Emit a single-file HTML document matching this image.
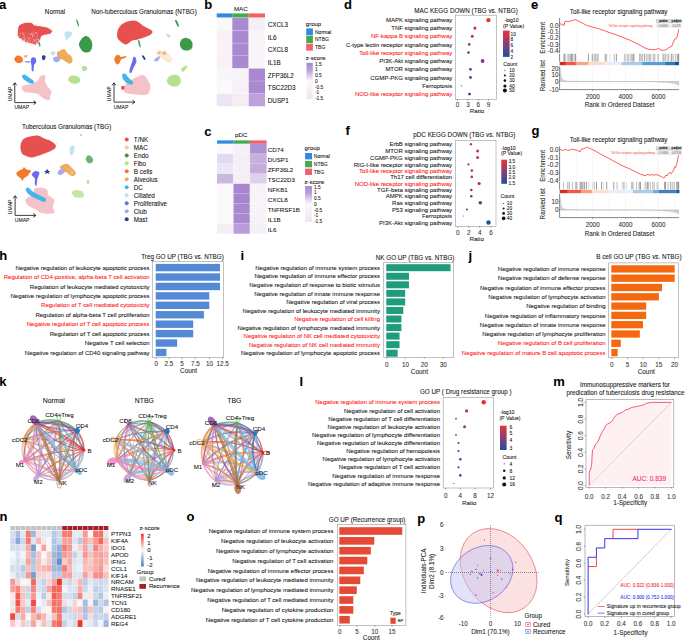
<!DOCTYPE html>
<html><head><meta charset="utf-8"><title>Figure</title>
<style>
html,body{margin:0;padding:0;background:#fff;width:685px;height:640px;overflow:hidden}
svg{display:block}
text{font-family:"Liberation Sans",sans-serif;stroke-width:0.07px}
</style></head>
<body>
<svg width="685" height="640" viewBox="0 0 685 640" font-family="Liberation Sans, sans-serif" fill="#111">
<rect width="685" height="640" fill="#ffffff"/>
<text x="-1.00" y="9.10" font-size="13" font-weight="bold" fill="#000" stroke="#000">a</text>
<text x="55.00" y="13.60" font-size="6.3" text-anchor="middle" stroke="#111">Normal</text>
<text x="144.00" y="13.60" font-size="6.3" text-anchor="middle" stroke="#111">Non-tuberculous Granulomas (NTBG)</text>
<text x="66.60" y="129.20" font-size="6.3" text-anchor="middle" stroke="#111">Tuberculous Granulomas (TBG)</text>
<path d="M18.90,26.00 C19.77,24.48 21.72,24.05 23.00,23.50 C24.28,22.95 25.15,22.77 26.60,22.70 C28.05,22.63 30.48,22.67 31.70,23.10 C32.92,23.53 32.93,24.82 33.90,25.30 C34.87,25.78 36.03,25.75 37.50,26.00 C38.97,26.25 40.98,26.48 42.70,26.80 C44.42,27.12 46.35,27.30 47.80,27.90 C49.25,28.50 50.68,29.80 51.40,30.40 C52.12,31.00 52.33,30.95 52.10,31.50 C51.87,32.05 51.22,33.15 50.00,33.70 C48.78,34.25 46.27,34.38 44.80,34.80 C43.33,35.22 41.98,35.47 41.20,36.20 C40.42,36.93 40.58,38.22 40.10,39.20 C39.62,40.18 38.97,41.20 38.30,42.10 C37.63,43.00 36.83,44.23 36.10,44.60 C35.37,44.97 34.75,44.53 33.90,44.30 C33.05,44.07 31.97,43.45 31.00,43.20 C30.03,42.95 29.08,43.10 28.10,42.80 C27.12,42.50 26.20,42.00 25.10,41.40 C24.00,40.80 22.58,39.93 21.50,39.20 C20.42,38.47 19.22,38.10 18.60,37.00 C17.98,35.90 17.75,34.43 17.80,32.60 C17.85,30.77 18.03,27.52 18.90,26.00 Z" fill="#e65050"/>
<circle cx="35.27" cy="24.45" r="0.30" fill="#e65050"/>
<circle cx="36.76" cy="43.33" r="0.30" fill="#e65050"/>
<circle cx="40.23" cy="37.65" r="0.30" fill="#e65050"/>
<circle cx="49.06" cy="28.67" r="0.30" fill="#e65050"/>
<circle cx="18.40" cy="37.89" r="0.30" fill="#e65050"/>
<circle cx="39.40" cy="42.32" r="0.30" fill="#e65050"/>
<circle cx="29.88" cy="42.89" r="0.30" fill="#e65050"/>
<circle cx="51.10" cy="34.30" r="0.30" fill="#e65050"/>
<circle cx="32.53" cy="21.82" r="0.30" fill="#e65050"/>
<circle cx="46.39" cy="35.62" r="0.30" fill="#e65050"/>
<circle cx="30.99" cy="44.04" r="0.30" fill="#e65050"/>
<circle cx="34.39" cy="43.78" r="0.30" fill="#e65050"/>
<circle cx="50.94" cy="29.48" r="0.30" fill="#e65050"/>
<circle cx="16.95" cy="27.40" r="0.30" fill="#e65050"/>
<circle cx="33.19" cy="24.54" r="0.30" fill="#e65050"/>
<circle cx="21.50" cy="25.07" r="0.30" fill="#e65050"/>
<circle cx="27.11" cy="42.91" r="0.30" fill="#e65050"/>
<circle cx="45.84" cy="26.92" r="0.30" fill="#e65050"/>
<circle cx="26.69" cy="43.25" r="0.30" fill="#e65050"/>
<circle cx="20.19" cy="25.15" r="0.30" fill="#e65050"/>
<circle cx="31.58" cy="43.55" r="0.30" fill="#e65050"/>
<circle cx="24.78" cy="23.86" r="0.30" fill="#e65050"/>
<circle cx="38.97" cy="40.70" r="0.30" fill="#e65050"/>
<circle cx="22.45" cy="40.22" r="0.30" fill="#e65050"/>
<circle cx="21.13" cy="39.54" r="0.30" fill="#e65050"/>
<circle cx="52.20" cy="30.80" r="0.30" fill="#e65050"/>
<circle cx="38.06" cy="41.97" r="0.30" fill="#e65050"/>
<circle cx="23.90" cy="40.51" r="0.30" fill="#e65050"/>
<circle cx="40.85" cy="26.55" r="0.30" fill="#e65050"/>
<circle cx="34.82" cy="43.81" r="0.30" fill="#e65050"/>
<circle cx="44.32" cy="28.02" r="0.30" fill="#e65050"/>
<circle cx="22.00" cy="40.92" r="0.30" fill="#e65050"/>
<circle cx="26.19" cy="23.52" r="0.30" fill="#e65050"/>
<circle cx="28.26" cy="44.11" r="0.30" fill="#e65050"/>
<circle cx="37.78" cy="43.22" r="0.30" fill="#e65050"/>
<circle cx="47.17" cy="33.76" r="0.30" fill="#e65050"/>
<circle cx="47.76" cy="27.45" r="0.30" fill="#e65050"/>
<circle cx="50.29" cy="32.25" r="0.30" fill="#e65050"/>
<circle cx="26.01" cy="23.14" r="0.30" fill="#e65050"/>
<circle cx="18.65" cy="28.00" r="0.30" fill="#e65050"/>
<circle cx="25.40" cy="41.27" r="0.30" fill="#e65050"/>
<circle cx="17.01" cy="35.53" r="0.30" fill="#e65050"/>
<circle cx="39.40" cy="38.34" r="0.30" fill="#e65050"/>
<circle cx="25.23" cy="42.03" r="0.30" fill="#e65050"/>
<circle cx="40.87" cy="39.34" r="0.30" fill="#e65050"/>
<circle cx="33.63" cy="43.86" r="0.30" fill="#e65050"/>
<circle cx="34.00" cy="25.17" r="0.30" fill="#e65050"/>
<circle cx="23.12" cy="39.51" r="0.30" fill="#e65050"/>
<circle cx="52.41" cy="30.62" r="0.30" fill="#e65050"/>
<circle cx="35.77" cy="25.02" r="0.30" fill="#e65050"/>
<circle cx="30.62" cy="34.34" r="0.49" fill="#ffffff" fill-opacity="0.8"/>
<circle cx="37.48" cy="37.61" r="0.40" fill="#ffffff" fill-opacity="0.8"/>
<circle cx="23.29" cy="34.66" r="0.29" fill="#ffffff" fill-opacity="0.8"/>
<circle cx="32.85" cy="34.55" r="0.49" fill="#ffffff" fill-opacity="0.8"/>
<circle cx="20.41" cy="34.32" r="0.23" fill="#ffffff" fill-opacity="0.8"/>
<circle cx="34.40" cy="36.40" r="0.34" fill="#ffffff" fill-opacity="0.8"/>
<circle cx="25.52" cy="39.65" r="0.32" fill="#ffffff" fill-opacity="0.8"/>
<circle cx="23.17" cy="37.16" r="0.29" fill="#ffffff" fill-opacity="0.8"/>
<circle cx="21.22" cy="41.88" r="0.40" fill="#ffffff" fill-opacity="0.8"/>
<circle cx="32.30" cy="42.59" r="0.32" fill="#ffffff" fill-opacity="0.8"/>
<circle cx="26.59" cy="37.08" r="0.32" fill="#ffffff" fill-opacity="0.8"/>
<circle cx="32.38" cy="32.08" r="0.34" fill="#ffffff" fill-opacity="0.8"/>
<circle cx="29.70" cy="36.15" r="0.21" fill="#ffffff" fill-opacity="0.8"/>
<circle cx="33.09" cy="32.11" r="0.37" fill="#ffffff" fill-opacity="0.8"/>
<circle cx="22.07" cy="32.41" r="0.25" fill="#ffffff" fill-opacity="0.8"/>
<circle cx="20.31" cy="33.81" r="0.41" fill="#ffffff" fill-opacity="0.8"/>
<circle cx="33.57" cy="36.35" r="0.40" fill="#ffffff" fill-opacity="0.8"/>
<circle cx="28.50" cy="37.98" r="0.46" fill="#ffffff" fill-opacity="0.8"/>
<circle cx="25.23" cy="42.44" r="0.41" fill="#ffffff" fill-opacity="0.8"/>
<circle cx="32.67" cy="32.07" r="0.23" fill="#ffffff" fill-opacity="0.8"/>
<circle cx="19.64" cy="36.15" r="0.48" fill="#ffffff" fill-opacity="0.8"/>
<circle cx="36.51" cy="42.06" r="0.24" fill="#ffffff" fill-opacity="0.8"/>
<circle cx="33.11" cy="41.29" r="0.44" fill="#ffffff" fill-opacity="0.8"/>
<circle cx="34.84" cy="33.68" r="0.25" fill="#ffffff" fill-opacity="0.8"/>
<circle cx="34.85" cy="40.86" r="0.47" fill="#ffffff" fill-opacity="0.8"/>
<circle cx="27.93" cy="42.67" r="0.24" fill="#ffffff" fill-opacity="0.8"/>
<circle cx="38.14" cy="42.61" r="0.30" fill="#ffffff" fill-opacity="0.8"/>
<circle cx="20.35" cy="38.58" r="0.41" fill="#ffffff" fill-opacity="0.8"/>
<circle cx="26.01" cy="32.69" r="0.28" fill="#ffffff" fill-opacity="0.8"/>
<circle cx="35.49" cy="33.09" r="0.48" fill="#ffffff" fill-opacity="0.8"/>
<circle cx="24.00" cy="34.45" r="0.23" fill="#ffffff" fill-opacity="0.8"/>
<circle cx="38.62" cy="42.81" r="0.30" fill="#ffffff" fill-opacity="0.8"/>
<circle cx="20.91" cy="39.84" r="0.47" fill="#ffffff" fill-opacity="0.8"/>
<circle cx="19.24" cy="39.60" r="0.46" fill="#ffffff" fill-opacity="0.8"/>
<circle cx="28.18" cy="38.83" r="0.44" fill="#ffffff" fill-opacity="0.8"/>
<circle cx="23.77" cy="35.28" r="0.40" fill="#ffffff" fill-opacity="0.8"/>
<circle cx="30.05" cy="38.42" r="0.30" fill="#ffffff" fill-opacity="0.8"/>
<circle cx="37.74" cy="35.46" r="0.40" fill="#ffffff" fill-opacity="0.8"/>
<circle cx="36.88" cy="36.81" r="0.22" fill="#ffffff" fill-opacity="0.8"/>
<circle cx="23.41" cy="32.80" r="0.24" fill="#ffffff" fill-opacity="0.8"/>
<circle cx="21.41" cy="36.11" r="0.31" fill="#ffffff" fill-opacity="0.8"/>
<circle cx="27.95" cy="39.98" r="0.40" fill="#ffffff" fill-opacity="0.8"/>
<circle cx="32.74" cy="36.37" r="0.40" fill="#ffffff" fill-opacity="0.8"/>
<circle cx="30.00" cy="33.53" r="0.36" fill="#ffffff" fill-opacity="0.8"/>
<circle cx="25.37" cy="40.11" r="0.42" fill="#ffffff" fill-opacity="0.8"/>
<circle cx="23.81" cy="37.22" r="0.34" fill="#ffffff" fill-opacity="0.8"/>
<circle cx="24.94" cy="32.49" r="0.21" fill="#ffffff" fill-opacity="0.8"/>
<circle cx="38.86" cy="40.88" r="0.33" fill="#ffffff" fill-opacity="0.8"/>
<circle cx="32.33" cy="35.23" r="0.41" fill="#ffffff" fill-opacity="0.8"/>
<circle cx="38.02" cy="41.28" r="0.34" fill="#ffffff" fill-opacity="0.8"/>
<circle cx="38.67" cy="43.07" r="0.22" fill="#ffffff" fill-opacity="0.8"/>
<circle cx="27.24" cy="37.42" r="0.28" fill="#ffffff" fill-opacity="0.8"/>
<circle cx="31.33" cy="33.72" r="0.42" fill="#ffffff" fill-opacity="0.8"/>
<circle cx="36.15" cy="32.74" r="0.41" fill="#ffffff" fill-opacity="0.8"/>
<circle cx="24.32" cy="39.66" r="0.41" fill="#ffffff" fill-opacity="0.8"/>
<circle cx="38.53" cy="41.58" r="0.30" fill="#ffffff" fill-opacity="0.8"/>
<circle cx="33.60" cy="33.76" r="0.41" fill="#ffffff" fill-opacity="0.8"/>
<circle cx="27.34" cy="35.18" r="0.27" fill="#ffffff" fill-opacity="0.8"/>
<circle cx="23.34" cy="41.56" r="0.23" fill="#ffffff" fill-opacity="0.8"/>
<circle cx="23.65" cy="34.31" r="0.25" fill="#ffffff" fill-opacity="0.8"/>
<circle cx="33.60" cy="39.05" r="0.40" fill="#ffffff" fill-opacity="0.8"/>
<circle cx="37.00" cy="37.38" r="0.21" fill="#ffffff" fill-opacity="0.8"/>
<circle cx="22.79" cy="38.20" r="0.41" fill="#ffffff" fill-opacity="0.8"/>
<circle cx="37.37" cy="38.13" r="0.27" fill="#ffffff" fill-opacity="0.8"/>
<circle cx="30.85" cy="43.22" r="0.30" fill="#ffffff" fill-opacity="0.8"/>
<circle cx="37.62" cy="42.85" r="0.37" fill="#ffffff" fill-opacity="0.8"/>
<circle cx="28.62" cy="33.55" r="0.23" fill="#ffffff" fill-opacity="0.8"/>
<circle cx="19.82" cy="39.34" r="0.41" fill="#ffffff" fill-opacity="0.8"/>
<circle cx="38.87" cy="39.23" r="0.50" fill="#ffffff" fill-opacity="0.8"/>
<circle cx="27.06" cy="33.61" r="0.22" fill="#ffffff" fill-opacity="0.8"/>
<circle cx="24.76" cy="38.37" r="0.50" fill="#ffffff" fill-opacity="0.8"/>
<circle cx="24.94" cy="34.82" r="0.42" fill="#ffffff" fill-opacity="0.8"/>
<circle cx="26.77" cy="38.70" r="0.25" fill="#ffffff" fill-opacity="0.8"/>
<circle cx="36.07" cy="43.03" r="0.43" fill="#ffffff" fill-opacity="0.8"/>
<circle cx="37.71" cy="35.99" r="0.21" fill="#ffffff" fill-opacity="0.8"/>
<circle cx="25.10" cy="42.77" r="0.34" fill="#ffffff" fill-opacity="0.8"/>
<circle cx="23.01" cy="33.81" r="0.25" fill="#ffffff" fill-opacity="0.8"/>
<circle cx="27.78" cy="43.11" r="0.47" fill="#ffffff" fill-opacity="0.8"/>
<circle cx="34.15" cy="41.07" r="0.26" fill="#ffffff" fill-opacity="0.8"/>
<circle cx="34.55" cy="34.69" r="0.36" fill="#ffffff" fill-opacity="0.8"/>
<circle cx="19.67" cy="42.71" r="0.24" fill="#ffffff" fill-opacity="0.8"/>
<circle cx="30.85" cy="39.95" r="0.39" fill="#ffffff" fill-opacity="0.8"/>
<circle cx="32.65" cy="36.43" r="0.44" fill="#ffffff" fill-opacity="0.8"/>
<circle cx="37.77" cy="39.41" r="0.49" fill="#ffffff" fill-opacity="0.8"/>
<circle cx="36.00" cy="32.67" r="0.40" fill="#ffffff" fill-opacity="0.8"/>
<circle cx="20.83" cy="39.94" r="0.31" fill="#ffffff" fill-opacity="0.8"/>
<circle cx="36.09" cy="32.54" r="0.48" fill="#ffffff" fill-opacity="0.8"/>
<circle cx="19.87" cy="32.68" r="0.20" fill="#ffffff" fill-opacity="0.8"/>
<circle cx="21.51" cy="43.83" r="0.45" fill="#ffffff" fill-opacity="0.8"/>
<circle cx="37.34" cy="34.24" r="0.41" fill="#ffffff" fill-opacity="0.8"/>
<circle cx="34.90" cy="40.72" r="0.28" fill="#ffffff" fill-opacity="0.8"/>
<circle cx="38.42" cy="40.74" r="0.41" fill="#ffffff" fill-opacity="0.8"/>
<circle cx="24.69" cy="36.77" r="0.43" fill="#ffffff" fill-opacity="0.8"/>
<circle cx="29.33" cy="37.86" r="0.48" fill="#ffffff" fill-opacity="0.8"/>
<circle cx="27.41" cy="42.31" r="0.21" fill="#ffffff" fill-opacity="0.8"/>
<circle cx="29.61" cy="40.56" r="0.20" fill="#ffffff" fill-opacity="0.8"/>
<circle cx="32.93" cy="35.43" r="0.39" fill="#ffffff" fill-opacity="0.8"/>
<circle cx="31.47" cy="33.64" r="0.48" fill="#ffffff" fill-opacity="0.8"/>
<circle cx="23.85" cy="33.64" r="0.33" fill="#ffffff" fill-opacity="0.8"/>
<circle cx="20.28" cy="33.22" r="0.43" fill="#ffffff" fill-opacity="0.8"/>
<circle cx="20.95" cy="38.50" r="0.47" fill="#ffffff" fill-opacity="0.8"/>
<circle cx="28.08" cy="41.77" r="0.45" fill="#ffffff" fill-opacity="0.8"/>
<circle cx="22.29" cy="32.92" r="0.44" fill="#ffffff" fill-opacity="0.8"/>
<circle cx="36.33" cy="42.24" r="0.41" fill="#ffffff" fill-opacity="0.8"/>
<circle cx="29.20" cy="43.49" r="0.42" fill="#ffffff" fill-opacity="0.8"/>
<circle cx="34.26" cy="42.94" r="0.22" fill="#ffffff" fill-opacity="0.8"/>
<circle cx="33.82" cy="39.01" r="0.20" fill="#ffffff" fill-opacity="0.8"/>
<circle cx="24.11" cy="40.59" r="0.36" fill="#ffffff" fill-opacity="0.8"/>
<circle cx="30.25" cy="35.45" r="0.37" fill="#ffffff" fill-opacity="0.8"/>
<circle cx="36.58" cy="43.76" r="0.37" fill="#ffffff" fill-opacity="0.8"/>
<circle cx="36.69" cy="40.74" r="0.38" fill="#ffffff" fill-opacity="0.8"/>
<circle cx="33.02" cy="39.29" r="0.22" fill="#ffffff" fill-opacity="0.8"/>
<circle cx="31.04" cy="38.73" r="0.30" fill="#ffffff" fill-opacity="0.8"/>
<circle cx="35.35" cy="43.23" r="0.23" fill="#ffffff" fill-opacity="0.8"/>
<circle cx="23.23" cy="39.33" r="0.41" fill="#ffffff" fill-opacity="0.8"/>
<circle cx="22.37" cy="39.35" r="0.23" fill="#ffffff" fill-opacity="0.8"/>
<circle cx="23.91" cy="41.14" r="0.25" fill="#ffffff" fill-opacity="0.8"/>
<circle cx="28.14" cy="42.40" r="0.38" fill="#ffffff" fill-opacity="0.8"/>
<circle cx="28.23" cy="42.72" r="0.34" fill="#ffffff" fill-opacity="0.8"/>
<circle cx="34.40" cy="39.49" r="0.29" fill="#ffffff" fill-opacity="0.8"/>
<circle cx="30.71" cy="43.68" r="0.35" fill="#ffffff" fill-opacity="0.8"/>
<circle cx="29.12" cy="39.51" r="0.27" fill="#ffffff" fill-opacity="0.8"/>
<circle cx="25.24" cy="43.92" r="0.42" fill="#ffffff" fill-opacity="0.8"/>
<circle cx="35.42" cy="41.17" r="0.38" fill="#ffffff" fill-opacity="0.8"/>
<circle cx="26.45" cy="40.89" r="0.24" fill="#ffffff" fill-opacity="0.8"/>
<circle cx="28.30" cy="39.52" r="0.22" fill="#ffffff" fill-opacity="0.8"/>
<circle cx="35.79" cy="38.58" r="0.40" fill="#ffffff" fill-opacity="0.8"/>
<circle cx="32.49" cy="38.54" r="0.32" fill="#ffffff" fill-opacity="0.8"/>
<circle cx="36.94" cy="43.92" r="0.34" fill="#ffffff" fill-opacity="0.8"/>
<circle cx="33.58" cy="42.25" r="0.27" fill="#ffffff" fill-opacity="0.8"/>
<circle cx="30.25" cy="41.58" r="0.30" fill="#ffffff" fill-opacity="0.8"/>
<circle cx="34.28" cy="40.67" r="0.39" fill="#ffffff" fill-opacity="0.8"/>
<circle cx="22.97" cy="40.67" r="0.21" fill="#ffffff" fill-opacity="0.8"/>
<circle cx="31.70" cy="43.24" r="0.34" fill="#ffffff" fill-opacity="0.8"/>
<circle cx="30.48" cy="41.73" r="0.26" fill="#ffffff" fill-opacity="0.8"/>
<circle cx="27.79" cy="41.47" r="0.36" fill="#ffffff" fill-opacity="0.8"/>
<circle cx="27.70" cy="40.86" r="0.28" fill="#ffffff" fill-opacity="0.8"/>
<circle cx="30.31" cy="42.06" r="0.28" fill="#ffffff" fill-opacity="0.8"/>
<circle cx="32.27" cy="43.09" r="0.33" fill="#ffffff" fill-opacity="0.8"/>
<circle cx="36.71" cy="39.86" r="0.43" fill="#ffffff" fill-opacity="0.8"/>
<circle cx="24.73" cy="40.18" r="0.40" fill="#ffffff" fill-opacity="0.8"/>
<circle cx="22.49" cy="41.69" r="0.42" fill="#ffffff" fill-opacity="0.8"/>
<circle cx="36.16" cy="42.09" r="0.29" fill="#ffffff" fill-opacity="0.8"/>
<circle cx="26.98" cy="41.79" r="0.22" fill="#ffffff" fill-opacity="0.8"/>
<circle cx="22.42" cy="43.29" r="0.36" fill="#ffffff" fill-opacity="0.8"/>
<circle cx="24.44" cy="40.57" r="0.27" fill="#ffffff" fill-opacity="0.8"/>
<circle cx="35.04" cy="39.72" r="0.38" fill="#ffffff" fill-opacity="0.8"/>
<circle cx="33.16" cy="39.91" r="0.26" fill="#ffffff" fill-opacity="0.8"/>
<circle cx="29.82" cy="40.40" r="0.35" fill="#ffffff" fill-opacity="0.8"/>
<circle cx="26.92" cy="42.77" r="0.31" fill="#ffffff" fill-opacity="0.8"/>
<path d="M38.50,41.60 C38.67,41.30 39.25,41.53 39.60,42.20 C39.95,42.87 40.60,44.90 40.60,45.60 C40.60,46.30 39.93,46.67 39.60,46.40 C39.27,46.13 38.78,44.80 38.60,44.00 C38.42,43.20 38.33,41.90 38.50,41.60 Z" fill="#3a9a48"/>
<path d="M82.00,38.40 C83.17,37.13 84.67,36.08 86.00,36.10 C87.33,36.12 88.95,37.13 90.00,38.50 C91.05,39.87 92.27,42.17 92.30,44.30 C92.33,46.43 91.53,49.97 90.20,51.30 C88.87,52.63 85.92,52.77 84.30,52.30 C82.68,51.83 81.38,49.93 80.50,48.50 C79.62,47.07 78.75,45.38 79.00,43.70 C79.25,42.02 80.83,39.67 82.00,38.40 Z" fill="#3a9a48"/>
<circle cx="81.79" cy="38.63" r="0.30" fill="#3a9a48"/>
<circle cx="92.32" cy="46.16" r="0.30" fill="#3a9a48"/>
<circle cx="87.79" cy="38.07" r="0.30" fill="#3a9a48"/>
<circle cx="84.29" cy="37.39" r="0.30" fill="#3a9a48"/>
<circle cx="91.09" cy="41.13" r="0.30" fill="#3a9a48"/>
<circle cx="91.10" cy="48.95" r="0.30" fill="#3a9a48"/>
<circle cx="91.47" cy="48.40" r="0.30" fill="#3a9a48"/>
<circle cx="81.01" cy="40.96" r="0.30" fill="#3a9a48"/>
<circle cx="88.34" cy="37.44" r="0.30" fill="#3a9a48"/>
<circle cx="87.45" cy="37.30" r="0.30" fill="#3a9a48"/>
<path d="M76.20,19.80 C76.23,19.23 77.13,19.65 77.60,20.60 C78.07,21.55 78.83,24.47 79.00,25.50 C79.17,26.53 78.87,27.05 78.60,26.80 C78.33,26.55 77.80,25.17 77.40,24.00 C77.00,22.83 76.17,20.37 76.20,19.80 Z" fill="#3a9a48"/>
<path d="M65.20,32.00 C65.85,31.58 67.40,31.47 68.50,31.50 C69.60,31.53 71.30,31.53 71.80,32.20 C72.30,32.87 71.88,34.62 71.50,35.50 C71.12,36.38 70.17,36.88 69.50,37.50 C68.83,38.12 68.07,38.65 67.50,39.20 C66.93,39.75 66.48,41.17 66.10,40.80 C65.72,40.43 65.45,38.13 65.20,37.00 C64.95,35.87 64.60,34.83 64.60,34.00 C64.60,33.17 64.55,32.42 65.20,32.00 Z" fill="#bfe3f3"/>
<path d="M57.00,52.50 C57.50,51.50 59.37,51.08 60.50,50.50 C61.63,49.92 62.88,48.95 63.80,49.00 C64.72,49.05 65.38,50.05 66.00,50.80 C66.62,51.55 66.75,52.72 67.50,53.50 C68.25,54.28 69.65,54.50 70.50,55.50 C71.35,56.50 72.43,58.28 72.60,59.50 C72.77,60.72 72.10,62.12 71.50,62.80 C70.90,63.48 69.83,63.68 69.00,63.60 C68.17,63.52 67.42,62.90 66.50,62.30 C65.58,61.70 64.58,60.63 63.50,60.00 C62.42,59.37 61.00,59.08 60.00,58.50 C59.00,57.92 58.00,57.50 57.50,56.50 C57.00,55.50 56.50,53.50 57.00,52.50 Z" fill="#f0aa5c"/>
<path d="M53.20,58.00 C53.62,57.18 55.40,56.48 56.50,56.40 C57.60,56.32 59.17,56.90 59.80,57.50 C60.43,58.10 60.68,59.23 60.30,60.00 C59.92,60.77 58.55,61.88 57.50,62.10 C56.45,62.32 54.72,61.98 54.00,61.30 C53.28,60.62 52.78,58.82 53.20,58.00 Z" fill="#a9a9f2"/>
<path d="M51.00,52.00 C51.50,51.52 53.25,51.35 54.00,51.60 C54.75,51.85 55.67,52.87 55.50,53.50 C55.33,54.13 53.75,55.23 53.00,55.40 C52.25,55.57 51.33,55.07 51.00,54.50 C50.67,53.93 50.50,52.48 51.00,52.00 Z" fill="#bfe3f3"/>
<path d="M42.00,56.50 C42.20,55.78 42.90,55.00 43.50,55.00 C44.10,55.00 45.32,55.92 45.60,56.50 C45.88,57.08 45.47,57.88 45.20,58.50 C44.93,59.12 44.48,60.07 44.00,60.20 C43.52,60.33 42.63,59.92 42.30,59.30 C41.97,58.68 41.80,57.22 42.00,56.50 Z" fill="#2d3f8f"/>
<path d="M15.00,57.50 C15.47,56.75 16.58,55.72 17.50,55.50 C18.42,55.28 19.62,55.70 20.50,56.20 C21.38,56.70 22.45,57.62 22.80,58.50 C23.15,59.38 23.15,60.75 22.60,61.50 C22.05,62.25 20.52,62.83 19.50,63.00 C18.48,63.17 17.30,63.00 16.50,62.50 C15.70,62.00 14.95,60.83 14.70,60.00 C14.45,59.17 14.53,58.25 15.00,57.50 Z" fill="#f37a2a"/>
<circle cx="14.62" cy="57.86" r="0.30" fill="#f37a2a"/>
<circle cx="20.93" cy="62.16" r="0.30" fill="#f37a2a"/>
<circle cx="15.77" cy="61.03" r="0.30" fill="#f37a2a"/>
<circle cx="17.44" cy="61.95" r="0.30" fill="#f37a2a"/>
<circle cx="16.40" cy="56.40" r="0.30" fill="#f37a2a"/>
<circle cx="20.89" cy="57.20" r="0.30" fill="#f37a2a"/>
<circle cx="21.71" cy="57.47" r="0.30" fill="#f37a2a"/>
<circle cx="15.45" cy="58.40" r="0.30" fill="#f37a2a"/>
<circle cx="18.30" cy="63.91" r="0.30" fill="#f37a2a"/>
<circle cx="15.20" cy="60.72" r="0.30" fill="#f37a2a"/>
<circle cx="14.30" cy="59.39" r="0.30" fill="#f37a2a"/>
<circle cx="14.68" cy="59.03" r="0.30" fill="#f37a2a"/>
<circle cx="23.50" cy="62.14" r="0.30" fill="#f37a2a"/>
<circle cx="19.88" cy="63.27" r="0.30" fill="#f37a2a"/>
<path d="M24.20,55.50 C24.67,55.07 27.02,54.85 27.40,55.20 C27.78,55.55 26.97,57.17 26.50,57.60 C26.03,58.03 24.98,58.15 24.60,57.80 C24.22,57.45 23.73,55.93 24.20,55.50 Z" fill="#f6b48a"/>
<path d="M31.50,58.00 C32.02,57.22 33.23,57.05 34.00,57.30 C34.77,57.55 35.80,58.58 36.10,59.50 C36.40,60.42 36.15,61.88 35.80,62.80 C35.45,63.72 34.35,64.13 34.00,65.00 C33.65,65.87 33.83,66.90 33.70,68.00 C33.57,69.10 33.55,71.27 33.20,71.60 C32.85,71.93 31.87,70.93 31.60,70.00 C31.33,69.07 31.72,67.33 31.60,66.00 C31.48,64.67 30.92,63.33 30.90,62.00 C30.88,60.67 30.98,58.78 31.50,58.00 Z" fill="#6a6cf0"/>
<path d="M25.20,61.10 C26.03,60.93 29.53,61.15 30.40,61.40 C31.27,61.65 31.23,62.43 30.40,62.60 C29.57,62.77 26.27,62.65 25.40,62.40 C24.53,62.15 24.37,61.27 25.20,61.10 Z" fill="#9d9ff5"/>
<path d="M81.80,67.20 C82.05,66.42 83.60,65.95 84.50,66.00 C85.40,66.05 86.92,66.80 87.20,67.50 C87.48,68.20 86.90,69.67 86.20,70.20 C85.50,70.73 83.73,71.20 83.00,70.70 C82.27,70.20 81.55,67.98 81.80,67.20 Z" fill="#b5e08e"/>
<path d="M69.00,77.50 C69.57,76.68 70.83,75.85 72.00,75.60 C73.17,75.35 74.75,75.60 76.00,76.00 C77.25,76.40 78.80,77.17 79.50,78.00 C80.20,78.83 80.62,80.10 80.20,81.00 C79.78,81.90 78.37,83.03 77.00,83.40 C75.63,83.77 73.40,83.68 72.00,83.20 C70.60,82.72 69.10,81.45 68.60,80.50 C68.10,79.55 68.43,78.32 69.00,77.50 Z" fill="#b5e08e"/>
<circle cx="68.27" cy="79.49" r="0.30" fill="#b5e08e"/>
<circle cx="74.53" cy="84.14" r="0.30" fill="#b5e08e"/>
<circle cx="79.53" cy="79.58" r="0.30" fill="#b5e08e"/>
<circle cx="77.27" cy="76.19" r="0.30" fill="#b5e08e"/>
<circle cx="72.80" cy="84.29" r="0.30" fill="#b5e08e"/>
<circle cx="80.89" cy="77.46" r="0.30" fill="#b5e08e"/>
<circle cx="69.21" cy="80.72" r="0.30" fill="#b5e08e"/>
<circle cx="69.82" cy="76.56" r="0.30" fill="#b5e08e"/>
<path d="M21.90,86.50 C22.40,85.50 24.65,85.37 26.00,85.00 C27.35,84.63 28.50,84.67 30.00,84.30 C31.50,83.93 33.62,83.52 35.00,82.80 C36.38,82.08 37.40,81.08 38.30,80.00 C39.20,78.92 39.58,77.15 40.40,76.30 C41.22,75.45 42.38,74.95 43.20,74.90 C44.02,74.85 45.00,75.07 45.30,76.00 C45.60,76.93 44.82,79.08 45.00,80.50 C45.18,81.92 45.73,83.20 46.40,84.50 C47.07,85.80 48.15,87.05 49.00,88.30 C49.85,89.55 51.25,90.80 51.50,92.00 C51.75,93.20 50.87,94.17 50.50,95.50 C50.13,96.83 50.13,99.33 49.30,100.00 C48.47,100.67 46.80,100.00 45.50,99.50 C44.20,99.00 42.83,97.92 41.50,97.00 C40.17,96.08 38.95,94.67 37.50,94.00 C36.05,93.33 34.47,93.25 32.80,93.00 C31.13,92.75 29.13,92.83 27.50,92.50 C25.87,92.17 23.93,92.00 23.00,91.00 C22.07,90.00 21.40,87.50 21.90,86.50 Z" fill="#f4c3c8"/>
<circle cx="45.68" cy="78.89" r="0.30" fill="#f4c3c8"/>
<circle cx="28.38" cy="91.74" r="0.30" fill="#f4c3c8"/>
<circle cx="45.68" cy="76.33" r="0.30" fill="#f4c3c8"/>
<circle cx="49.68" cy="98.75" r="0.30" fill="#f4c3c8"/>
<circle cx="36.32" cy="92.71" r="0.30" fill="#f4c3c8"/>
<circle cx="27.11" cy="92.34" r="0.30" fill="#f4c3c8"/>
<circle cx="21.22" cy="88.53" r="0.30" fill="#f4c3c8"/>
<circle cx="50.85" cy="98.52" r="0.30" fill="#f4c3c8"/>
<circle cx="50.53" cy="93.04" r="0.30" fill="#f4c3c8"/>
<circle cx="46.77" cy="101.14" r="0.30" fill="#f4c3c8"/>
<circle cx="25.58" cy="92.86" r="0.30" fill="#f4c3c8"/>
<circle cx="24.38" cy="84.37" r="0.30" fill="#f4c3c8"/>
<circle cx="52.60" cy="92.61" r="0.30" fill="#f4c3c8"/>
<circle cx="44.65" cy="73.73" r="0.30" fill="#f4c3c8"/>
<circle cx="37.26" cy="95.64" r="0.30" fill="#f4c3c8"/>
<circle cx="45.44" cy="98.84" r="0.30" fill="#f4c3c8"/>
<circle cx="34.16" cy="82.86" r="0.30" fill="#f4c3c8"/>
<circle cx="50.99" cy="90.10" r="0.30" fill="#f4c3c8"/>
<circle cx="27.87" cy="84.05" r="0.30" fill="#f4c3c8"/>
<circle cx="44.77" cy="76.38" r="0.30" fill="#f4c3c8"/>
<circle cx="51.51" cy="89.41" r="0.30" fill="#f4c3c8"/>
<circle cx="42.70" cy="97.73" r="0.30" fill="#f4c3c8"/>
<circle cx="36.88" cy="80.34" r="0.30" fill="#f4c3c8"/>
<circle cx="44.68" cy="79.74" r="0.30" fill="#f4c3c8"/>
<path d="M22.30,75.30 C22.63,74.68 24.05,74.55 25.00,74.80 C25.95,75.05 26.92,76.05 28.00,76.80 C29.08,77.55 30.53,78.52 31.50,79.30 C32.47,80.08 33.55,80.78 33.80,81.50 C34.05,82.22 33.72,83.35 33.00,83.60 C32.28,83.85 30.67,83.43 29.50,83.00 C28.33,82.57 27.08,81.75 26.00,81.00 C24.92,80.25 23.62,79.45 23.00,78.50 C22.38,77.55 21.97,75.92 22.30,75.30 Z" fill="#45b4ec"/>
<circle cx="32.40" cy="79.27" r="0.30" fill="#45b4ec"/>
<circle cx="23.52" cy="75.21" r="0.30" fill="#45b4ec"/>
<circle cx="33.22" cy="81.04" r="0.30" fill="#45b4ec"/>
<circle cx="34.72" cy="82.74" r="0.30" fill="#45b4ec"/>
<circle cx="33.85" cy="82.31" r="0.30" fill="#45b4ec"/>
<circle cx="33.20" cy="83.73" r="0.30" fill="#45b4ec"/>
<circle cx="29.66" cy="78.01" r="0.30" fill="#45b4ec"/>
<circle cx="22.31" cy="76.35" r="0.30" fill="#45b4ec"/>
<circle cx="33.10" cy="83.56" r="0.30" fill="#45b4ec"/>
<circle cx="27.49" cy="82.59" r="0.30" fill="#45b4ec"/>
<circle cx="24.62" cy="74.76" r="0.30" fill="#45b4ec"/>
<circle cx="24.33" cy="78.47" r="0.30" fill="#45b4ec"/>
<circle cx="32.47" cy="80.60" r="0.30" fill="#45b4ec"/>
<circle cx="30.41" cy="83.75" r="0.30" fill="#45b4ec"/>
<path d="M14.8,83.0 L14.8,102.6 L35.800000000000004,102.6" fill="none" stroke="#1a1a1a" stroke-width="0.85"/>
<path d="M12.9,85.3 L14.8,82.7 L16.7,85.3" fill="none" stroke="#1a1a1a" stroke-width="0.85"/>
<path d="M33.5,100.69999999999999 L36.1,102.6 L33.5,104.5" fill="none" stroke="#1a1a1a" stroke-width="0.85"/>
<text x="21.80" y="108.90" font-size="5.1" text-anchor="middle" stroke="#111">UMAP</text>
<text x="11.80" y="94.00" font-size="5.1" text-anchor="middle" stroke="#111" transform="rotate(-90 11.8 94.0)">UMAP</text>
<path d="M117.50,31.30 C117.92,29.33 118.75,27.77 120.00,26.30 C121.25,24.83 122.70,23.45 125.00,22.50 C127.30,21.55 131.50,20.60 133.80,20.60 C136.10,20.60 137.13,21.55 138.80,22.50 C140.47,23.45 141.93,25.15 143.80,26.30 C145.67,27.45 148.55,28.47 150.00,29.40 C151.45,30.33 152.50,30.97 152.50,31.90 C152.50,32.83 151.45,34.07 150.00,35.00 C148.55,35.93 145.88,36.77 143.80,37.50 C141.72,38.23 139.48,38.88 137.50,39.40 C135.52,39.92 133.77,39.77 131.90,40.60 C130.03,41.43 128.07,44.18 126.30,44.40 C124.53,44.62 122.77,42.95 121.30,41.90 C119.83,40.85 118.13,39.87 117.50,38.10 C116.87,36.33 117.08,33.27 117.50,31.30 Z" fill="#e65050"/>
<circle cx="142.41" cy="38.35" r="0.30" fill="#e65050"/>
<circle cx="132.38" cy="40.59" r="0.30" fill="#e65050"/>
<circle cx="137.00" cy="39.65" r="0.30" fill="#e65050"/>
<circle cx="151.50" cy="30.41" r="0.30" fill="#e65050"/>
<circle cx="140.06" cy="22.71" r="0.30" fill="#e65050"/>
<circle cx="119.75" cy="24.99" r="0.30" fill="#e65050"/>
<circle cx="120.90" cy="42.16" r="0.30" fill="#e65050"/>
<circle cx="126.98" cy="21.13" r="0.30" fill="#e65050"/>
<circle cx="134.47" cy="20.31" r="0.30" fill="#e65050"/>
<circle cx="150.48" cy="29.78" r="0.30" fill="#e65050"/>
<circle cx="120.85" cy="24.59" r="0.30" fill="#e65050"/>
<circle cx="130.34" cy="41.83" r="0.30" fill="#e65050"/>
<path d="M138.00,40.60 C138.02,39.68 139.07,39.95 139.50,41.00 C139.93,42.05 140.62,45.98 140.60,46.90 C140.58,47.82 139.83,47.55 139.40,46.50 C138.97,45.45 137.98,41.52 138.00,40.60 Z" fill="#3a9a48"/>
<path d="M181.00,40.50 C181.83,39.35 183.50,38.27 185.00,38.10 C186.50,37.93 188.75,38.60 190.00,39.50 C191.25,40.40 192.25,42.00 192.50,43.50 C192.75,45.00 192.42,47.32 191.50,48.50 C190.58,49.68 188.58,50.52 187.00,50.60 C185.42,50.68 183.17,49.93 182.00,49.00 C180.83,48.07 180.17,46.42 180.00,45.00 C179.83,43.58 180.17,41.65 181.00,40.50 Z" fill="#3a9a48"/>
<circle cx="186.51" cy="39.13" r="0.30" fill="#3a9a48"/>
<circle cx="180.33" cy="39.57" r="0.30" fill="#3a9a48"/>
<circle cx="180.33" cy="41.29" r="0.30" fill="#3a9a48"/>
<circle cx="186.51" cy="37.75" r="0.30" fill="#3a9a48"/>
<circle cx="188.49" cy="39.82" r="0.30" fill="#3a9a48"/>
<circle cx="188.83" cy="49.49" r="0.30" fill="#3a9a48"/>
<circle cx="191.57" cy="49.11" r="0.30" fill="#3a9a48"/>
<circle cx="183.90" cy="50.37" r="0.30" fill="#3a9a48"/>
<circle cx="183.44" cy="38.79" r="0.30" fill="#3a9a48"/>
<circle cx="185.44" cy="37.03" r="0.30" fill="#3a9a48"/>
<circle cx="189.98" cy="48.41" r="0.30" fill="#3a9a48"/>
<circle cx="192.16" cy="47.38" r="0.30" fill="#3a9a48"/>
<circle cx="190.77" cy="39.79" r="0.30" fill="#3a9a48"/>
<circle cx="189.54" cy="49.75" r="0.30" fill="#3a9a48"/>
<path d="M175.00,20.20 C175.10,19.72 176.17,19.72 176.80,20.60 C177.43,21.48 178.60,24.45 178.80,25.50 C179.00,26.55 178.43,27.23 178.00,26.90 C177.57,26.57 176.70,24.62 176.20,23.50 C175.70,22.38 174.90,20.68 175.00,20.20 Z" fill="#3a9a48"/>
<path d="M166.30,34.50 C166.57,34.05 167.88,33.52 168.60,33.80 C169.32,34.08 170.53,35.58 170.60,36.20 C170.67,36.82 169.60,37.45 169.00,37.50 C168.40,37.55 167.45,37.00 167.00,36.50 C166.55,36.00 166.03,34.95 166.30,34.50 Z" fill="#bfe3f3"/>
<path d="M157.00,52.50 C157.17,51.63 159.00,50.80 160.00,50.80 C161.00,50.80 162.17,52.53 163.00,52.50 C163.83,52.47 164.33,50.43 165.00,50.60 C165.67,50.77 165.95,52.27 167.00,53.50 C168.05,54.73 170.80,56.60 171.30,58.00 C171.80,59.40 170.80,61.40 170.00,61.90 C169.20,62.40 167.67,61.65 166.50,61.00 C165.33,60.35 164.25,58.83 163.00,58.00 C161.75,57.17 160.00,56.92 159.00,56.00 C158.00,55.08 156.83,53.37 157.00,52.50 Z" fill="#f0aa5c" fill-opacity="0.25" stroke="#f0aa5c" stroke-width="0.7" stroke-opacity="0.7" stroke-dasharray="0.6,0.6"/>
<path d="M162.00,52.50 C162.25,51.92 164.33,51.25 165.00,51.50 C165.67,51.75 166.25,53.42 166.00,54.00 C165.75,54.58 164.17,55.25 163.50,55.00 C162.83,54.75 161.75,53.08 162.00,52.50 Z" fill="#f0aa5c" fill-opacity="0.8"/>
<path d="M157.50,52.50 C157.83,52.08 159.50,51.33 160.00,51.50 C160.50,51.67 160.83,53.08 160.50,53.50 C160.17,53.92 158.50,54.17 158.00,54.00 C157.50,53.83 157.17,52.92 157.50,52.50 Z" fill="#f0aa5c" fill-opacity="0.8"/>
<path d="M154.40,59.50 C154.88,58.83 156.57,57.53 157.50,57.00 C158.43,56.47 159.75,55.88 160.00,56.30 C160.25,56.72 159.50,58.67 159.00,59.50 C158.50,60.33 157.73,61.05 157.00,61.30 C156.27,61.55 155.03,61.30 154.60,61.00 C154.17,60.70 153.92,60.17 154.40,59.50 Z" fill="#a9a9f2"/>
<path d="M141.90,55.80 C141.92,55.32 142.68,55.10 143.30,55.60 C143.92,56.10 145.35,58.07 145.60,58.80 C145.85,59.53 145.20,60.05 144.80,60.00 C144.40,59.95 143.68,59.20 143.20,58.50 C142.72,57.80 141.88,56.28 141.90,55.80 Z" fill="#2d3f8f"/>
<path d="M114.40,58.50 C114.68,57.45 115.65,55.68 116.50,55.20 C117.35,54.72 118.75,55.30 119.50,55.60 C120.25,55.90 119.87,56.93 121.00,57.00 C122.13,57.07 125.63,55.83 126.30,56.00 C126.97,56.17 125.88,57.42 125.00,58.00 C124.12,58.58 121.92,58.67 121.00,59.50 C120.08,60.33 120.17,62.18 119.50,63.00 C118.83,63.82 117.78,64.65 117.00,64.40 C116.22,64.15 115.23,62.48 114.80,61.50 C114.37,60.52 114.12,59.55 114.40,58.50 Z" fill="#f37a2a"/>
<circle cx="120.41" cy="60.01" r="0.30" fill="#f37a2a"/>
<circle cx="117.69" cy="54.66" r="0.30" fill="#f37a2a"/>
<circle cx="120.45" cy="60.14" r="0.30" fill="#f37a2a"/>
<circle cx="115.06" cy="61.90" r="0.30" fill="#f37a2a"/>
<circle cx="114.27" cy="59.81" r="0.30" fill="#f37a2a"/>
<circle cx="119.23" cy="55.74" r="0.30" fill="#f37a2a"/>
<circle cx="119.10" cy="54.91" r="0.30" fill="#f37a2a"/>
<circle cx="118.13" cy="55.34" r="0.30" fill="#f37a2a"/>
<path d="M133.50,56.90 C134.10,56.32 135.33,57.15 135.80,58.00 C136.27,58.85 136.52,60.67 136.30,62.00 C136.08,63.33 135.13,64.67 134.50,66.00 C133.87,67.33 133.08,68.82 132.50,70.00 C131.92,71.18 131.52,72.85 131.00,73.10 C130.48,73.35 129.48,72.60 129.40,71.50 C129.32,70.40 130.03,68.17 130.50,66.50 C130.97,64.83 131.70,63.10 132.20,61.50 C132.70,59.90 132.90,57.48 133.50,56.90 Z" fill="#6a6cf0"/>
<path d="M181.50,68.50 C182.33,67.45 186.83,65.43 187.50,65.60 C188.17,65.77 186.33,68.45 185.50,69.50 C184.67,70.55 183.17,72.07 182.50,71.90 C181.83,71.73 180.67,69.55 181.50,68.50 Z" fill="#b5e08e"/>
<path d="M167.50,78.50 C168.17,77.22 170.00,75.88 171.50,75.30 C173.00,74.72 175.08,74.63 176.50,75.00 C177.92,75.37 179.32,76.25 180.00,77.50 C180.68,78.75 181.10,81.03 180.60,82.50 C180.10,83.97 178.52,85.72 177.00,86.30 C175.48,86.88 173.08,86.55 171.50,86.00 C169.92,85.45 168.17,84.25 167.50,83.00 C166.83,81.75 166.83,79.78 167.50,78.50 Z" fill="#b5e08e"/>
<path d="M124.50,85.50 C125.53,84.08 128.25,81.75 130.00,80.50 C131.75,79.25 133.50,78.75 135.00,78.00 C136.50,77.25 137.75,76.50 139.00,76.00 C140.25,75.50 141.33,74.83 142.50,75.00 C143.67,75.17 145.08,76.08 146.00,77.00 C146.92,77.92 147.33,79.25 148.00,80.50 C148.67,81.75 149.67,82.92 150.00,84.50 C150.33,86.08 150.50,88.33 150.00,90.00 C149.50,91.67 148.67,93.67 147.00,94.50 C145.33,95.33 142.67,95.08 140.00,95.00 C137.33,94.92 133.50,94.42 131.00,94.00 C128.50,93.58 126.20,93.33 125.00,92.50 C123.80,91.67 123.88,90.17 123.80,89.00 C123.72,87.83 123.47,86.92 124.50,85.50 Z" fill="#f4c3c8"/>
<circle cx="139.76" cy="74.75" r="0.30" fill="#f4c3c8"/>
<circle cx="135.27" cy="77.00" r="0.30" fill="#f4c3c8"/>
<circle cx="150.23" cy="87.91" r="0.30" fill="#f4c3c8"/>
<circle cx="147.16" cy="80.50" r="0.30" fill="#f4c3c8"/>
<circle cx="150.31" cy="82.45" r="0.30" fill="#f4c3c8"/>
<circle cx="135.30" cy="78.09" r="0.30" fill="#f4c3c8"/>
<circle cx="138.71" cy="95.52" r="0.30" fill="#f4c3c8"/>
<circle cx="147.00" cy="93.60" r="0.30" fill="#f4c3c8"/>
<circle cx="128.22" cy="83.24" r="0.30" fill="#f4c3c8"/>
<circle cx="127.42" cy="93.90" r="0.30" fill="#f4c3c8"/>
<circle cx="148.21" cy="81.12" r="0.30" fill="#f4c3c8"/>
<circle cx="128.42" cy="94.08" r="0.30" fill="#f4c3c8"/>
<circle cx="143.19" cy="74.24" r="0.30" fill="#f4c3c8"/>
<circle cx="122.89" cy="86.88" r="0.30" fill="#f4c3c8"/>
<circle cx="125.49" cy="83.60" r="0.30" fill="#f4c3c8"/>
<circle cx="145.46" cy="75.77" r="0.30" fill="#f4c3c8"/>
<path d="M122.50,74.20 C122.97,73.80 124.17,73.22 125.00,73.60 C125.83,73.98 126.58,75.52 127.50,76.50 C128.42,77.48 129.58,78.58 130.50,79.50 C131.42,80.42 132.75,81.15 133.00,82.00 C133.25,82.85 132.75,84.27 132.00,84.60 C131.25,84.93 129.67,84.52 128.50,84.00 C127.33,83.48 125.95,82.42 125.00,81.50 C124.05,80.58 123.27,79.42 122.80,78.50 C122.33,77.58 122.25,76.72 122.20,76.00 C122.15,75.28 122.03,74.60 122.50,74.20 Z" fill="#45b4ec"/>
<circle cx="128.38" cy="78.36" r="0.30" fill="#45b4ec"/>
<circle cx="123.13" cy="78.60" r="0.30" fill="#45b4ec"/>
<circle cx="122.01" cy="73.12" r="0.30" fill="#45b4ec"/>
<circle cx="133.01" cy="82.84" r="0.30" fill="#45b4ec"/>
<circle cx="126.06" cy="82.30" r="0.30" fill="#45b4ec"/>
<circle cx="125.74" cy="75.59" r="0.30" fill="#45b4ec"/>
<path d="M121.30,86.50 C121.73,85.98 123.68,85.85 124.20,86.30 C124.72,86.75 124.83,88.68 124.40,89.20 C123.97,89.72 122.12,89.85 121.60,89.40 C121.08,88.95 120.87,87.02 121.30,86.50 Z" fill="#e65050"/>
<path d="M114.0,83.1 L114.0,102.1 L134.7,102.1" fill="none" stroke="#1a1a1a" stroke-width="0.85"/>
<path d="M112.1,85.39999999999999 L114.0,82.8 L115.9,85.39999999999999" fill="none" stroke="#1a1a1a" stroke-width="0.85"/>
<path d="M132.4,100.19999999999999 L135.0,102.1 L132.4,104.0" fill="none" stroke="#1a1a1a" stroke-width="0.85"/>
<text x="121.00" y="109.10" font-size="5.1" text-anchor="middle" stroke="#111">UMAP</text>
<text x="111.00" y="93.80" font-size="5.1" text-anchor="middle" stroke="#111" transform="rotate(-90 111.0 93.8)">UMAP</text>
<path d="M20.40,146.30 C20.52,144.08 21.42,141.53 22.60,140.00 C23.78,138.47 25.52,137.82 27.50,137.10 C29.48,136.38 32.63,135.93 34.50,135.70 C36.37,135.47 37.05,135.22 38.70,135.70 C40.35,136.18 42.28,137.65 44.40,138.60 C46.52,139.55 49.53,140.35 51.40,141.40 C53.27,142.45 55.02,143.73 55.60,144.90 C56.18,146.07 55.83,147.35 54.90,148.40 C53.97,149.45 51.98,150.27 50.00,151.20 C48.02,152.13 45.12,153.18 43.00,154.00 C40.88,154.82 39.18,155.50 37.30,156.10 C35.42,156.70 33.57,157.60 31.70,157.60 C29.83,157.60 27.73,156.82 26.10,156.10 C24.47,155.38 22.85,154.93 21.90,153.30 C20.95,151.67 20.28,148.52 20.40,146.30 Z" fill="#e65050"/>
<circle cx="54.62" cy="147.25" r="0.30" fill="#e65050"/>
<circle cx="48.31" cy="139.53" r="0.30" fill="#e65050"/>
<circle cx="45.16" cy="154.09" r="0.30" fill="#e65050"/>
<circle cx="34.45" cy="156.04" r="0.30" fill="#e65050"/>
<circle cx="21.97" cy="153.65" r="0.30" fill="#e65050"/>
<circle cx="31.54" cy="158.07" r="0.30" fill="#e65050"/>
<circle cx="29.35" cy="156.23" r="0.30" fill="#e65050"/>
<circle cx="40.75" cy="136.52" r="0.30" fill="#e65050"/>
<circle cx="51.72" cy="140.99" r="0.30" fill="#e65050"/>
<circle cx="56.38" cy="143.19" r="0.30" fill="#e65050"/>
<circle cx="27.35" cy="157.01" r="0.30" fill="#e65050"/>
<circle cx="22.02" cy="139.10" r="0.30" fill="#e65050"/>
<circle cx="50.44" cy="151.20" r="0.30" fill="#e65050"/>
<circle cx="26.88" cy="138.47" r="0.30" fill="#e65050"/>
<path d="M70.00,147.50 C70.47,146.35 71.73,145.68 72.50,145.60 C73.27,145.52 74.35,146.10 74.60,147.00 C74.85,147.90 74.47,149.60 74.00,151.00 C73.53,152.40 72.52,155.15 71.80,155.40 C71.08,155.65 70.00,153.82 69.70,152.50 C69.40,151.18 69.53,148.65 70.00,147.50 Z" fill="#bfe3f3"/>
<circle cx="81.00" cy="135.00" r="0.70" fill="#3a9a48"/>
<path d="M86.50,157.00 C86.92,156.20 87.75,155.28 88.50,155.20 C89.25,155.12 90.22,155.78 91.00,156.50 C91.78,157.22 93.12,158.50 93.20,159.50 C93.28,160.50 92.32,161.92 91.50,162.50 C90.68,163.08 89.22,163.42 88.30,163.00 C87.38,162.58 86.30,161.00 86.00,160.00 C85.70,159.00 86.08,157.80 86.50,157.00 Z" fill="#3a9a48" fill-opacity="0.75"/>
<circle cx="90.57" cy="162.53" r="0.30" fill="#3a9a48"/>
<circle cx="91.31" cy="162.15" r="0.30" fill="#3a9a48"/>
<circle cx="91.78" cy="156.26" r="0.30" fill="#3a9a48"/>
<circle cx="91.62" cy="161.81" r="0.30" fill="#3a9a48"/>
<circle cx="87.38" cy="161.89" r="0.30" fill="#3a9a48"/>
<circle cx="92.99" cy="162.27" r="0.30" fill="#3a9a48"/>
<circle cx="87.14" cy="156.73" r="0.30" fill="#3a9a48"/>
<circle cx="90.08" cy="163.07" r="0.30" fill="#3a9a48"/>
<circle cx="92.23" cy="161.00" r="0.30" fill="#3a9a48"/>
<circle cx="85.24" cy="159.32" r="0.30" fill="#3a9a48"/>
<circle cx="87.18" cy="157.46" r="0.30" fill="#3a9a48"/>
<circle cx="92.44" cy="160.52" r="0.30" fill="#3a9a48"/>
<path d="M60.00,167.00 C60.17,166.00 62.23,165.02 63.50,164.50 C64.77,163.98 66.43,163.57 67.60,163.90 C68.77,164.23 69.52,165.57 70.50,166.50 C71.48,167.43 72.58,168.42 73.50,169.50 C74.42,170.58 75.93,171.95 76.00,173.00 C76.07,174.05 74.82,175.38 73.90,175.80 C72.98,176.22 71.73,176.05 70.50,175.50 C69.27,174.95 67.83,173.33 66.50,172.50 C65.17,171.67 63.58,171.42 62.50,170.50 C61.42,169.58 59.83,168.00 60.00,167.00 Z" fill="#f0aa5c"/>
<circle cx="67.33" cy="172.62" r="0.29" fill="#ffffff" fill-opacity="0.7"/>
<circle cx="72.41" cy="172.56" r="0.35" fill="#ffffff" fill-opacity="0.7"/>
<circle cx="71.56" cy="172.25" r="0.26" fill="#ffffff" fill-opacity="0.7"/>
<circle cx="70.77" cy="172.65" r="0.38" fill="#ffffff" fill-opacity="0.7"/>
<circle cx="73.92" cy="173.51" r="0.34" fill="#ffffff" fill-opacity="0.7"/>
<circle cx="68.04" cy="168.96" r="0.45" fill="#ffffff" fill-opacity="0.7"/>
<circle cx="72.21" cy="172.57" r="0.36" fill="#ffffff" fill-opacity="0.7"/>
<circle cx="70.51" cy="169.67" r="0.38" fill="#ffffff" fill-opacity="0.7"/>
<circle cx="67.31" cy="172.66" r="0.41" fill="#ffffff" fill-opacity="0.7"/>
<circle cx="72.03" cy="169.85" r="0.27" fill="#ffffff" fill-opacity="0.7"/>
<circle cx="69.00" cy="173.16" r="0.38" fill="#ffffff" fill-opacity="0.7"/>
<circle cx="72.73" cy="171.23" r="0.35" fill="#ffffff" fill-opacity="0.7"/>
<circle cx="74.17" cy="169.25" r="0.30" fill="#ffffff" fill-opacity="0.7"/>
<circle cx="71.30" cy="172.74" r="0.36" fill="#ffffff" fill-opacity="0.7"/>
<circle cx="71.02" cy="171.30" r="0.42" fill="#ffffff" fill-opacity="0.7"/>
<circle cx="74.00" cy="174.19" r="0.41" fill="#ffffff" fill-opacity="0.7"/>
<circle cx="70.23" cy="175.11" r="0.36" fill="#ffffff" fill-opacity="0.7"/>
<circle cx="71.63" cy="174.51" r="0.42" fill="#ffffff" fill-opacity="0.7"/>
<path d="M57.70,172.00 C57.95,170.98 59.82,169.33 61.00,169.00 C62.18,168.67 64.38,169.25 64.80,170.00 C65.22,170.75 64.38,172.65 63.50,173.50 C62.62,174.35 60.47,175.35 59.50,175.10 C58.53,174.85 57.45,173.02 57.70,172.00 Z" fill="#a9a9f2"/>
<polygon points="47.2,168.8 48.2,170.7 50.1,170.9 48.8,172.3 49.4,173.9 47.2,172.9 45,173.9 45.6,172.3 44.3,170.9 46.2,170.7" fill="#2d3f8f"/>
<path d="M16.50,173.00 C16.83,172.08 18.50,171.17 19.50,170.50 C20.50,169.83 21.67,169.52 22.50,169.00 C23.33,168.48 23.83,167.32 24.50,167.40 C25.17,167.48 25.42,168.98 26.50,169.50 C27.58,170.02 30.50,169.92 31.00,170.50 C31.50,171.08 30.08,172.08 29.50,173.00 C28.92,173.92 28.42,175.17 27.50,176.00 C26.58,176.83 24.83,177.20 24.00,178.00 C23.17,178.80 23.08,180.80 22.50,180.80 C21.92,180.80 21.33,178.80 20.50,178.00 C19.67,177.20 18.17,176.83 17.50,176.00 C16.83,175.17 16.17,173.92 16.50,173.00 Z" fill="#f37a2a"/>
<circle cx="28.72" cy="170.17" r="0.30" fill="#f37a2a"/>
<circle cx="19.42" cy="177.85" r="0.30" fill="#f37a2a"/>
<circle cx="23.02" cy="167.69" r="0.30" fill="#f37a2a"/>
<circle cx="23.33" cy="167.02" r="0.30" fill="#f37a2a"/>
<circle cx="23.31" cy="168.12" r="0.30" fill="#f37a2a"/>
<circle cx="25.55" cy="177.42" r="0.30" fill="#f37a2a"/>
<circle cx="25.71" cy="167.98" r="0.30" fill="#f37a2a"/>
<circle cx="30.23" cy="172.41" r="0.30" fill="#f37a2a"/>
<circle cx="20.99" cy="179.16" r="0.30" fill="#f37a2a"/>
<circle cx="16.81" cy="173.10" r="0.30" fill="#f37a2a"/>
<path d="M33.50,172.00 C34.22,171.40 35.02,170.82 36.00,170.90 C36.98,170.98 38.98,171.65 39.40,172.50 C39.82,173.35 38.87,174.75 38.50,176.00 C38.13,177.25 37.53,178.38 37.20,180.00 C36.87,181.62 36.90,185.03 36.50,185.70 C36.10,186.37 35.05,185.12 34.80,184.00 C34.55,182.88 35.30,180.25 35.00,179.00 C34.70,177.75 33.55,177.25 33.00,176.50 C32.45,175.75 31.62,175.25 31.70,174.50 C31.78,173.75 32.78,172.60 33.50,172.00 Z" fill="#6a6cf0"/>
<path d="M86.60,181.00 C86.80,180.40 88.03,179.63 88.50,180.00 C88.97,180.37 89.60,182.60 89.40,183.20 C89.20,183.80 87.77,183.97 87.30,183.60 C86.83,183.23 86.40,181.60 86.60,181.00 Z" fill="#b5e08e"/>
<path d="M72.00,192.00 C72.33,191.00 74.17,190.25 75.50,190.00 C76.83,189.75 78.62,189.92 80.00,190.50 C81.38,191.08 83.30,192.42 83.80,193.50 C84.30,194.58 83.97,196.30 83.00,197.00 C82.03,197.70 79.58,197.87 78.00,197.70 C76.42,197.53 74.50,196.95 73.50,196.00 C72.50,195.05 71.67,193.00 72.00,192.00 Z" fill="#b5e08e" fill-opacity="0.8"/>
<circle cx="73.96" cy="190.12" r="0.30" fill="#b5e08e"/>
<circle cx="77.07" cy="197.12" r="0.30" fill="#b5e08e"/>
<circle cx="74.77" cy="195.81" r="0.30" fill="#b5e08e"/>
<circle cx="71.69" cy="192.94" r="0.30" fill="#b5e08e"/>
<circle cx="76.03" cy="196.34" r="0.30" fill="#b5e08e"/>
<circle cx="74.10" cy="190.04" r="0.30" fill="#b5e08e"/>
<circle cx="79.50" cy="191.18" r="0.30" fill="#b5e08e"/>
<circle cx="83.43" cy="197.36" r="0.30" fill="#b5e08e"/>
<circle cx="74.48" cy="197.23" r="0.30" fill="#b5e08e"/>
<circle cx="79.85" cy="197.41" r="0.30" fill="#b5e08e"/>
<circle cx="82.34" cy="191.33" r="0.30" fill="#b5e08e"/>
<circle cx="80.23" cy="191.27" r="0.30" fill="#b5e08e"/>
<circle cx="82.97" cy="197.20" r="0.30" fill="#b5e08e"/>
<circle cx="83.51" cy="195.19" r="0.30" fill="#b5e08e"/>
<path d="M26.10,199.00 C27.27,197.58 31.70,195.85 33.10,194.10 C34.50,192.35 33.08,189.55 34.50,188.50 C35.92,187.45 39.48,187.57 41.60,187.80 C43.72,188.03 46.03,188.62 47.20,189.90 C48.37,191.18 47.43,193.85 48.60,195.50 C49.77,197.15 53.50,197.92 54.20,199.80 C54.90,201.68 52.80,204.70 52.80,206.80 C52.80,208.90 54.90,211.23 54.20,212.40 C53.50,213.57 50.95,213.80 48.60,213.80 C46.25,213.80 42.22,213.10 40.10,212.40 C37.98,211.70 37.77,210.65 35.90,209.60 C34.03,208.55 30.53,207.27 28.90,206.10 C27.27,204.93 26.57,203.78 26.10,202.60 C25.63,201.42 24.93,200.42 26.10,199.00 Z" fill="#f4c3c8"/>
<circle cx="41.10" cy="187.89" r="0.30" fill="#f4c3c8"/>
<circle cx="24.83" cy="198.90" r="0.30" fill="#f4c3c8"/>
<circle cx="50.32" cy="196.13" r="0.30" fill="#f4c3c8"/>
<circle cx="47.77" cy="190.71" r="0.30" fill="#f4c3c8"/>
<circle cx="50.67" cy="195.55" r="0.30" fill="#f4c3c8"/>
<circle cx="54.21" cy="212.29" r="0.30" fill="#f4c3c8"/>
<circle cx="55.00" cy="210.60" r="0.30" fill="#f4c3c8"/>
<circle cx="27.52" cy="200.36" r="0.30" fill="#f4c3c8"/>
<circle cx="43.14" cy="188.76" r="0.30" fill="#f4c3c8"/>
<circle cx="35.00" cy="210.42" r="0.30" fill="#f4c3c8"/>
<circle cx="34.34" cy="193.01" r="0.30" fill="#f4c3c8"/>
<circle cx="47.36" cy="192.72" r="0.30" fill="#f4c3c8"/>
<circle cx="48.41" cy="196.08" r="0.30" fill="#f4c3c8"/>
<circle cx="52.83" cy="205.37" r="0.30" fill="#f4c3c8"/>
<circle cx="25.10" cy="199.69" r="0.30" fill="#f4c3c8"/>
<circle cx="54.87" cy="199.19" r="0.30" fill="#f4c3c8"/>
<circle cx="33.31" cy="192.63" r="0.30" fill="#f4c3c8"/>
<circle cx="54.62" cy="210.66" r="0.30" fill="#f4c3c8"/>
<circle cx="54.38" cy="212.39" r="0.30" fill="#f4c3c8"/>
<circle cx="45.33" cy="214.06" r="0.30" fill="#f4c3c8"/>
<circle cx="27.63" cy="196.91" r="0.30" fill="#f4c3c8"/>
<circle cx="40.55" cy="212.53" r="0.30" fill="#f4c3c8"/>
<circle cx="31.64" cy="193.68" r="0.30" fill="#f4c3c8"/>
<circle cx="36.80" cy="209.31" r="0.30" fill="#f4c3c8"/>
<path d="M26.10,188.50 C26.47,187.88 27.68,187.55 28.50,187.80 C29.32,188.05 29.92,189.13 31.00,190.00 C32.08,190.87 33.50,192.08 35.00,193.00 C36.50,193.92 38.20,194.58 40.00,195.50 C41.80,196.42 45.05,197.43 45.80,198.50 C46.55,199.57 45.63,201.65 44.50,201.90 C43.37,202.15 40.83,200.73 39.00,200.00 C37.17,199.27 35.17,198.42 33.50,197.50 C31.83,196.58 30.20,195.50 29.00,194.50 C27.80,193.50 26.78,192.50 26.30,191.50 C25.82,190.50 25.73,189.12 26.10,188.50 Z" fill="#45b4ec"/>
<circle cx="44.62" cy="199.16" r="0.30" fill="#45b4ec"/>
<circle cx="25.78" cy="189.07" r="0.30" fill="#45b4ec"/>
<circle cx="46.09" cy="200.49" r="0.30" fill="#45b4ec"/>
<circle cx="40.43" cy="195.93" r="0.30" fill="#45b4ec"/>
<circle cx="26.19" cy="189.88" r="0.30" fill="#45b4ec"/>
<circle cx="38.79" cy="194.21" r="0.30" fill="#45b4ec"/>
<circle cx="37.58" cy="198.78" r="0.30" fill="#45b4ec"/>
<circle cx="27.97" cy="187.64" r="0.30" fill="#45b4ec"/>
<path d="M15.1,196.0 L15.1,215.4 L35.6,215.4" fill="none" stroke="#1a1a1a" stroke-width="0.85"/>
<path d="M13.2,198.29999999999998 L15.1,195.7 L17.0,198.29999999999998" fill="none" stroke="#1a1a1a" stroke-width="0.85"/>
<path d="M33.3,213.5 L35.9,215.4 L33.3,217.3" fill="none" stroke="#1a1a1a" stroke-width="0.85"/>
<text x="22.10" y="222.40" font-size="5.1" text-anchor="middle" stroke="#111">UMAP</text>
<text x="12.10" y="206.90" font-size="5.1" text-anchor="middle" stroke="#111" transform="rotate(-90 12.1 206.9)">UMAP</text>
<circle cx="126.70" cy="139.40" r="2.00" fill="#e65050"/>
<text x="133.80" y="141.67" font-size="6.3" stroke="#111">T/NK</text>
<circle cx="126.70" cy="147.39" r="2.00" fill="#f4c3c8"/>
<text x="133.80" y="149.66" font-size="6.3" stroke="#111">MAC</text>
<circle cx="126.70" cy="155.38" r="2.00" fill="#3a9a48"/>
<text x="133.80" y="157.65" font-size="6.3" stroke="#111">Endo</text>
<circle cx="126.70" cy="163.37" r="2.00" fill="#b5e08e"/>
<text x="133.80" y="165.64" font-size="6.3" stroke="#111">Fibo</text>
<circle cx="126.70" cy="171.36" r="2.00" fill="#f37a2a"/>
<text x="133.80" y="173.63" font-size="6.3" stroke="#111">B cells</text>
<circle cx="126.70" cy="179.35" r="2.00" fill="#f0aa5c"/>
<text x="133.80" y="181.62" font-size="6.3" stroke="#111">Alveolus</text>
<circle cx="126.70" cy="187.34" r="2.00" fill="#45b4ec"/>
<text x="133.80" y="189.61" font-size="6.3" stroke="#111">DC</text>
<circle cx="126.70" cy="195.33" r="2.00" fill="#bfe3f3"/>
<text x="133.80" y="197.60" font-size="6.3" stroke="#111">Ciliated</text>
<circle cx="126.70" cy="203.32" r="2.00" fill="#6a6cf0"/>
<text x="133.80" y="205.59" font-size="6.3" stroke="#111">Proliferative</text>
<circle cx="126.70" cy="211.31" r="2.00" fill="#a9a9f2"/>
<text x="133.80" y="213.58" font-size="6.3" stroke="#111">Club</text>
<circle cx="126.70" cy="219.30" r="2.00" fill="#2d3f8f"/>
<text x="133.80" y="221.57" font-size="6.3" stroke="#111">Mast</text>
<text x="204.20" y="9.20" font-size="13" font-weight="bold" fill="#000" stroke="#000">b</text>
<text x="240.80" y="10.80" font-size="6.2" text-anchor="middle" stroke="#111">MAC</text>
<rect x="216.70" y="13.40" width="15.50" height="4.10" fill="#2f8ae0"/>
<rect x="232.20" y="13.40" width="16.50" height="4.10" fill="#46aa4c"/>
<rect x="248.70" y="13.40" width="16.30" height="4.10" fill="#f0626a"/>
<rect x="216.70" y="17.90" width="15.50" height="12.63" fill="#fbf8fc"/>
<rect x="232.20" y="17.90" width="16.50" height="12.63" fill="#a98ad0"/>
<rect x="248.70" y="17.90" width="16.30" height="12.63" fill="#f5eff7"/>
<rect x="216.70" y="30.53" width="15.50" height="12.63" fill="#f8f2f8"/>
<rect x="232.20" y="30.53" width="16.50" height="12.63" fill="#a98ad0"/>
<rect x="248.70" y="30.53" width="16.30" height="12.63" fill="#f9f4f9"/>
<rect x="216.70" y="43.16" width="15.50" height="12.63" fill="#f8f2f8"/>
<rect x="232.20" y="43.16" width="16.50" height="12.63" fill="#a98ad0"/>
<rect x="248.70" y="43.16" width="16.30" height="12.63" fill="#f9f4f9"/>
<rect x="216.70" y="55.79" width="15.50" height="12.63" fill="#f8f2f8"/>
<rect x="232.20" y="55.79" width="16.50" height="12.63" fill="#a98ad0"/>
<rect x="248.70" y="55.79" width="16.30" height="12.63" fill="#f9f4f9"/>
<rect x="216.70" y="68.42" width="15.50" height="12.63" fill="#f9f5fa"/>
<rect x="232.20" y="68.42" width="16.50" height="12.63" fill="#f8f3f9"/>
<rect x="248.70" y="68.42" width="16.30" height="12.63" fill="#a98ad0"/>
<rect x="216.70" y="81.05" width="15.50" height="12.63" fill="#fbf9fc"/>
<rect x="232.20" y="81.05" width="16.50" height="12.63" fill="#f6f0f7"/>
<rect x="248.70" y="81.05" width="16.30" height="12.63" fill="#a98ad0"/>
<rect x="216.70" y="93.68" width="15.50" height="12.63" fill="#ebe5f4"/>
<rect x="232.20" y="93.68" width="16.50" height="12.63" fill="#f8ecf3"/>
<rect x="248.70" y="93.68" width="16.30" height="12.63" fill="#bca2d8"/>
<line x1="216.70" y1="30.53" x2="265.00" y2="30.53" stroke="#ffffff" stroke-width="0.4" opacity="0.5"/>
<line x1="216.70" y1="43.16" x2="265.00" y2="43.16" stroke="#ffffff" stroke-width="0.4" opacity="0.5"/>
<line x1="216.70" y1="55.79" x2="265.00" y2="55.79" stroke="#ffffff" stroke-width="0.4" opacity="0.5"/>
<line x1="216.70" y1="68.42" x2="265.00" y2="68.42" stroke="#ffffff" stroke-width="0.4" opacity="0.5"/>
<line x1="216.70" y1="81.05" x2="265.00" y2="81.05" stroke="#ffffff" stroke-width="0.4" opacity="0.5"/>
<line x1="216.70" y1="93.68" x2="265.00" y2="93.68" stroke="#ffffff" stroke-width="0.4" opacity="0.5"/>
<line x1="232.20" y1="17.90" x2="232.20" y2="106.31" stroke="#ffffff" stroke-width="0.4" opacity="0.5"/>
<line x1="248.70" y1="17.90" x2="248.70" y2="106.31" stroke="#ffffff" stroke-width="0.4" opacity="0.5"/>
<text x="267.80" y="26.87" font-size="6.3" stroke="#111">CXCL3</text>
<text x="267.80" y="39.77" font-size="6.3" stroke="#111">IL6</text>
<text x="267.80" y="51.67" font-size="6.3" stroke="#111">CXCL8</text>
<text x="267.80" y="64.77" font-size="6.3" stroke="#111">IL1B</text>
<text x="267.80" y="77.97" font-size="6.3" stroke="#111">ZFP36L2</text>
<text x="267.80" y="90.07" font-size="6.3" stroke="#111">TSC22D3</text>
<text x="267.80" y="102.77" font-size="6.3" stroke="#111">DUSP1</text>
<text x="305.80" y="25.60" font-size="6.0" stroke="#111">group</text>
<rect x="306.20" y="28.40" width="6.70" height="7.00" fill="#2f8ae0"/>
<rect x="306.20" y="36.00" width="6.70" height="7.00" fill="#46aa4c"/>
<rect x="306.20" y="43.70" width="6.70" height="7.00" fill="#f0626a"/>
<text x="315.00" y="33.90" font-size="5.0" stroke="#111">Normal</text>
<text x="315.00" y="41.40" font-size="5.0" stroke="#111">NTBG</text>
<text x="315.00" y="49.10" font-size="5.0" stroke="#111">TBG</text>
<text x="305.80" y="59.60" font-size="6.0" stroke="#111">z-score</text>
<defs><linearGradient id="gz" x1="0" y1="0" x2="0" y2="1"><stop offset="0" stop-color="#a98ad0"/><stop offset="0.2" stop-color="#b9a0da"/><stop offset="0.5" stop-color="#fbf9fc"/><stop offset="1" stop-color="#efe3f1"/></linearGradient></defs>
<rect x="306.50" y="62.80" width="6.30" height="36.50" fill="url(#gz)"/>
<text x="315.00" y="66.23" font-size="4.8" stroke="#111">1.5</text>
<text x="315.00" y="70.53" font-size="4.8" stroke="#111">1</text>
<text x="315.00" y="76.93" font-size="4.8" stroke="#111">0.5</text>
<text x="315.00" y="82.53" font-size="4.8" stroke="#111">0</text>
<text x="315.00" y="88.73" font-size="4.8" stroke="#111">-0.5</text>
<text x="315.00" y="93.73" font-size="4.8" stroke="#111">-1</text>
<text x="315.00" y="100.33" font-size="4.8" stroke="#111">-1.5</text>
<text x="204.20" y="135.80" font-size="13" font-weight="bold" fill="#000" stroke="#000">c</text>
<text x="241.20" y="136.70" font-size="6.2" text-anchor="middle" stroke="#111">pDC</text>
<rect x="217.00" y="140.40" width="16.40" height="3.40" fill="#2f8ae0"/>
<rect x="233.40" y="140.40" width="16.50" height="3.40" fill="#46aa4c"/>
<rect x="249.90" y="140.40" width="16.70" height="3.40" fill="#f0626a"/>
<rect x="217.00" y="143.80" width="16.40" height="9.99" fill="#fbf9fc"/>
<rect x="233.40" y="143.80" width="16.50" height="9.99" fill="#f6f0f7"/>
<rect x="249.90" y="143.80" width="16.70" height="9.99" fill="#ae91d2"/>
<rect x="217.00" y="153.79" width="16.40" height="9.99" fill="#e4d9ee"/>
<rect x="233.40" y="153.79" width="16.50" height="9.99" fill="#f6edf5"/>
<rect x="249.90" y="153.79" width="16.70" height="9.99" fill="#c5b0de"/>
<rect x="217.00" y="163.78" width="16.40" height="9.99" fill="#ece7f5"/>
<rect x="233.40" y="163.78" width="16.50" height="9.99" fill="#f7eef6"/>
<rect x="249.90" y="163.78" width="16.70" height="9.99" fill="#c4addd"/>
<rect x="217.00" y="173.77" width="16.40" height="9.99" fill="#cbb8e1"/>
<rect x="233.40" y="173.77" width="16.50" height="9.99" fill="#f6edf5"/>
<rect x="249.90" y="173.77" width="16.70" height="9.99" fill="#dcd0ea"/>
<rect x="217.00" y="183.76" width="16.40" height="9.99" fill="#fbf8fc"/>
<rect x="233.40" y="183.76" width="16.50" height="9.99" fill="#a687cf"/>
<rect x="249.90" y="183.76" width="16.70" height="9.99" fill="#f8f3f9"/>
<rect x="217.00" y="193.75" width="16.40" height="9.99" fill="#fbf8fc"/>
<rect x="233.40" y="193.75" width="16.50" height="9.99" fill="#a687cf"/>
<rect x="249.90" y="193.75" width="16.70" height="9.99" fill="#f8f3f9"/>
<rect x="217.00" y="203.74" width="16.40" height="9.99" fill="#fbf8fc"/>
<rect x="233.40" y="203.74" width="16.50" height="9.99" fill="#a889d0"/>
<rect x="249.90" y="203.74" width="16.70" height="9.99" fill="#f8f3f9"/>
<rect x="217.00" y="213.73" width="16.40" height="9.99" fill="#fbf8fc"/>
<rect x="233.40" y="213.73" width="16.50" height="9.99" fill="#a98ad0"/>
<rect x="249.90" y="213.73" width="16.70" height="9.99" fill="#f7f2f8"/>
<rect x="217.00" y="223.72" width="16.40" height="9.99" fill="#f6eef6"/>
<rect x="233.40" y="223.72" width="16.50" height="9.99" fill="#b79ed8"/>
<rect x="249.90" y="223.72" width="16.70" height="9.99" fill="#f5f1f8"/>
<line x1="217.00" y1="153.79" x2="266.60" y2="153.79" stroke="#ffffff" stroke-width="0.4" opacity="0.5"/>
<line x1="217.00" y1="163.78" x2="266.60" y2="163.78" stroke="#ffffff" stroke-width="0.4" opacity="0.5"/>
<line x1="217.00" y1="173.77" x2="266.60" y2="173.77" stroke="#ffffff" stroke-width="0.4" opacity="0.5"/>
<line x1="217.00" y1="183.76" x2="266.60" y2="183.76" stroke="#ffffff" stroke-width="0.4" opacity="0.5"/>
<line x1="217.00" y1="193.75" x2="266.60" y2="193.75" stroke="#ffffff" stroke-width="0.4" opacity="0.5"/>
<line x1="217.00" y1="203.74" x2="266.60" y2="203.74" stroke="#ffffff" stroke-width="0.4" opacity="0.5"/>
<line x1="217.00" y1="213.73" x2="266.60" y2="213.73" stroke="#ffffff" stroke-width="0.4" opacity="0.5"/>
<line x1="217.00" y1="223.72" x2="266.60" y2="223.72" stroke="#ffffff" stroke-width="0.4" opacity="0.5"/>
<line x1="233.40" y1="143.80" x2="233.40" y2="233.71" stroke="#ffffff" stroke-width="0.4" opacity="0.5"/>
<line x1="249.90" y1="143.80" x2="249.90" y2="233.71" stroke="#ffffff" stroke-width="0.4" opacity="0.5"/>
<text x="267.80" y="151.93" font-size="6.2" stroke="#111">CD74</text>
<text x="267.80" y="161.63" font-size="6.2" stroke="#111">DUSP1</text>
<text x="267.80" y="171.83" font-size="6.2" stroke="#111">ZFP36L2</text>
<text x="267.80" y="181.53" font-size="6.2" stroke="#111">TSC22D3</text>
<text x="267.80" y="192.03" font-size="6.2" stroke="#111">NFKB1</text>
<text x="267.80" y="201.73" font-size="6.2" stroke="#111">CXCL8</text>
<text x="267.80" y="211.63" font-size="6.2" stroke="#111">TNFRSF1B</text>
<text x="267.80" y="221.83" font-size="6.2" stroke="#111">IL1B</text>
<text x="267.80" y="231.73" font-size="6.2" stroke="#111">IL6</text>
<text x="304.60" y="150.00" font-size="6.0" stroke="#111">group</text>
<rect x="305.10" y="153.00" width="6.90" height="6.40" fill="#2f8ae0"/>
<rect x="305.10" y="160.90" width="6.90" height="6.40" fill="#46aa4c"/>
<rect x="305.10" y="168.60" width="6.90" height="6.40" fill="#f0626a"/>
<text x="313.80" y="158.10" font-size="5.0" stroke="#111">Normal</text>
<text x="313.80" y="165.80" font-size="5.0" stroke="#111">NTBG</text>
<text x="313.80" y="173.60" font-size="5.0" stroke="#111">TBG</text>
<text x="304.60" y="184.00" font-size="6.0" stroke="#111">z-score</text>
<rect x="305.10" y="186.00" width="6.90" height="36.00" fill="url(#gz)"/>
<text x="314.00" y="188.93" font-size="4.8" stroke="#111">1.5</text>
<text x="314.00" y="193.93" font-size="4.8" stroke="#111">1</text>
<text x="314.00" y="200.23" font-size="4.8" stroke="#111">0.5</text>
<text x="314.00" y="205.93" font-size="4.8" stroke="#111">0</text>
<text x="314.00" y="211.63" font-size="4.8" stroke="#111">-0.5</text>
<text x="314.00" y="216.83" font-size="4.8" stroke="#111">-1</text>
<text x="314.00" y="223.23" font-size="4.8" stroke="#111">-1.5</text>
<text x="344.00" y="9.10" font-size="13" font-weight="bold" fill="#000" stroke="#000">d</text>
<text x="466.00" y="12.50" font-size="6.3" text-anchor="middle" stroke="#111">MAC KEGG DOWN (TBG vs. NTBG)</text>
<rect x="455.50" y="15.20" width="41.10" height="84.10" fill="#ffffff" stroke="#9a9a9a" stroke-width="0.6"/>
<text x="452.30" y="22.36" font-size="6.0" text-anchor="end" stroke="#111">MAPK signaling pathway</text>
<circle cx="488.40" cy="20.20" r="2.10" fill="#e0323a"/>
<text x="452.30" y="30.26" font-size="6.0" text-anchor="end" stroke="#111">TNF signaling pathway</text>
<circle cx="474.90" cy="28.10" r="1.60" fill="#d8343f"/>
<text x="452.30" y="38.46" font-size="6.0" text-anchor="end" fill="#ff1010" stroke="#ff1010">NF-kappa B signaling pathway</text>
<circle cx="472.30" cy="36.30" r="1.50" fill="#b83a55"/>
<text x="452.30" y="46.56" font-size="6.0" text-anchor="end" stroke="#111">C-type lectin receptor signaling pathway</text>
<circle cx="469.20" cy="44.40" r="1.30" fill="#7a3e80"/>
<text x="452.30" y="54.76" font-size="6.0" text-anchor="end" fill="#ff1010" stroke="#ff1010">Toll-like receptor signaling pathway</text>
<circle cx="468.50" cy="52.60" r="1.30" fill="#703f88"/>
<text x="452.30" y="63.16" font-size="6.0" text-anchor="end" stroke="#111">PI3K-Akt signaling pathway</text>
<circle cx="482.60" cy="61.00" r="1.90" fill="#7a3e80"/>
<text x="452.30" y="71.46" font-size="6.0" text-anchor="end" stroke="#111">MTOR signaling pathway</text>
<circle cx="470.50" cy="69.30" r="1.40" fill="#5a4392"/>
<text x="452.30" y="79.66" font-size="6.0" text-anchor="end" stroke="#111">CGMP-PKG signaling pathway</text>
<circle cx="470.50" cy="77.50" r="1.40" fill="#5a4392"/>
<text x="452.30" y="87.96" font-size="6.0" text-anchor="end" stroke="#111">Ferroptosis</text>
<circle cx="461.30" cy="85.80" r="0.60" fill="#3050a8"/>
<text x="452.30" y="96.26" font-size="6.0" text-anchor="end" fill="#ff1010" stroke="#ff1010">NOD-like receptor signaling pathway</text>
<circle cx="469.50" cy="94.10" r="1.40" fill="#224a9c"/>
<line x1="457.50" y1="99.30" x2="457.50" y2="100.70" stroke="#444" stroke-width="0.5"/>
<text x="457.50" y="106.77" font-size="6.3" text-anchor="middle" fill="#333" stroke="#333">0</text>
<line x1="467.90" y1="99.30" x2="467.90" y2="100.70" stroke="#444" stroke-width="0.5"/>
<text x="467.90" y="106.77" font-size="6.3" text-anchor="middle" fill="#333" stroke="#333">3</text>
<line x1="478.20" y1="99.30" x2="478.20" y2="100.70" stroke="#444" stroke-width="0.5"/>
<text x="478.20" y="106.77" font-size="6.3" text-anchor="middle" fill="#333" stroke="#333">6</text>
<line x1="488.40" y1="99.30" x2="488.40" y2="100.70" stroke="#444" stroke-width="0.5"/>
<text x="488.40" y="106.77" font-size="6.3" text-anchor="middle" fill="#333" stroke="#333">9</text>
<text x="477.05" y="112.60" font-size="6.2" text-anchor="middle" fill="#222" stroke="#222">Ratio</text>
<text x="504.20" y="22.20" font-size="5.2" stroke="#111">-log10</text>
<text x="503.00" y="28.40" font-size="5.2" stroke="#111">(P Value)</text>
<defs><linearGradient id="gd" x1="0" y1="0" x2="0" y2="1"><stop offset="0" stop-color="#e8333b"/><stop offset="0.5" stop-color="#8a3d78"/><stop offset="1" stop-color="#1f4fa0"/></linearGradient></defs>
<rect x="503.00" y="30.60" width="6.60" height="26.30" fill="url(#gd)"/>
<text x="510.60" y="35.53" font-size="4.8" stroke="#111">10</text>
<text x="510.60" y="40.53" font-size="4.8" stroke="#111">8</text>
<text x="510.60" y="46.73" font-size="4.8" stroke="#111">6</text>
<text x="510.60" y="52.73" font-size="4.8" stroke="#111">4</text>
<text x="510.60" y="58.63" font-size="4.8" stroke="#111">2</text>
<text x="503.30" y="65.60" font-size="5.2" stroke="#111">Count</text>
<circle cx="504.90" cy="70.60" r="0.50" fill="#111"/>
<text x="509.30" y="72.33" font-size="4.8" stroke="#111">10</text>
<circle cx="504.90" cy="75.60" r="1.00" fill="#111"/>
<text x="509.30" y="77.33" font-size="4.8" stroke="#111">20</text>
<circle cx="504.90" cy="80.60" r="1.30" fill="#111"/>
<text x="509.30" y="82.33" font-size="4.8" stroke="#111">30</text>
<circle cx="504.90" cy="86.00" r="1.60" fill="#111"/>
<text x="509.30" y="87.73" font-size="4.8" stroke="#111">40</text>
<circle cx="504.90" cy="90.60" r="2.00" fill="#111"/>
<text x="509.30" y="92.33" font-size="4.8" stroke="#111">50</text>
<text x="345.60" y="135.20" font-size="13" font-weight="bold" fill="#000" stroke="#000">f</text>
<text x="464.40" y="137.30" font-size="6.3" text-anchor="middle" stroke="#111">pDC KEGG DOWN  (TBG vs. NTBG)</text>
<rect x="455.30" y="140.40" width="40.70" height="85.90" fill="#ffffff" stroke="#9a9a9a" stroke-width="0.6"/>
<text x="452.10" y="146.46" font-size="6.0" text-anchor="end" stroke="#111">ErbB signaling pathway</text>
<circle cx="470.90" cy="144.30" r="1.20" fill="#d2343f"/>
<text x="452.10" y="153.06" font-size="6.0" text-anchor="end" stroke="#111">MTOR signaling pathway</text>
<circle cx="477.60" cy="150.90" r="1.50" fill="#c8364a"/>
<text x="452.10" y="159.56" font-size="6.0" text-anchor="end" stroke="#111">CGMP-PKG signaling pathway</text>
<circle cx="477.60" cy="157.40" r="1.50" fill="#c0374d"/>
<text x="452.10" y="166.56" font-size="6.0" text-anchor="end" stroke="#111">RIG-I-like receptor signaling pathway</text>
<circle cx="468.40" cy="164.40" r="1.10" fill="#a83a5c"/>
<text x="452.10" y="172.76" font-size="6.0" text-anchor="end" fill="#ff1010" stroke="#ff1010">Toll-like receptor signaling pathway</text>
<circle cx="471.80" cy="170.60" r="1.30" fill="#ac3a5a"/>
<text x="452.10" y="179.06" font-size="6.0" text-anchor="end" stroke="#111">Th17 cell differentiation</text>
<circle cx="471.80" cy="176.90" r="1.30" fill="#ac3a5a"/>
<text x="452.10" y="185.66" font-size="6.0" text-anchor="end" fill="#ff1010" stroke="#ff1010">NOD-like receptor signaling pathway</text>
<circle cx="479.10" cy="183.50" r="1.60" fill="#963c66"/>
<text x="452.10" y="192.16" font-size="6.0" text-anchor="end" stroke="#111">TGF-beta signaling pathway</text>
<circle cx="471.30" cy="190.00" r="1.30" fill="#8c3c6c"/>
<text x="452.10" y="198.46" font-size="6.0" text-anchor="end" stroke="#111">AMPK signaling pathway</text>
<circle cx="471.30" cy="196.30" r="1.30" fill="#663f84"/>
<text x="452.10" y="204.96" font-size="6.0" text-anchor="end" stroke="#111">Ras signaling pathway</text>
<circle cx="480.30" cy="202.80" r="1.80" fill="#663f84"/>
<text x="452.10" y="211.56" font-size="6.0" text-anchor="end" stroke="#111">P53 signaling pathway</text>
<circle cx="467.00" cy="209.40" r="1.00" fill="#5a4390"/>
<text x="452.10" y="218.26" font-size="6.0" text-anchor="end" stroke="#111">Ferroptosis</text>
<circle cx="463.40" cy="216.10" r="0.50" fill="#4a489c"/>
<text x="452.10" y="224.66" font-size="6.0" text-anchor="end" stroke="#111">PI3K-Akt signaling pathway</text>
<circle cx="488.50" cy="222.50" r="2.20" fill="#1f4fa0"/>
<line x1="457.80" y1="226.30" x2="457.80" y2="227.70" stroke="#444" stroke-width="0.5"/>
<text x="457.80" y="234.57" font-size="6.3" text-anchor="middle" fill="#333" stroke="#333">0</text>
<line x1="468.80" y1="226.30" x2="468.80" y2="227.70" stroke="#444" stroke-width="0.5"/>
<text x="468.80" y="234.57" font-size="6.3" text-anchor="middle" fill="#333" stroke="#333">2</text>
<line x1="479.70" y1="226.30" x2="479.70" y2="227.70" stroke="#444" stroke-width="0.5"/>
<text x="479.70" y="234.57" font-size="6.3" text-anchor="middle" fill="#333" stroke="#333">4</text>
<line x1="491.00" y1="226.30" x2="491.00" y2="227.70" stroke="#444" stroke-width="0.5"/>
<text x="491.00" y="234.57" font-size="6.3" text-anchor="middle" fill="#333" stroke="#333">6</text>
<text x="476.65" y="240.60" font-size="6.2" text-anchor="middle" fill="#222" stroke="#222">Ratio</text>
<text x="501.30" y="150.40" font-size="5.2" stroke="#111">-log10</text>
<text x="501.00" y="155.20" font-size="5.2" stroke="#111">(P Value)</text>
<rect x="501.30" y="159.70" width="5.70" height="24.10" fill="url(#gd)"/>
<text x="508.40" y="162.93" font-size="4.8" stroke="#111">3.5</text>
<text x="508.40" y="168.53" font-size="4.8" stroke="#111">3.0</text>
<text x="508.40" y="174.03" font-size="4.8" stroke="#111">2.5</text>
<text x="508.40" y="179.33" font-size="4.8" stroke="#111">2.0</text>
<text x="508.40" y="184.93" font-size="4.8" stroke="#111">1.5</text>
<text x="500.40" y="198.30" font-size="5.2" stroke="#111">Count</text>
<circle cx="503.60" cy="203.50" r="0.50" fill="#111"/>
<text x="506.80" y="205.23" font-size="4.8" stroke="#111">10</text>
<circle cx="503.60" cy="208.40" r="1.00" fill="#111"/>
<text x="506.80" y="210.13" font-size="4.8" stroke="#111">20</text>
<circle cx="503.60" cy="213.40" r="1.40" fill="#111"/>
<text x="506.80" y="215.13" font-size="4.8" stroke="#111">30</text>
<circle cx="503.60" cy="218.40" r="1.80" fill="#111"/>
<text x="506.80" y="220.13" font-size="4.8" stroke="#111">40</text>
<text x="531.00" y="9.40" font-size="13" font-weight="bold" fill="#000" stroke="#000">e</text>
<text x="618.70" y="14.30" font-size="6.3" text-anchor="middle" stroke="#111">Toll-like receptor signaling pathway</text>
<line x1="576.40" y1="18.00" x2="576.40" y2="53.00" stroke="#efefef" stroke-width="0.4"/>
<line x1="576.40" y1="66.30" x2="576.40" y2="89.60" stroke="#efefef" stroke-width="0.4"/>
<line x1="592.80" y1="18.00" x2="592.80" y2="53.00" stroke="#e2e2e2" stroke-width="0.4"/>
<line x1="592.80" y1="66.30" x2="592.80" y2="89.60" stroke="#e2e2e2" stroke-width="0.4"/>
<line x1="609.20" y1="18.00" x2="609.20" y2="53.00" stroke="#efefef" stroke-width="0.4"/>
<line x1="609.20" y1="66.30" x2="609.20" y2="89.60" stroke="#efefef" stroke-width="0.4"/>
<line x1="625.60" y1="18.00" x2="625.60" y2="53.00" stroke="#e2e2e2" stroke-width="0.4"/>
<line x1="625.60" y1="66.30" x2="625.60" y2="89.60" stroke="#e2e2e2" stroke-width="0.4"/>
<line x1="642.00" y1="18.00" x2="642.00" y2="53.00" stroke="#efefef" stroke-width="0.4"/>
<line x1="642.00" y1="66.30" x2="642.00" y2="89.60" stroke="#efefef" stroke-width="0.4"/>
<line x1="658.40" y1="18.00" x2="658.40" y2="53.00" stroke="#e2e2e2" stroke-width="0.4"/>
<line x1="658.40" y1="66.30" x2="658.40" y2="89.60" stroke="#e2e2e2" stroke-width="0.4"/>
<line x1="674.80" y1="18.00" x2="674.80" y2="53.00" stroke="#efefef" stroke-width="0.4"/>
<line x1="674.80" y1="66.30" x2="674.80" y2="89.60" stroke="#efefef" stroke-width="0.4"/>
<line x1="559.60" y1="18.00" x2="559.60" y2="53.00" stroke="#333" stroke-width="0.6"/>
<text x="558.40" y="27.87" font-size="6.3" text-anchor="end" fill="#333" stroke="#333">0.0</text>
<line x1="558.60" y1="25.60" x2="559.60" y2="25.60" stroke="#333" stroke-width="0.4"/>
<text x="558.40" y="33.77" font-size="6.3" text-anchor="end" fill="#333" stroke="#333">-0.1</text>
<line x1="558.60" y1="31.50" x2="559.60" y2="31.50" stroke="#333" stroke-width="0.4"/>
<text x="558.40" y="40.27" font-size="6.3" text-anchor="end" fill="#333" stroke="#333">-0.2</text>
<line x1="558.60" y1="38.00" x2="559.60" y2="38.00" stroke="#333" stroke-width="0.4"/>
<text x="558.40" y="46.87" font-size="6.3" text-anchor="end" fill="#333" stroke="#333">-0.3</text>
<line x1="558.60" y1="44.60" x2="559.60" y2="44.60" stroke="#333" stroke-width="0.4"/>
<text x="558.40" y="53.47" font-size="6.3" text-anchor="end" fill="#333" stroke="#333">-0.4</text>
<line x1="558.60" y1="51.20" x2="559.60" y2="51.20" stroke="#333" stroke-width="0.4"/>
<polyline points="559.70,23.50 562.60,24.90 564.10,25.40 564.90,21.60 566.40,21.30 570.20,21.30 573.00,20.30 574.90,19.60 576.80,20.30 579.70,21.80 583.50,23.70 587.30,25.80 589.20,26.00 593.00,27.30 598.60,28.70 604.30,30.60 608.10,32.10 613.80,34.00 621.40,36.80 630.90,40.60 638.50,44.40 644.20,47.60 648.00,49.20 651.80,49.70 655.60,49.70 658.40,48.40 661.30,50.10 664.10,50.30 667.00,49.20 668.90,47.60 671.70,46.30 674.60,39.30 676.80,38.20 678.00,33.00 678.70,29.20" fill="none" stroke="#ff2626" stroke-width="0.75"/>
<line x1="559.60" y1="53.80" x2="559.60" y2="61.60" stroke="#333" stroke-width="0.6"/>
<line x1="564.00" y1="53.80" x2="564.00" y2="61.60" stroke="#3a3a3a" stroke-width="0.5"/>
<line x1="565.00" y1="53.80" x2="565.00" y2="61.60" stroke="#3a3a3a" stroke-width="0.5"/>
<line x1="567.30" y1="53.80" x2="567.30" y2="61.60" stroke="#b8b8b8" stroke-width="0.5"/>
<line x1="568.30" y1="53.80" x2="568.30" y2="61.60" stroke="#7a7a7a" stroke-width="0.5"/>
<line x1="569.20" y1="53.80" x2="569.20" y2="61.60" stroke="#b8b8b8" stroke-width="0.5"/>
<line x1="570.20" y1="53.80" x2="570.20" y2="61.60" stroke="#7a7a7a" stroke-width="0.5"/>
<line x1="571.10" y1="53.80" x2="571.10" y2="61.60" stroke="#3a3a3a" stroke-width="0.5"/>
<line x1="572.10" y1="53.80" x2="572.10" y2="61.60" stroke="#3a3a3a" stroke-width="0.5"/>
<line x1="573.00" y1="53.80" x2="573.00" y2="61.60" stroke="#7a7a7a" stroke-width="0.5"/>
<line x1="574.90" y1="53.80" x2="574.90" y2="61.60" stroke="#7a7a7a" stroke-width="0.5"/>
<line x1="575.70" y1="53.80" x2="575.70" y2="61.60" stroke="#3a3a3a" stroke-width="0.5"/>
<line x1="588.40" y1="53.80" x2="588.40" y2="61.60" stroke="#3a3a3a" stroke-width="0.5"/>
<line x1="592.30" y1="53.80" x2="592.30" y2="61.60" stroke="#3a3a3a" stroke-width="0.5"/>
<line x1="593.90" y1="53.80" x2="593.90" y2="61.60" stroke="#b8b8b8" stroke-width="0.5"/>
<line x1="594.80" y1="53.80" x2="594.80" y2="61.60" stroke="#7a7a7a" stroke-width="0.5"/>
<line x1="595.80" y1="53.80" x2="595.80" y2="61.60" stroke="#7a7a7a" stroke-width="0.5"/>
<line x1="596.70" y1="53.80" x2="596.70" y2="61.60" stroke="#b8b8b8" stroke-width="0.5"/>
<line x1="597.70" y1="53.80" x2="597.70" y2="61.60" stroke="#7a7a7a" stroke-width="0.5"/>
<line x1="598.60" y1="53.80" x2="598.60" y2="61.60" stroke="#b8b8b8" stroke-width="0.5"/>
<line x1="605.30" y1="53.80" x2="605.30" y2="61.60" stroke="#3a3a3a" stroke-width="0.5"/>
<line x1="606.70" y1="53.80" x2="606.70" y2="61.60" stroke="#7a7a7a" stroke-width="0.5"/>
<line x1="610.00" y1="53.80" x2="610.00" y2="61.60" stroke="#b8b8b8" stroke-width="0.5"/>
<line x1="614.30" y1="53.80" x2="614.30" y2="61.60" stroke="#7a7a7a" stroke-width="0.5"/>
<line x1="616.40" y1="53.80" x2="616.40" y2="61.60" stroke="#3a3a3a" stroke-width="0.5"/>
<line x1="624.70" y1="53.80" x2="624.70" y2="61.60" stroke="#7a7a7a" stroke-width="0.5"/>
<line x1="625.70" y1="53.80" x2="625.70" y2="61.60" stroke="#b8b8b8" stroke-width="0.5"/>
<line x1="627.30" y1="53.80" x2="627.30" y2="61.60" stroke="#7a7a7a" stroke-width="0.5"/>
<line x1="628.80" y1="53.80" x2="628.80" y2="61.60" stroke="#7a7a7a" stroke-width="0.5"/>
<line x1="630.30" y1="53.80" x2="630.30" y2="61.60" stroke="#b8b8b8" stroke-width="0.5"/>
<line x1="631.30" y1="53.80" x2="631.30" y2="61.60" stroke="#7a7a7a" stroke-width="0.5"/>
<line x1="632.90" y1="53.80" x2="632.90" y2="61.60" stroke="#3a3a3a" stroke-width="0.5"/>
<line x1="633.90" y1="53.80" x2="633.90" y2="61.60" stroke="#3a3a3a" stroke-width="0.5"/>
<line x1="639.50" y1="53.80" x2="639.50" y2="61.60" stroke="#7a7a7a" stroke-width="0.5"/>
<line x1="641.00" y1="53.80" x2="641.00" y2="61.60" stroke="#3a3a3a" stroke-width="0.5"/>
<line x1="642.60" y1="53.80" x2="642.60" y2="61.60" stroke="#7a7a7a" stroke-width="0.5"/>
<line x1="644.60" y1="53.80" x2="644.60" y2="61.60" stroke="#3a3a3a" stroke-width="0.5"/>
<line x1="646.70" y1="53.80" x2="646.70" y2="61.60" stroke="#7a7a7a" stroke-width="0.5"/>
<line x1="647.70" y1="53.80" x2="647.70" y2="61.60" stroke="#b8b8b8" stroke-width="0.5"/>
<line x1="649.20" y1="53.80" x2="649.20" y2="61.60" stroke="#3a3a3a" stroke-width="0.5"/>
<line x1="650.80" y1="53.80" x2="650.80" y2="61.60" stroke="#7a7a7a" stroke-width="0.5"/>
<line x1="652.80" y1="53.80" x2="652.80" y2="61.60" stroke="#b8b8b8" stroke-width="0.5"/>
<line x1="653.80" y1="53.80" x2="653.80" y2="61.60" stroke="#7a7a7a" stroke-width="0.5"/>
<line x1="654.90" y1="53.80" x2="654.90" y2="61.60" stroke="#7a7a7a" stroke-width="0.5"/>
<line x1="657.40" y1="53.80" x2="657.40" y2="61.60" stroke="#b8b8b8" stroke-width="0.5"/>
<line x1="658.40" y1="53.80" x2="658.40" y2="61.60" stroke="#7a7a7a" stroke-width="0.5"/>
<line x1="662.50" y1="53.80" x2="662.50" y2="61.60" stroke="#b8b8b8" stroke-width="0.5"/>
<line x1="663.50" y1="53.80" x2="663.50" y2="61.60" stroke="#7a7a7a" stroke-width="0.5"/>
<line x1="665.10" y1="53.80" x2="665.10" y2="61.60" stroke="#3a3a3a" stroke-width="0.5"/>
<line x1="667.10" y1="53.80" x2="667.10" y2="61.60" stroke="#7a7a7a" stroke-width="0.5"/>
<line x1="668.60" y1="53.80" x2="668.60" y2="61.60" stroke="#7a7a7a" stroke-width="0.5"/>
<line x1="670.20" y1="53.80" x2="670.20" y2="61.60" stroke="#b8b8b8" stroke-width="0.5"/>
<line x1="671.70" y1="53.80" x2="671.70" y2="61.60" stroke="#3a3a3a" stroke-width="0.5"/>
<line x1="673.20" y1="53.80" x2="673.20" y2="61.60" stroke="#7a7a7a" stroke-width="0.5"/>
<line x1="675.30" y1="53.80" x2="675.30" y2="61.60" stroke="#7a7a7a" stroke-width="0.5"/>
<line x1="676.80" y1="53.80" x2="676.80" y2="61.60" stroke="#b8b8b8" stroke-width="0.5"/>
<line x1="677.80" y1="53.80" x2="677.80" y2="61.60" stroke="#3a3a3a" stroke-width="0.5"/>
<line x1="678.70" y1="53.80" x2="678.70" y2="61.60" stroke="#3a3a3a" stroke-width="0.5"/>
<rect x="559.70" y="61.90" width="6.20" height="3.30" fill="#d42a2d"/>
<rect x="565.90" y="61.90" width="10.00" height="3.30" fill="#f05a3f"/>
<rect x="575.90" y="61.90" width="12.80" height="3.30" fill="#fba486"/>
<rect x="588.70" y="61.90" width="16.10" height="3.30" fill="#fddccd"/>
<rect x="604.80" y="61.90" width="16.80" height="3.30" fill="#e8eef9"/>
<rect x="621.60" y="61.90" width="20.50" height="3.30" fill="#aecbe5"/>
<rect x="642.10" y="61.90" width="23.00" height="3.30" fill="#5d9ed2"/>
<rect x="665.10" y="61.90" width="9.20" height="3.30" fill="#3474b8"/>
<rect x="674.30" y="61.90" width="4.60" height="3.30" fill="#124f98"/>
<line x1="559.60" y1="66.30" x2="559.60" y2="89.60" stroke="#333" stroke-width="0.6"/>
<line x1="559.60" y1="89.60" x2="678.90" y2="89.60" stroke="#333" stroke-width="0.6"/>
<text x="558.40" y="70.87" font-size="6.3" text-anchor="end" fill="#333" stroke="#333">20</text>
<line x1="558.60" y1="68.60" x2="559.60" y2="68.60" stroke="#333" stroke-width="0.4"/>
<text x="558.40" y="77.27" font-size="6.3" text-anchor="end" fill="#333" stroke="#333">10</text>
<line x1="558.60" y1="75.00" x2="559.60" y2="75.00" stroke="#333" stroke-width="0.4"/>
<text x="558.40" y="83.77" font-size="6.3" text-anchor="end" fill="#333" stroke="#333">0</text>
<line x1="558.60" y1="81.50" x2="559.60" y2="81.50" stroke="#333" stroke-width="0.4"/>
<text x="558.40" y="91.87" font-size="6.3" text-anchor="end" fill="#333" stroke="#333">-10</text>
<line x1="558.60" y1="89.60" x2="559.60" y2="89.60" stroke="#333" stroke-width="0.4"/>
<polygon points="560.00,81.50 560.00,68.00 560.50,70.03 561.10,75.42 561.80,78.12 562.80,79.61 564.50,80.42 568.00,80.96 590.00,81.30 640.00,81.50 655.00,81.90 665.00,82.50 672.00,83.30 676.00,84.10 678.90,85.50 678.90,81.50" fill="#cfcfcf" stroke="#bdbdbd" stroke-width="0.3"/>
<line x1="560.00" y1="81.50" x2="678.90" y2="81.50" stroke="#b5b5b5" stroke-width="0.5"/>
<line x1="592.80" y1="89.60" x2="592.80" y2="90.80" stroke="#333" stroke-width="0.5"/>
<text x="592.80" y="98.87" font-size="6.3" text-anchor="middle" fill="#333" stroke="#333">2000</text>
<line x1="625.60" y1="89.60" x2="625.60" y2="90.80" stroke="#333" stroke-width="0.5"/>
<text x="625.60" y="98.87" font-size="6.3" text-anchor="middle" fill="#333" stroke="#333">4000</text>
<line x1="658.40" y1="89.60" x2="658.40" y2="90.80" stroke="#333" stroke-width="0.5"/>
<text x="658.40" y="98.87" font-size="6.3" text-anchor="middle" fill="#333" stroke="#333">6000</text>
<text x="619.60" y="107.17" font-size="6.3" text-anchor="middle" fill="#222" stroke="#222">Rank in Ordered Dataset</text>
<rect x="656.00" y="19.00" width="14.60" height="4.30" fill="#d4d4d4"/>
<rect x="670.90" y="19.00" width="11.00" height="4.30" fill="#d4d4d4"/>
<rect x="656.00" y="24.20" width="14.60" height="3.60" fill="#ededed"/>
<rect x="670.90" y="24.20" width="11.00" height="3.60" fill="#ededed"/>
<text x="663.30" y="22.14" font-size="2.6" text-anchor="middle" font-weight="bold" stroke="#111">pvalue</text>
<text x="676.40" y="22.14" font-size="2.6" text-anchor="middle" font-weight="bold" stroke="#111">p.adjust</text>
<text x="608.4" y="27.3" font-size="2.85" fill="#ff3030" stroke="none">Toll-like receptor signaling pathway</text>
<text x="663.3" y="26.9" font-size="2.6" fill="#555" stroke="none" text-anchor="middle">0.00000</text>
<text x="676.4" y="26.9" font-size="2.6" fill="#555" stroke="none" text-anchor="middle">0.0228</text>
<text x="545.40" y="37.80" font-size="6.3" text-anchor="middle" fill="#222" stroke="#222" transform="rotate(-90 545.4 37.8)">Enrichment</text>
<text x="545.40" y="75.60" font-size="6.3" text-anchor="middle" fill="#222" stroke="#222" transform="rotate(-90 545.4 75.6)">Ranked list</text>
<text x="531.60" y="134.80" font-size="13" font-weight="bold" fill="#000" stroke="#000">g</text>
<text x="618.70" y="141.50" font-size="6.3" text-anchor="middle" stroke="#111">Toll-like receptor signaling pathway</text>
<line x1="576.40" y1="146.20" x2="576.40" y2="180.80" stroke="#efefef" stroke-width="0.4"/>
<line x1="576.40" y1="194.00" x2="576.40" y2="217.60" stroke="#efefef" stroke-width="0.4"/>
<line x1="592.80" y1="146.20" x2="592.80" y2="180.80" stroke="#e2e2e2" stroke-width="0.4"/>
<line x1="592.80" y1="194.00" x2="592.80" y2="217.60" stroke="#e2e2e2" stroke-width="0.4"/>
<line x1="609.20" y1="146.20" x2="609.20" y2="180.80" stroke="#efefef" stroke-width="0.4"/>
<line x1="609.20" y1="194.00" x2="609.20" y2="217.60" stroke="#efefef" stroke-width="0.4"/>
<line x1="625.60" y1="146.20" x2="625.60" y2="180.80" stroke="#e2e2e2" stroke-width="0.4"/>
<line x1="625.60" y1="194.00" x2="625.60" y2="217.60" stroke="#e2e2e2" stroke-width="0.4"/>
<line x1="642.00" y1="146.20" x2="642.00" y2="180.80" stroke="#efefef" stroke-width="0.4"/>
<line x1="642.00" y1="194.00" x2="642.00" y2="217.60" stroke="#efefef" stroke-width="0.4"/>
<line x1="658.40" y1="146.20" x2="658.40" y2="180.80" stroke="#e2e2e2" stroke-width="0.4"/>
<line x1="658.40" y1="194.00" x2="658.40" y2="217.60" stroke="#e2e2e2" stroke-width="0.4"/>
<line x1="674.80" y1="146.20" x2="674.80" y2="180.80" stroke="#efefef" stroke-width="0.4"/>
<line x1="674.80" y1="194.00" x2="674.80" y2="217.60" stroke="#efefef" stroke-width="0.4"/>
<line x1="559.60" y1="146.20" x2="559.60" y2="180.80" stroke="#333" stroke-width="0.6"/>
<text x="558.40" y="152.27" font-size="6.3" text-anchor="end" fill="#333" stroke="#333">0.0</text>
<line x1="558.60" y1="150.00" x2="559.60" y2="150.00" stroke="#333" stroke-width="0.4"/>
<text x="558.40" y="159.77" font-size="6.3" text-anchor="end" fill="#333" stroke="#333">-0.1</text>
<line x1="558.60" y1="157.50" x2="559.60" y2="157.50" stroke="#333" stroke-width="0.4"/>
<text x="558.40" y="167.27" font-size="6.3" text-anchor="end" fill="#333" stroke="#333">-0.2</text>
<line x1="558.60" y1="165.00" x2="559.60" y2="165.00" stroke="#333" stroke-width="0.4"/>
<text x="558.40" y="175.07" font-size="6.3" text-anchor="end" fill="#333" stroke="#333">-0.3</text>
<line x1="558.60" y1="172.80" x2="559.60" y2="172.80" stroke="#333" stroke-width="0.4"/>
<text x="558.40" y="182.57" font-size="6.3" text-anchor="end" fill="#333" stroke="#333">-0.4</text>
<line x1="558.60" y1="180.30" x2="559.60" y2="180.30" stroke="#333" stroke-width="0.4"/>
<polyline points="559.70,149.10 561.50,150.00 563.50,150.40 565.00,149.60 566.40,149.50 567.80,150.60 569.20,150.40 570.60,149.60 572.10,149.10 574.00,149.80 575.90,149.90 577.30,150.60 578.70,151.00 580.20,151.80 581.00,150.00 581.60,149.10 583.50,148.60 585.40,148.00 586.50,147.60 587.60,147.20 588.80,147.90 590.10,148.50 593.00,149.90 596.70,151.80 602.00,154.80 608.10,158.00 614.00,161.20 619.50,164.30 625.00,166.90 630.90,169.40 636.00,172.00 640.40,174.20 643.00,175.00 645.10,175.70 646.50,174.80 648.00,174.50 650.00,175.30 651.50,174.60 653.70,175.10 656.00,174.70 658.40,175.10 660.30,176.20 662.20,177.00 664.10,178.00 665.00,176.50 666.00,175.10 667.00,176.00 667.90,174.20 668.80,173.50 669.80,172.30 670.80,173.60 671.70,173.20 672.60,171.20 673.60,170.40 674.30,168.00 674.90,166.60 675.60,167.50 676.40,165.60 677.00,162.50 677.40,160.90 678.00,158.00 678.30,156.10 679.00,154.20" fill="none" stroke="#ff2626" stroke-width="0.75"/>
<line x1="559.60" y1="181.80" x2="559.60" y2="189.60" stroke="#333" stroke-width="0.6"/>
<line x1="563.50" y1="181.80" x2="563.50" y2="189.60" stroke="#7a7a7a" stroke-width="0.5"/>
<line x1="567.30" y1="181.80" x2="567.30" y2="189.60" stroke="#7a7a7a" stroke-width="0.5"/>
<line x1="569.20" y1="181.80" x2="569.20" y2="189.60" stroke="#3a3a3a" stroke-width="0.5"/>
<line x1="572.40" y1="181.80" x2="572.40" y2="189.60" stroke="#7a7a7a" stroke-width="0.5"/>
<line x1="575.40" y1="181.80" x2="575.40" y2="189.60" stroke="#7a7a7a" stroke-width="0.5"/>
<line x1="576.80" y1="181.80" x2="576.80" y2="189.60" stroke="#3a3a3a" stroke-width="0.5"/>
<line x1="580.10" y1="181.80" x2="580.10" y2="189.60" stroke="#3a3a3a" stroke-width="0.5"/>
<line x1="581.10" y1="181.80" x2="581.10" y2="189.60" stroke="#7a7a7a" stroke-width="0.5"/>
<line x1="582.00" y1="181.80" x2="582.00" y2="189.60" stroke="#3a3a3a" stroke-width="0.5"/>
<line x1="583.00" y1="181.80" x2="583.00" y2="189.60" stroke="#7a7a7a" stroke-width="0.5"/>
<line x1="584.40" y1="181.80" x2="584.40" y2="189.60" stroke="#3a3a3a" stroke-width="0.5"/>
<line x1="586.30" y1="181.80" x2="586.30" y2="189.60" stroke="#3a3a3a" stroke-width="0.5"/>
<line x1="588.70" y1="181.80" x2="588.70" y2="189.60" stroke="#b8b8b8" stroke-width="0.5"/>
<line x1="592.50" y1="181.80" x2="592.50" y2="189.60" stroke="#b8b8b8" stroke-width="0.5"/>
<line x1="594.40" y1="181.80" x2="594.40" y2="189.60" stroke="#7a7a7a" stroke-width="0.5"/>
<line x1="596.50" y1="181.80" x2="596.50" y2="189.60" stroke="#3a3a3a" stroke-width="0.5"/>
<line x1="601.50" y1="181.80" x2="601.50" y2="189.60" stroke="#3a3a3a" stroke-width="0.5"/>
<line x1="603.40" y1="181.80" x2="603.40" y2="189.60" stroke="#b8b8b8" stroke-width="0.5"/>
<line x1="606.70" y1="181.80" x2="606.70" y2="189.60" stroke="#3a3a3a" stroke-width="0.5"/>
<line x1="613.80" y1="181.80" x2="613.80" y2="189.60" stroke="#3a3a3a" stroke-width="0.5"/>
<line x1="617.10" y1="181.80" x2="617.10" y2="189.60" stroke="#7a7a7a" stroke-width="0.5"/>
<line x1="622.20" y1="181.80" x2="622.20" y2="189.60" stroke="#b8b8b8" stroke-width="0.5"/>
<line x1="623.70" y1="181.80" x2="623.70" y2="189.60" stroke="#7a7a7a" stroke-width="0.5"/>
<line x1="624.70" y1="181.80" x2="624.70" y2="189.60" stroke="#b8b8b8" stroke-width="0.5"/>
<line x1="626.40" y1="181.80" x2="626.40" y2="189.60" stroke="#b8b8b8" stroke-width="0.5"/>
<line x1="631.40" y1="181.80" x2="631.40" y2="189.60" stroke="#7a7a7a" stroke-width="0.5"/>
<line x1="632.90" y1="181.80" x2="632.90" y2="189.60" stroke="#3a3a3a" stroke-width="0.5"/>
<line x1="636.50" y1="181.80" x2="636.50" y2="189.60" stroke="#7a7a7a" stroke-width="0.5"/>
<line x1="638.50" y1="181.80" x2="638.50" y2="189.60" stroke="#b8b8b8" stroke-width="0.5"/>
<line x1="639.50" y1="181.80" x2="639.50" y2="189.60" stroke="#7a7a7a" stroke-width="0.5"/>
<line x1="640.50" y1="181.80" x2="640.50" y2="189.60" stroke="#3a3a3a" stroke-width="0.5"/>
<line x1="644.10" y1="181.80" x2="644.10" y2="189.60" stroke="#b8b8b8" stroke-width="0.5"/>
<line x1="645.70" y1="181.80" x2="645.70" y2="189.60" stroke="#7a7a7a" stroke-width="0.5"/>
<line x1="647.20" y1="181.80" x2="647.20" y2="189.60" stroke="#3a3a3a" stroke-width="0.5"/>
<line x1="648.20" y1="181.80" x2="648.20" y2="189.60" stroke="#3a3a3a" stroke-width="0.5"/>
<line x1="650.30" y1="181.80" x2="650.30" y2="189.60" stroke="#7a7a7a" stroke-width="0.5"/>
<line x1="652.80" y1="181.80" x2="652.80" y2="189.60" stroke="#7a7a7a" stroke-width="0.5"/>
<line x1="654.30" y1="181.80" x2="654.30" y2="189.60" stroke="#7a7a7a" stroke-width="0.5"/>
<line x1="656.90" y1="181.80" x2="656.90" y2="189.60" stroke="#b8b8b8" stroke-width="0.5"/>
<line x1="657.90" y1="181.80" x2="657.90" y2="189.60" stroke="#7a7a7a" stroke-width="0.5"/>
<line x1="664.60" y1="181.80" x2="664.60" y2="189.60" stroke="#3a3a3a" stroke-width="0.5"/>
<line x1="665.60" y1="181.80" x2="665.60" y2="189.60" stroke="#3a3a3a" stroke-width="0.5"/>
<line x1="668.10" y1="181.80" x2="668.10" y2="189.60" stroke="#7a7a7a" stroke-width="0.5"/>
<line x1="670.70" y1="181.80" x2="670.70" y2="189.60" stroke="#3a3a3a" stroke-width="0.5"/>
<line x1="672.70" y1="181.80" x2="672.70" y2="189.60" stroke="#7a7a7a" stroke-width="0.5"/>
<line x1="674.30" y1="181.80" x2="674.30" y2="189.60" stroke="#7a7a7a" stroke-width="0.5"/>
<line x1="676.80" y1="181.80" x2="676.80" y2="189.60" stroke="#3a3a3a" stroke-width="0.5"/>
<line x1="677.80" y1="181.80" x2="677.80" y2="189.60" stroke="#3a3a3a" stroke-width="0.5"/>
<line x1="678.70" y1="181.80" x2="678.70" y2="189.60" stroke="#3a3a3a" stroke-width="0.5"/>
<rect x="559.70" y="189.90" width="8.10" height="3.30" fill="#d42a2d"/>
<rect x="567.80" y="189.90" width="13.30" height="3.30" fill="#f05a3f"/>
<rect x="581.10" y="189.90" width="10.90" height="3.30" fill="#fb9e80"/>
<rect x="592.00" y="189.90" width="16.10" height="3.30" fill="#fdded0"/>
<rect x="608.10" y="189.90" width="24.80" height="3.30" fill="#e8eef9"/>
<rect x="632.90" y="189.90" width="19.90" height="3.30" fill="#aecbe5"/>
<rect x="652.80" y="189.90" width="6.10" height="3.30" fill="#75acd8"/>
<rect x="658.90" y="189.90" width="17.40" height="3.30" fill="#3f80c0"/>
<rect x="676.30" y="189.90" width="3.10" height="3.30" fill="#124f98"/>
<line x1="559.60" y1="194.00" x2="559.60" y2="217.60" stroke="#333" stroke-width="0.6"/>
<line x1="559.60" y1="217.60" x2="678.90" y2="217.60" stroke="#333" stroke-width="0.6"/>
<text x="558.40" y="203.77" font-size="6.3" text-anchor="end" fill="#333" stroke="#333">10</text>
<line x1="558.60" y1="201.50" x2="559.60" y2="201.50" stroke="#333" stroke-width="0.4"/>
<text x="558.40" y="212.27" font-size="6.3" text-anchor="end" fill="#333" stroke="#333">0</text>
<line x1="558.60" y1="210.00" x2="559.60" y2="210.00" stroke="#333" stroke-width="0.4"/>
<polygon points="560.00,210.00 560.00,197.00 560.50,198.95 561.10,204.15 561.80,206.75 562.80,208.18 564.50,208.96 568.00,209.48 590.00,209.80 640.00,210.00 655.00,210.40 665.00,211.00 672.00,211.80 676.00,212.60 678.90,214.00 678.90,210.00" fill="#cfcfcf" stroke="#bdbdbd" stroke-width="0.3"/>
<line x1="560.00" y1="210.00" x2="678.90" y2="210.00" stroke="#b5b5b5" stroke-width="0.5"/>
<line x1="592.80" y1="217.60" x2="592.80" y2="218.80" stroke="#333" stroke-width="0.5"/>
<text x="592.80" y="227.17" font-size="6.3" text-anchor="middle" fill="#333" stroke="#333">2000</text>
<line x1="625.60" y1="217.60" x2="625.60" y2="218.80" stroke="#333" stroke-width="0.5"/>
<text x="625.60" y="227.17" font-size="6.3" text-anchor="middle" fill="#333" stroke="#333">4000</text>
<line x1="658.40" y1="217.60" x2="658.40" y2="218.80" stroke="#333" stroke-width="0.5"/>
<text x="658.40" y="227.17" font-size="6.3" text-anchor="middle" fill="#333" stroke="#333">6000</text>
<text x="619.60" y="235.67" font-size="6.3" text-anchor="middle" fill="#222" stroke="#222">Rank in Ordered Dataset</text>
<rect x="656.00" y="146.30" width="14.60" height="4.30" fill="#d4d4d4"/>
<rect x="670.90" y="146.30" width="11.00" height="4.30" fill="#d4d4d4"/>
<rect x="656.00" y="151.50" width="14.60" height="3.60" fill="#ededed"/>
<rect x="670.90" y="151.50" width="11.00" height="3.60" fill="#ededed"/>
<text x="663.30" y="149.44" font-size="2.6" text-anchor="middle" font-weight="bold" stroke="#111">pvalue</text>
<text x="676.40" y="149.44" font-size="2.6" text-anchor="middle" font-weight="bold" stroke="#111">p.adjust</text>
<text x="611.0" y="153.5" font-size="2.85" fill="#ff3030" stroke="none">Toll-like receptor signaling pathway</text>
<text x="663.3" y="154.20000000000002" font-size="2.6" fill="#555" stroke="none" text-anchor="middle">0.10656</text>
<text x="676.4" y="154.20000000000002" font-size="2.6" fill="#555" stroke="none" text-anchor="middle">0.67336</text>
<text x="545.40" y="165.90" font-size="6.3" text-anchor="middle" fill="#222" stroke="#222" transform="rotate(-90 545.4 165.9)">Enrichment</text>
<text x="545.40" y="203.80" font-size="6.3" text-anchor="middle" fill="#222" stroke="#222" transform="rotate(-90 545.4 203.8)">Ranked list</text>
<text x="-0.80" y="260.40" font-size="13" font-weight="bold" fill="#000" stroke="#000">h</text>
<text x="182.50" y="258.90" font-size="6.3" text-anchor="middle" stroke="#111">Treg GO UP (TBG vs. NTBG)</text>
<rect x="152.60" y="261.60" width="70.70" height="96.10" fill="#ffffff" stroke="#9a9a9a" stroke-width="0.6"/>
<text x="149.60" y="269.76" font-size="6.0" text-anchor="end" stroke="#111">Negative regulation of leukocyte apoptotic process</text>
<rect x="155.70" y="263.90" width="64.32" height="7.40" fill="#5489d6"/>
<text x="149.60" y="279.19" font-size="6.0" text-anchor="end" fill="#ff1010" stroke="#ff1010">Regulation of CD4-positive, alpha-beta T cell activation</text>
<rect x="155.70" y="273.33" width="64.32" height="7.40" fill="#5489d6"/>
<text x="149.60" y="288.62" font-size="6.0" text-anchor="end" stroke="#111">Regulation of leukocyte mediated cytotoxicity</text>
<rect x="155.70" y="282.76" width="64.32" height="7.40" fill="#5489d6"/>
<text x="149.60" y="298.05" font-size="6.0" text-anchor="end" stroke="#111">Negative regulation of lymphocyte apoptotic process</text>
<rect x="155.70" y="292.19" width="53.60" height="7.40" fill="#5489d6"/>
<text x="149.60" y="307.48" font-size="6.0" text-anchor="end" fill="#ff1010" stroke="#ff1010">Regulation of T cell mediated cytotoxicity</text>
<rect x="155.70" y="301.62" width="53.60" height="7.40" fill="#5489d6"/>
<text x="149.60" y="316.91" font-size="6.0" text-anchor="end" stroke="#111">Regulation of alpha-beta T cell proliferation</text>
<rect x="155.70" y="311.05" width="48.24" height="7.40" fill="#5489d6"/>
<text x="149.60" y="326.34" font-size="6.0" text-anchor="end" fill="#ff1010" stroke="#ff1010">Negative regulation of T cell apoptotic process</text>
<rect x="155.70" y="320.48" width="37.52" height="7.40" fill="#5489d6"/>
<text x="149.60" y="335.77" font-size="6.0" text-anchor="end" stroke="#111">Regulation of T cell apoptotic process</text>
<rect x="155.70" y="329.91" width="37.52" height="7.40" fill="#5489d6"/>
<text x="149.60" y="345.20" font-size="6.0" text-anchor="end" stroke="#111">Negative T cell selection</text>
<rect x="155.70" y="339.34" width="21.44" height="7.40" fill="#5489d6"/>
<text x="149.60" y="354.63" font-size="6.0" text-anchor="end" stroke="#111">Negative regulation of CD40 signaling pathway</text>
<rect x="155.70" y="348.77" width="10.72" height="7.40" fill="#5489d6"/>
<line x1="156.30" y1="357.70" x2="156.30" y2="359.10" stroke="#444" stroke-width="0.5"/>
<text x="156.30" y="366.27" font-size="6.3" text-anchor="middle" fill="#333" stroke="#333">0</text>
<line x1="169.00" y1="357.70" x2="169.00" y2="359.10" stroke="#444" stroke-width="0.5"/>
<text x="169.00" y="366.27" font-size="6.3" text-anchor="middle" fill="#333" stroke="#333">2.5</text>
<line x1="182.00" y1="357.70" x2="182.00" y2="359.10" stroke="#444" stroke-width="0.5"/>
<text x="182.00" y="366.27" font-size="6.3" text-anchor="middle" fill="#333" stroke="#333">5</text>
<line x1="195.30" y1="357.70" x2="195.30" y2="359.10" stroke="#444" stroke-width="0.5"/>
<text x="195.30" y="366.27" font-size="6.3" text-anchor="middle" fill="#333" stroke="#333">7.5</text>
<line x1="209.50" y1="357.70" x2="209.50" y2="359.10" stroke="#444" stroke-width="0.5"/>
<text x="209.50" y="366.27" font-size="6.3" text-anchor="middle" fill="#333" stroke="#333">10</text>
<line x1="222.70" y1="357.70" x2="222.70" y2="359.10" stroke="#444" stroke-width="0.5"/>
<text x="222.70" y="366.27" font-size="6.3" text-anchor="middle" fill="#333" stroke="#333">12.5</text>
<text x="188.60" y="373.20" font-size="6.4" text-anchor="middle" fill="#222" stroke="#222">Count</text>
<text x="240.60" y="260.40" font-size="13" font-weight="bold" fill="#000" stroke="#000">i</text>
<text x="415.10" y="259.60" font-size="6.3" text-anchor="middle" stroke="#111">NK GO UP (TBG vs. NTBG)</text>
<rect x="383.70" y="262.30" width="70.00" height="95.00" fill="#ffffff" stroke="#9a9a9a" stroke-width="0.6"/>
<text x="380.00" y="269.86" font-size="6.0" text-anchor="end" stroke="#111">Negative regulation of immune system process</text>
<rect x="386.30" y="264.20" width="64.26" height="7.00" fill="#1f9c7b"/>
<text x="380.00" y="278.41" font-size="6.0" text-anchor="end" stroke="#111">Negative regulation of immune effector process</text>
<rect x="386.30" y="272.75" width="22.68" height="7.00" fill="#1f9c7b"/>
<text x="380.00" y="286.96" font-size="6.0" text-anchor="end" stroke="#111">Negative regulation of response to biotic stimulus</text>
<rect x="386.30" y="281.30" width="22.68" height="7.00" fill="#1f9c7b"/>
<text x="380.00" y="295.51" font-size="6.0" text-anchor="end" stroke="#111">Negative regulation of innate immune response</text>
<rect x="386.30" y="289.85" width="18.90" height="7.00" fill="#1f9c7b"/>
<text x="380.00" y="304.06" font-size="6.0" text-anchor="end" stroke="#111">Negative regulation of viral process</text>
<rect x="386.30" y="298.40" width="18.90" height="7.00" fill="#1f9c7b"/>
<text x="380.00" y="312.61" font-size="6.0" text-anchor="end" stroke="#111">Negative regulation of leukocyte mediated immunity</text>
<rect x="386.30" y="306.95" width="17.01" height="7.00" fill="#1f9c7b"/>
<text x="380.00" y="321.16" font-size="6.0" text-anchor="end" fill="#ff1010" stroke="#ff1010">Negative regulation of cell killing</text>
<rect x="386.30" y="315.50" width="15.12" height="7.00" fill="#1f9c7b"/>
<text x="380.00" y="329.71" font-size="6.0" text-anchor="end" stroke="#111">Negative regulation of lymphocyte mediated immunity</text>
<rect x="386.30" y="324.05" width="15.12" height="7.00" fill="#1f9c7b"/>
<text x="380.00" y="338.26" font-size="6.0" text-anchor="end" fill="#ff1010" stroke="#ff1010">Negative regulation of NK cell mediated cytotoxicity</text>
<rect x="386.30" y="332.60" width="13.23" height="7.00" fill="#1f9c7b"/>
<text x="380.00" y="346.81" font-size="6.0" text-anchor="end" fill="#ff1010" stroke="#ff1010">Negative regulation of NK cell mediated immunity</text>
<rect x="386.30" y="341.15" width="13.23" height="7.00" fill="#1f9c7b"/>
<text x="380.00" y="355.36" font-size="6.0" text-anchor="end" stroke="#111">Negative regulation of lymphocyte apoptotic process</text>
<rect x="386.30" y="349.70" width="11.34" height="7.00" fill="#1f9c7b"/>
<line x1="386.70" y1="357.30" x2="386.70" y2="358.70" stroke="#444" stroke-width="0.5"/>
<text x="386.70" y="366.67" font-size="6.3" text-anchor="middle" fill="#333" stroke="#333">0</text>
<line x1="405.40" y1="357.30" x2="405.40" y2="358.70" stroke="#444" stroke-width="0.5"/>
<text x="405.40" y="366.67" font-size="6.3" text-anchor="middle" fill="#333" stroke="#333">10</text>
<line x1="424.30" y1="357.30" x2="424.30" y2="358.70" stroke="#444" stroke-width="0.5"/>
<text x="424.30" y="366.67" font-size="6.3" text-anchor="middle" fill="#333" stroke="#333">20</text>
<line x1="443.30" y1="357.30" x2="443.30" y2="358.70" stroke="#444" stroke-width="0.5"/>
<text x="443.30" y="366.67" font-size="6.3" text-anchor="middle" fill="#333" stroke="#333">30</text>
<text x="419.40" y="373.50" font-size="6.4" text-anchor="middle" fill="#222" stroke="#222">Count</text>
<text x="468.40" y="260.40" font-size="13" font-weight="bold" fill="#000" stroke="#000">j</text>
<text x="638.90" y="259.20" font-size="6.3" text-anchor="middle" stroke="#111">B cell GO UP (TBG vs. NTBG)</text>
<rect x="608.70" y="262.90" width="69.60" height="94.80" fill="#ffffff" stroke="#9a9a9a" stroke-width="0.6"/>
<text x="605.60" y="271.06" font-size="6.0" text-anchor="end" stroke="#111">Negative regulation of immune response</text>
<rect x="611.30" y="265.25" width="63.40" height="7.30" fill="#f4680f"/>
<text x="605.60" y="280.36" font-size="6.0" text-anchor="end" stroke="#111">Negative regulation of defense response</text>
<rect x="611.30" y="274.55" width="63.40" height="7.30" fill="#f4680f"/>
<text x="605.60" y="289.66" font-size="6.0" text-anchor="end" stroke="#111">Negative regulation of immune effector process</text>
<rect x="611.30" y="283.85" width="50.72" height="7.30" fill="#f4680f"/>
<text x="605.60" y="298.96" font-size="6.0" text-anchor="end" stroke="#111">Negative regulation of lymphocyte activation</text>
<rect x="611.30" y="293.15" width="47.55" height="7.30" fill="#f4680f"/>
<text x="605.60" y="308.26" font-size="6.0" text-anchor="end" stroke="#111">Negative regulation of binding</text>
<rect x="611.30" y="302.45" width="34.87" height="7.30" fill="#f4680f"/>
<text x="605.60" y="317.56" font-size="6.0" text-anchor="end" stroke="#111">Negative regulation of inflammatory response</text>
<rect x="611.30" y="311.75" width="34.87" height="7.30" fill="#f4680f"/>
<text x="605.60" y="326.86" font-size="6.0" text-anchor="end" stroke="#111">Negative regulation of innate immune response</text>
<rect x="611.30" y="321.05" width="31.70" height="7.30" fill="#f4680f"/>
<text x="605.60" y="336.16" font-size="6.0" text-anchor="end" stroke="#111">Negative regulation of lymphocyte proliferation</text>
<rect x="611.30" y="330.35" width="28.53" height="7.30" fill="#f4680f"/>
<text x="605.60" y="345.46" font-size="6.0" text-anchor="end" fill="#ff1010" stroke="#ff1010">Negative regulation of B cell proliferation</text>
<rect x="611.30" y="339.65" width="9.51" height="7.30" fill="#f4680f"/>
<text x="605.60" y="354.76" font-size="6.0" text-anchor="end" fill="#ff1010" stroke="#ff1010">Negative regulation of mature B cell apoptotic process</text>
<rect x="611.30" y="348.95" width="6.34" height="7.30" fill="#f4680f"/>
<line x1="611.70" y1="357.70" x2="611.70" y2="359.10" stroke="#444" stroke-width="0.5"/>
<text x="611.70" y="367.07" font-size="6.3" text-anchor="middle" fill="#333" stroke="#333">0</text>
<line x1="627.50" y1="357.70" x2="627.50" y2="359.10" stroke="#444" stroke-width="0.5"/>
<text x="627.50" y="367.07" font-size="6.3" text-anchor="middle" fill="#333" stroke="#333">5</text>
<line x1="643.20" y1="357.70" x2="643.20" y2="359.10" stroke="#444" stroke-width="0.5"/>
<text x="643.20" y="367.07" font-size="6.3" text-anchor="middle" fill="#333" stroke="#333">10</text>
<line x1="658.80" y1="357.70" x2="658.80" y2="359.10" stroke="#444" stroke-width="0.5"/>
<text x="658.80" y="367.07" font-size="6.3" text-anchor="middle" fill="#333" stroke="#333">15</text>
<line x1="674.60" y1="357.70" x2="674.60" y2="359.10" stroke="#444" stroke-width="0.5"/>
<text x="674.60" y="367.07" font-size="6.3" text-anchor="middle" fill="#333" stroke="#333">20</text>
<text x="646.20" y="373.50" font-size="6.4" text-anchor="middle" fill="#222" stroke="#222">Count</text>
<text x="-0.80" y="385.60" font-size="13" font-weight="bold" fill="#000" stroke="#000">k</text>
<text x="53.80" y="402.80" font-size="6.9" text-anchor="middle" stroke="#111">Normal</text>
<path d="M58.60,420.90 Q69.03,423.58 77.10,430.70" fill="none" stroke="#4fb34f" stroke-width="0.7" stroke-opacity="0.6"/>
<path d="M77.10,430.70 Q69.03,423.58 58.60,420.90" fill="none" stroke="#2f74ba" stroke-width="0.6" stroke-opacity="0.5"/>
<path d="M77.10,430.70 Q82.89,439.62 84.00,450.20" fill="none" stroke="#2f74ba" stroke-width="0.7" stroke-opacity="0.6"/>
<path d="M84.00,450.20 Q82.89,439.62 77.10,430.70" fill="none" stroke="#ee1c1c" stroke-width="0.6" stroke-opacity="0.5"/>
<path d="M84.00,450.20 Q82.44,460.89 76.20,469.70" fill="none" stroke="#ee1c1c" stroke-width="0.7" stroke-opacity="0.6"/>
<path d="M76.20,469.70 Q82.44,460.89 84.00,450.20" fill="none" stroke="#79b6e6" stroke-width="0.6" stroke-opacity="0.5"/>
<path d="M76.20,469.70 Q68.70,477.21 58.60,480.50" fill="none" stroke="#79b6e6" stroke-width="0.7" stroke-opacity="0.6"/>
<path d="M58.60,480.50 Q68.70,477.21 76.20,469.70" fill="none" stroke="#b06f45" stroke-width="0.6" stroke-opacity="0.5"/>
<path d="M58.60,480.50 Q47.71,480.52 38.00,475.60" fill="none" stroke="#b06f45" stroke-width="0.7" stroke-opacity="0.6"/>
<path d="M38.00,475.60 Q47.71,480.52 58.60,480.50" fill="none" stroke="#c49bd6" stroke-width="0.6" stroke-opacity="0.5"/>
<path d="M38.00,475.60 Q29.45,469.93 24.40,461.00" fill="none" stroke="#c49bd6" stroke-width="0.7" stroke-opacity="0.6"/>
<path d="M24.40,461.00 Q29.45,469.93 38.00,475.60" fill="none" stroke="#f084c0" stroke-width="0.6" stroke-opacity="0.5"/>
<path d="M24.40,461.00 Q21.32,450.37 23.40,439.50" fill="none" stroke="#f084c0" stroke-width="0.7" stroke-opacity="0.6"/>
<path d="M23.40,439.50 Q21.32,450.37 24.40,461.00" fill="none" stroke="#f2a73a" stroke-width="0.6" stroke-opacity="0.5"/>
<path d="M23.40,439.50 Q27.76,429.68 36.10,422.90" fill="none" stroke="#f2a73a" stroke-width="0.7" stroke-opacity="0.6"/>
<path d="M36.10,422.90 Q27.76,429.68 23.40,439.50" fill="none" stroke="#9650a6" stroke-width="0.6" stroke-opacity="0.5"/>
<path d="M36.10,422.90 Q47.11,419.20 58.60,420.90" fill="none" stroke="#9650a6" stroke-width="0.7" stroke-opacity="0.6"/>
<path d="M58.60,420.90 Q47.11,419.20 36.10,422.90" fill="none" stroke="#4fb34f" stroke-width="0.6" stroke-opacity="0.5"/>
<path d="M58.60,420.90 Q66.38,428.57 77.10,430.70" fill="none" stroke="#4fb34f" stroke-width="1.05" stroke-opacity="0.68"/>
<path d="M58.60,420.90 Q68.37,438.09 84.00,450.20" fill="none" stroke="#4fb34f" stroke-width="1.05" stroke-opacity="0.75"/>
<path d="M58.60,420.90 Q57.64,448.82 76.20,469.70" fill="none" stroke="#4fb34f" stroke-width="0.78" stroke-opacity="0.67"/>
<path d="M58.60,420.90 Q49.66,450.70 58.60,480.50" fill="none" stroke="#4fb34f" stroke-width="1.21" stroke-opacity="0.59"/>
<path d="M58.60,420.90 Q37.36,444.13 38.00,475.60" fill="none" stroke="#4fb34f" stroke-width="0.9" stroke-opacity="0.57"/>
<path d="M58.60,420.90 Q35.48,435.82 24.40,461.00" fill="none" stroke="#4fb34f" stroke-width="1.23" stroke-opacity="0.69"/>
<path d="M58.60,420.90 Q37.28,423.16 23.40,439.50" fill="none" stroke="#4fb34f" stroke-width="1.56" stroke-opacity="0.7"/>
<path d="M58.60,420.90 Q46.95,417.40 36.10,422.90" fill="none" stroke="#4fb34f" stroke-width="1.25" stroke-opacity="0.69"/>
<path d="M77.10,430.70 Q68.83,423.95 58.60,420.90" fill="none" stroke="#2f74ba" stroke-width="0.73" stroke-opacity="0.56"/>
<path d="M77.10,430.70 Q77.62,441.49 84.00,450.20" fill="none" stroke="#2f74ba" stroke-width="1.32" stroke-opacity="0.73"/>
<path d="M77.10,430.70 Q68.85,450.02 76.20,469.70" fill="none" stroke="#2f74ba" stroke-width="1.14" stroke-opacity="0.74"/>
<path d="M77.10,430.70 Q62.87,453.75 58.60,480.50" fill="none" stroke="#2f74ba" stroke-width="0.92" stroke-opacity="0.62"/>
<path d="M77.10,430.70 Q50.81,447.28 38.00,475.60" fill="none" stroke="#2f74ba" stroke-width="1.39" stroke-opacity="0.66"/>
<path d="M77.10,430.70 Q47.72,440.58 24.40,461.00" fill="none" stroke="#2f74ba" stroke-width="1.11" stroke-opacity="0.68"/>
<path d="M77.10,430.70 Q49.37,429.73 23.40,439.50" fill="none" stroke="#2f74ba" stroke-width="1.44" stroke-opacity="0.62"/>
<path d="M77.10,430.70 Q58.16,418.60 36.10,422.90" fill="none" stroke="#2f74ba" stroke-width="1.22" stroke-opacity="0.56"/>
<path d="M84.00,450.20 Q75.69,431.74 58.60,420.90" fill="none" stroke="#ee1c1c" stroke-width="1.37" stroke-opacity="0.64"/>
<path d="M84.00,450.20 Q84.45,439.07 77.10,430.70" fill="none" stroke="#ee1c1c" stroke-width="0.99" stroke-opacity="0.77"/>
<path d="M84.00,450.20 Q78.15,459.17 76.20,469.70" fill="none" stroke="#ee1c1c" stroke-width="0.6" stroke-opacity="0.6"/>
<path d="M84.00,450.20 Q66.75,461.54 58.60,480.50" fill="none" stroke="#ee1c1c" stroke-width="1.07" stroke-opacity="0.78"/>
<path d="M84.00,450.20 Q58.46,458.30 38.00,475.60" fill="none" stroke="#ee1c1c" stroke-width="1.02" stroke-opacity="0.68"/>
<path d="M84.00,450.20 Q53.12,449.64 24.40,461.00" fill="none" stroke="#ee1c1c" stroke-width="1.38" stroke-opacity="0.61"/>
<path d="M84.00,450.20 Q55.30,435.76 23.40,439.50" fill="none" stroke="#ee1c1c" stroke-width="0.91" stroke-opacity="0.55"/>
<path d="M84.00,450.20 Q62.78,431.76 36.10,422.90" fill="none" stroke="#ee1c1c" stroke-width="1.36" stroke-opacity="0.58"/>
<path d="M76.20,469.70 Q74.72,442.66 58.60,420.90" fill="none" stroke="#79b6e6" stroke-width="1.57" stroke-opacity="0.55"/>
<path d="M76.20,469.70 Q84.45,450.38 77.10,430.70" fill="none" stroke="#79b6e6" stroke-width="1.68" stroke-opacity="0.59"/>
<path d="M76.20,469.70 Q84.00,461.51 84.00,450.20" fill="none" stroke="#79b6e6" stroke-width="0.95" stroke-opacity="0.67"/>
<path d="M76.20,469.70 Q65.78,472.46 58.60,480.50" fill="none" stroke="#79b6e6" stroke-width="1.64" stroke-opacity="0.65"/>
<path d="M76.20,469.70 Q56.51,468.83 38.00,475.60" fill="none" stroke="#79b6e6" stroke-width="0.86" stroke-opacity="0.65"/>
<path d="M76.20,469.70 Q52.04,454.99 24.40,461.00" fill="none" stroke="#79b6e6" stroke-width="0.72" stroke-opacity="0.75"/>
<path d="M76.20,469.70 Q52.82,449.32 23.40,439.50" fill="none" stroke="#79b6e6" stroke-width="1.08" stroke-opacity="0.75"/>
<path d="M76.20,469.70 Q65.51,438.28 36.10,422.90" fill="none" stroke="#79b6e6" stroke-width="0.94" stroke-opacity="0.78"/>
<path d="M58.60,480.50 Q64.56,450.70 58.60,420.90" fill="none" stroke="#b06f45" stroke-width="1.24" stroke-opacity="0.57"/>
<path d="M58.60,480.50 Q77.81,459.30 77.10,430.70" fill="none" stroke="#b06f45" stroke-width="0.81" stroke-opacity="0.61"/>
<path d="M58.60,480.50 Q74.33,467.89 84.00,450.20" fill="none" stroke="#b06f45" stroke-width="0.93" stroke-opacity="0.62"/>
<path d="M58.60,480.50 Q69.56,478.62 76.20,469.70" fill="none" stroke="#b06f45" stroke-width="0.67" stroke-opacity="0.6"/>
<path d="M58.60,480.50 Q49.03,474.96 38.00,475.60" fill="none" stroke="#b06f45" stroke-width="0.84" stroke-opacity="0.69"/>
<path d="M58.60,480.50 Q45.40,463.91 24.40,461.00" fill="none" stroke="#b06f45" stroke-width="1.22" stroke-opacity="0.58"/>
<path d="M58.60,480.50 Q47.15,454.72 23.40,439.50" fill="none" stroke="#b06f45" stroke-width="1.08" stroke-opacity="0.68"/>
<path d="M58.60,480.50 Q53.11,449.45 36.10,422.90" fill="none" stroke="#b06f45" stroke-width="0.78" stroke-opacity="0.59"/>
<path d="M38.00,475.60 Q53.77,450.31 58.60,420.90" fill="none" stroke="#c49bd6" stroke-width="1.42" stroke-opacity="0.61"/>
<path d="M38.00,475.60 Q66.53,460.97 77.10,430.70" fill="none" stroke="#c49bd6" stroke-width="0.76" stroke-opacity="0.69"/>
<path d="M38.00,475.60 Q64.81,469.80 84.00,450.20" fill="none" stroke="#c49bd6" stroke-width="0.8" stroke-opacity="0.77"/>
<path d="M38.00,475.60 Q57.69,476.47 76.20,469.70" fill="none" stroke="#c49bd6" stroke-width="1.2" stroke-opacity="0.65"/>
<path d="M38.00,475.60 Q47.56,481.14 58.60,480.50" fill="none" stroke="#c49bd6" stroke-width="0.71" stroke-opacity="0.67"/>
<path d="M38.00,475.60 Q33.39,466.26 24.40,461.00" fill="none" stroke="#c49bd6" stroke-width="0.84" stroke-opacity="0.71"/>
<path d="M38.00,475.60 Q36.12,455.36 23.40,439.50" fill="none" stroke="#c49bd6" stroke-width="1.02" stroke-opacity="0.76"/>
<path d="M38.00,475.60 Q47.59,448.87 36.10,422.90" fill="none" stroke="#c49bd6" stroke-width="0.89" stroke-opacity="0.59"/>
<path d="M24.40,461.00 Q47.52,446.08 58.60,420.90" fill="none" stroke="#f084c0" stroke-width="2.05" stroke-opacity="0.58"/>
<path d="M24.40,461.00 Q56.81,456.39 77.10,430.70" fill="none" stroke="#f084c0" stroke-width="1.51" stroke-opacity="0.75"/>
<path d="M24.40,461.00 Q55.28,461.56 84.00,450.20" fill="none" stroke="#f084c0" stroke-width="0.88" stroke-opacity="0.6"/>
<path d="M24.40,461.00 Q48.99,473.12 76.20,469.70" fill="none" stroke="#f084c0" stroke-width="1.75" stroke-opacity="0.57"/>
<path d="M24.40,461.00 Q39.55,474.17 58.60,480.50" fill="none" stroke="#f084c0" stroke-width="1.36" stroke-opacity="0.56"/>
<path d="M24.40,461.00 Q29.74,469.66 38.00,475.60" fill="none" stroke="#f084c0" stroke-width="1.15" stroke-opacity="0.67"/>
<path d="M24.40,461.00 Q27.12,450.10 23.40,439.50" fill="none" stroke="#f084c0" stroke-width="0.9" stroke-opacity="0.58"/>
<path d="M24.40,461.00 Q37.87,444.29 36.10,422.90" fill="none" stroke="#f084c0" stroke-width="2.05" stroke-opacity="0.7"/>
<path d="M23.40,439.50 Q44.72,437.24 58.60,420.90" fill="none" stroke="#f2a73a" stroke-width="1.12" stroke-opacity="0.77"/>
<path d="M23.40,439.50 Q51.57,443.16 77.10,430.70" fill="none" stroke="#f2a73a" stroke-width="0.64" stroke-opacity="0.55"/>
<path d="M23.40,439.50 Q52.63,450.91 84.00,450.20" fill="none" stroke="#f2a73a" stroke-width="1.3" stroke-opacity="0.77"/>
<path d="M23.40,439.50 Q46.78,459.88 76.20,469.70" fill="none" stroke="#f2a73a" stroke-width="1.2" stroke-opacity="0.57"/>
<path d="M23.40,439.50 Q36.90,463.52 58.60,480.50" fill="none" stroke="#f2a73a" stroke-width="1.33" stroke-opacity="0.62"/>
<path d="M23.40,439.50 Q23.48,460.47 38.00,475.60" fill="none" stroke="#f2a73a" stroke-width="0.68" stroke-opacity="0.68"/>
<path d="M23.40,439.50 Q19.60,450.45 24.40,461.00" fill="none" stroke="#f2a73a" stroke-width="0.64" stroke-opacity="0.77"/>
<path d="M23.40,439.50 Q32.24,433.10 36.10,422.90" fill="none" stroke="#f2a73a" stroke-width="1.3" stroke-opacity="0.73"/>
<path d="M36.10,422.90 Q47.55,424.15 58.60,420.90" fill="none" stroke="#9650a6" stroke-width="0.95" stroke-opacity="0.71"/>
<path d="M36.10,422.90 Q55.82,430.90 77.10,430.70" fill="none" stroke="#9650a6" stroke-width="1.47" stroke-opacity="0.65"/>
<path d="M36.10,422.90 Q54.59,446.13 84.00,450.20" fill="none" stroke="#9650a6" stroke-width="1.46" stroke-opacity="0.68"/>
<path d="M36.10,422.90 Q51.47,450.31 76.20,469.70" fill="none" stroke="#9650a6" stroke-width="1.26" stroke-opacity="0.64"/>
<path d="M36.10,422.90 Q35.83,456.20 58.60,480.50" fill="none" stroke="#9650a6" stroke-width="1.21" stroke-opacity="0.57"/>
<path d="M36.10,422.90 Q29.14,449.54 38.00,475.60" fill="none" stroke="#9650a6" stroke-width="0.72" stroke-opacity="0.61"/>
<path d="M36.10,422.90 Q22.63,439.61 24.40,461.00" fill="none" stroke="#9650a6" stroke-width="1.33" stroke-opacity="0.64"/>
<path d="M36.10,422.90 Q27.26,429.30 23.40,439.50" fill="none" stroke="#9650a6" stroke-width="1.29" stroke-opacity="0.66"/>
<path d="M58.60,480.50 Q49.65,450.80 36.10,422.90" fill="none" stroke="#b06f45" stroke-width="3.2" stroke-opacity="0.75"/>
<path d="M76.20,469.70 Q54.28,447.90 36.10,422.90" fill="none" stroke="#79b6e6" stroke-width="2.6" stroke-opacity="0.75"/>
<path d="M84.00,450.20 Q60.87,435.11 36.10,422.90" fill="none" stroke="#ee1c1c" stroke-width="2.6" stroke-opacity="0.45"/>
<path d="M36.10,422.90 Q57.54,421.88 77.10,430.70" fill="none" stroke="#9650a6" stroke-width="2.0" stroke-opacity="0.75"/>
<path d="M23.40,439.50 Q27.26,429.30 36.10,422.90" fill="none" stroke="#f2a73a" stroke-width="1.8" stroke-opacity="0.75"/>
<path d="M58.60,480.50 Q61.58,450.70 58.60,420.90" fill="none" stroke="#b06f45" stroke-width="1.4" stroke-opacity="0.75"/>
<path d="M58.60,480.50 Q65.36,454.68 77.10,430.70" fill="none" stroke="#b06f45" stroke-width="1.3" stroke-opacity="0.75"/>
<path d="M58.60,420.90 Q69.32,423.02 77.10,430.70" fill="none" stroke="#4fb34f" stroke-width="1.3" stroke-opacity="0.75"/>
<path d="M58.60,420.90 Q62.52,447.06 76.20,469.70" fill="none" stroke="#4fb34f" stroke-width="1.1" stroke-opacity="0.75"/>
<path d="M38.00,475.60 Q43.37,449.02 36.10,422.90" fill="none" stroke="#c49bd6" stroke-width="1.6" stroke-opacity="0.75"/>
<path d="M24.40,461.00 Q33.30,442.89 36.10,422.90" fill="none" stroke="#f084c0" stroke-width="1.1" stroke-opacity="0.75"/>
<path d="M76.20,469.70 Q64.47,446.36 58.60,420.90" fill="none" stroke="#79b6e6" stroke-width="1.2" stroke-opacity="0.75"/>
<ellipse cx="34.01" cy="419.79" rx="5.00" ry="3.60" transform="rotate(-123.9 34.01 419.79)" fill="#9650a6" fill-opacity="0.85"/>
<ellipse cx="58.97" cy="417.77" rx="4.20" ry="1.80" transform="rotate(-83.2 58.97 417.77)" fill="none" stroke="#4fb34f" stroke-width="0.6"/>
<ellipse cx="79.09" cy="428.87" rx="3.60" ry="1.80" transform="rotate(-42.6 79.09 428.87)" fill="none" stroke="#2f74ba" stroke-width="0.6"/>
<ellipse cx="78.45" cy="471.68" rx="4.00" ry="2.30" transform="rotate(41.4 78.45 471.68)" fill="#79b6e6" fill-opacity="0.85"/>
<ellipse cx="59.00" cy="483.78" rx="4.40" ry="2.00" transform="rotate(83.0 59.00 483.78)" fill="none" stroke="#b06f45" stroke-width="0.6"/>
<ellipse cx="36.21" cy="478.19" rx="4.20" ry="2.40" transform="rotate(124.6 36.21 478.19)" fill="#c49bd6" fill-opacity="0.85"/>
<ellipse cx="21.98" cy="461.79" rx="3.40" ry="2.00" transform="rotate(161.9 21.98 461.79)" fill="#f084c0" fill-opacity="0.85"/>
<circle cx="58.60" cy="420.90" r="1.20" fill="#4fb34f"/>
<circle cx="77.10" cy="430.70" r="2.80" fill="#2f74ba"/>
<circle cx="84.00" cy="450.20" r="1.40" fill="#ee1c1c"/>
<circle cx="76.20" cy="469.70" r="1.00" fill="#79b6e6"/>
<circle cx="58.60" cy="480.50" r="1.00" fill="#b06f45"/>
<circle cx="38.00" cy="475.60" r="0.90" fill="#c49bd6"/>
<circle cx="24.40" cy="461.00" r="1.00" fill="#f084c0"/>
<circle cx="23.40" cy="439.50" r="0.90" fill="#f2a73a"/>
<circle cx="36.10" cy="422.90" r="2.40" fill="#9650a6"/>
<text x="59.50" y="417.23" font-size="6.2" text-anchor="middle" stroke="#111">CD4+Treg</text>
<text x="82.00" y="428.43" font-size="6.2" text-anchor="middle" stroke="#111">CD4</text>
<text x="87.50" y="452.63" font-size="6.2" stroke="#111">B</text>
<text x="81.40" y="471.73" font-size="6.2" text-anchor="middle" stroke="#111">pDC</text>
<text x="62.50" y="485.43" font-size="6.2" text-anchor="middle" stroke="#111">NK</text>
<text x="38.30" y="483.83" font-size="6.2" text-anchor="middle" stroke="#111">M2</text>
<text x="20.00" y="467.03" font-size="6.2" text-anchor="middle" stroke="#111">M1</text>
<text x="19.80" y="441.83" font-size="6.2" text-anchor="middle" stroke="#111">cDC2</text>
<text x="33.60" y="422.83" font-size="6.2" text-anchor="middle" stroke="#111">CD8</text>
<text x="144.30" y="403.20" font-size="6.9" text-anchor="middle" stroke="#111">NTBG</text>
<path d="M149.30,421.50 Q159.28,424.29 166.90,431.30" fill="none" stroke="#4fb34f" stroke-width="0.7" stroke-opacity="0.6"/>
<path d="M166.90,431.30 Q159.28,424.29 149.30,421.50" fill="none" stroke="#2f74ba" stroke-width="0.6" stroke-opacity="0.5"/>
<path d="M166.90,431.30 Q172.77,439.89 174.10,450.20" fill="none" stroke="#2f74ba" stroke-width="0.7" stroke-opacity="0.6"/>
<path d="M174.10,450.20 Q172.77,439.89 166.90,431.30" fill="none" stroke="#ee1c1c" stroke-width="0.6" stroke-opacity="0.5"/>
<path d="M174.10,450.20 Q173.04,460.77 167.30,469.70" fill="none" stroke="#ee1c1c" stroke-width="0.7" stroke-opacity="0.6"/>
<path d="M167.30,469.70 Q173.04,460.77 174.10,450.20" fill="none" stroke="#79b6e6" stroke-width="0.6" stroke-opacity="0.5"/>
<path d="M167.30,469.70 Q159.60,477.26 149.30,480.50" fill="none" stroke="#79b6e6" stroke-width="0.7" stroke-opacity="0.6"/>
<path d="M149.30,480.50 Q159.60,477.26 167.30,469.70" fill="none" stroke="#b06f45" stroke-width="0.6" stroke-opacity="0.5"/>
<path d="M149.30,480.50 Q138.84,479.89 129.80,474.60" fill="none" stroke="#b06f45" stroke-width="0.7" stroke-opacity="0.6"/>
<path d="M129.80,474.60 Q138.84,479.89 149.30,480.50" fill="none" stroke="#c49bd6" stroke-width="0.6" stroke-opacity="0.5"/>
<path d="M129.80,474.60 Q121.40,468.90 116.50,460.00" fill="none" stroke="#c49bd6" stroke-width="0.7" stroke-opacity="0.6"/>
<path d="M116.50,460.00 Q121.40,468.90 129.80,474.60" fill="none" stroke="#f084c0" stroke-width="0.6" stroke-opacity="0.5"/>
<path d="M116.50,460.00 Q113.54,449.87 115.50,439.50" fill="none" stroke="#f084c0" stroke-width="0.7" stroke-opacity="0.6"/>
<path d="M115.50,439.50 Q113.54,449.87 116.50,460.00" fill="none" stroke="#f2a73a" stroke-width="0.6" stroke-opacity="0.5"/>
<path d="M115.50,439.50 Q120.21,430.28 128.60,424.20" fill="none" stroke="#f2a73a" stroke-width="0.7" stroke-opacity="0.6"/>
<path d="M128.60,424.20 Q120.21,430.28 115.50,439.50" fill="none" stroke="#9650a6" stroke-width="0.6" stroke-opacity="0.5"/>
<path d="M128.60,424.20 Q138.63,420.37 149.30,421.50" fill="none" stroke="#9650a6" stroke-width="0.7" stroke-opacity="0.6"/>
<path d="M149.30,421.50 Q138.63,420.37 128.60,424.20" fill="none" stroke="#4fb34f" stroke-width="0.6" stroke-opacity="0.5"/>
<path d="M149.30,421.50 Q156.14,429.92 166.90,431.30" fill="none" stroke="#4fb34f" stroke-width="1.29" stroke-opacity="0.7"/>
<path d="M149.30,421.50 Q157.39,439.57 174.10,450.20" fill="none" stroke="#4fb34f" stroke-width="1.14" stroke-opacity="0.64"/>
<path d="M149.30,421.50 Q151.07,448.30 167.30,469.70" fill="none" stroke="#4fb34f" stroke-width="1.3" stroke-opacity="0.7"/>
<path d="M149.30,421.50 Q137.50,451.00 149.30,480.50" fill="none" stroke="#4fb34f" stroke-width="1.55" stroke-opacity="0.69"/>
<path d="M149.30,421.50 Q131.59,445.12 129.80,474.60" fill="none" stroke="#4fb34f" stroke-width="0.72" stroke-opacity="0.69"/>
<path d="M149.30,421.50 Q129.05,437.47 116.50,460.00" fill="none" stroke="#4fb34f" stroke-width="1.16" stroke-opacity="0.63"/>
<path d="M149.30,421.50 Q130.60,427.12 115.50,439.50" fill="none" stroke="#4fb34f" stroke-width="0.79" stroke-opacity="0.74"/>
<path d="M149.30,421.50 Q138.41,418.71 128.60,424.20" fill="none" stroke="#4fb34f" stroke-width="1.34" stroke-opacity="0.74"/>
<path d="M166.90,431.30 Q159.08,424.64 149.30,421.50" fill="none" stroke="#2f74ba" stroke-width="1.0" stroke-opacity="0.74"/>
<path d="M166.90,431.30 Q166.72,442.19 174.10,450.20" fill="none" stroke="#2f74ba" stroke-width="1.52" stroke-opacity="0.74"/>
<path d="M166.90,431.30 Q161.34,450.56 167.30,469.70" fill="none" stroke="#2f74ba" stroke-width="1.11" stroke-opacity="0.57"/>
<path d="M166.90,431.30 Q150.72,453.26 149.30,480.50" fill="none" stroke="#2f74ba" stroke-width="1.55" stroke-opacity="0.58"/>
<path d="M166.90,431.30 Q139.69,445.53 129.80,474.60" fill="none" stroke="#2f74ba" stroke-width="1.57" stroke-opacity="0.67"/>
<path d="M166.90,431.30 Q138.83,440.61 116.50,460.00" fill="none" stroke="#2f74ba" stroke-width="1.16" stroke-opacity="0.77"/>
<path d="M166.90,431.30 Q140.38,430.26 115.50,439.50" fill="none" stroke="#2f74ba" stroke-width="1.16" stroke-opacity="0.67"/>
<path d="M166.90,431.30 Q149.17,420.09 128.60,424.20" fill="none" stroke="#2f74ba" stroke-width="1.0" stroke-opacity="0.65"/>
<path d="M174.10,450.20 Q167.44,430.89 149.30,421.50" fill="none" stroke="#ee1c1c" stroke-width="1.07" stroke-opacity="0.69"/>
<path d="M174.10,450.20 Q172.39,440.03 166.90,431.30" fill="none" stroke="#ee1c1c" stroke-width="0.63" stroke-opacity="0.72"/>
<path d="M174.10,450.20 Q167.77,458.93 167.30,469.70" fill="none" stroke="#ee1c1c" stroke-width="1.58" stroke-opacity="0.7"/>
<path d="M174.10,450.20 Q157.15,461.63 149.30,480.50" fill="none" stroke="#ee1c1c" stroke-width="1.54" stroke-opacity="0.75"/>
<path d="M174.10,450.20 Q149.51,457.97 129.80,474.60" fill="none" stroke="#ee1c1c" stroke-width="1.27" stroke-opacity="0.58"/>
<path d="M174.10,450.20 Q143.34,443.58 116.50,460.00" fill="none" stroke="#ee1c1c" stroke-width="0.94" stroke-opacity="0.64"/>
<path d="M174.10,450.20 Q145.87,438.99 115.50,439.50" fill="none" stroke="#ee1c1c" stroke-width="1.41" stroke-opacity="0.67"/>
<path d="M174.10,450.20 Q153.95,432.65 128.60,424.20" fill="none" stroke="#ee1c1c" stroke-width="0.98" stroke-opacity="0.75"/>
<path d="M167.30,469.70 Q165.53,442.90 149.30,421.50" fill="none" stroke="#79b6e6" stroke-width="1.57" stroke-opacity="0.6"/>
<path d="M167.30,469.70 Q174.78,450.42 166.90,431.30" fill="none" stroke="#79b6e6" stroke-width="0.9" stroke-opacity="0.6"/>
<path d="M167.30,469.70 Q172.65,460.63 174.10,450.20" fill="none" stroke="#79b6e6" stroke-width="0.98" stroke-opacity="0.68"/>
<path d="M167.30,469.70 Q156.68,472.40 149.30,480.50" fill="none" stroke="#79b6e6" stroke-width="0.95" stroke-opacity="0.61"/>
<path d="M167.30,469.70 Q147.57,464.65 129.80,474.60" fill="none" stroke="#79b6e6" stroke-width="1.23" stroke-opacity="0.63"/>
<path d="M167.30,469.70 Q143.36,457.23 116.50,460.00" fill="none" stroke="#79b6e6" stroke-width="1.86" stroke-opacity="0.67"/>
<path d="M167.30,469.70 Q145.93,446.83 115.50,439.50" fill="none" stroke="#79b6e6" stroke-width="1.13" stroke-opacity="0.61"/>
<path d="M167.30,469.70 Q152.50,443.08 128.60,424.20" fill="none" stroke="#79b6e6" stroke-width="1.82" stroke-opacity="0.75"/>
<path d="M149.30,480.50 Q161.10,451.00 149.30,421.50" fill="none" stroke="#b06f45" stroke-width="1.56" stroke-opacity="0.59"/>
<path d="M149.30,480.50 Q167.94,459.42 166.90,431.30" fill="none" stroke="#b06f45" stroke-width="0.96" stroke-opacity="0.59"/>
<path d="M149.30,480.50 Q166.25,469.07 174.10,450.20" fill="none" stroke="#b06f45" stroke-width="0.82" stroke-opacity="0.69"/>
<path d="M149.30,480.50 Q159.38,476.90 167.30,469.70" fill="none" stroke="#b06f45" stroke-width="1.52" stroke-opacity="0.73"/>
<path d="M149.30,480.50 Q140.14,475.60 129.80,474.60" fill="none" stroke="#b06f45" stroke-width="0.84" stroke-opacity="0.55"/>
<path d="M149.30,480.50 Q135.97,465.33 116.50,460.00" fill="none" stroke="#b06f45" stroke-width="0.85" stroke-opacity="0.58"/>
<path d="M149.30,480.50 Q136.50,456.62 115.50,439.50" fill="none" stroke="#b06f45" stroke-width="1.6" stroke-opacity="0.67"/>
<path d="M149.30,480.50 Q150.21,448.21 128.60,424.20" fill="none" stroke="#b06f45" stroke-width="1.53" stroke-opacity="0.75"/>
<path d="M129.80,474.60 Q144.86,450.00 149.30,421.50" fill="none" stroke="#c49bd6" stroke-width="1.43" stroke-opacity="0.7"/>
<path d="M129.80,474.60 Q154.85,458.52 166.90,431.30" fill="none" stroke="#c49bd6" stroke-width="1.38" stroke-opacity="0.67"/>
<path d="M129.80,474.60 Q155.61,469.04 174.10,450.20" fill="none" stroke="#c49bd6" stroke-width="1.23" stroke-opacity="0.61"/>
<path d="M129.80,474.60 Q149.29,477.77 167.30,469.70" fill="none" stroke="#c49bd6" stroke-width="1.49" stroke-opacity="0.59"/>
<path d="M129.80,474.60 Q138.67,480.48 149.30,480.50" fill="none" stroke="#c49bd6" stroke-width="1.22" stroke-opacity="0.56"/>
<path d="M129.80,474.60 Q126.07,464.64 116.50,460.00" fill="none" stroke="#c49bd6" stroke-width="1.54" stroke-opacity="0.67"/>
<path d="M129.80,474.60 Q129.67,454.19 115.50,439.50" fill="none" stroke="#c49bd6" stroke-width="1.05" stroke-opacity="0.73"/>
<path d="M129.80,474.60 Q139.28,449.16 128.60,424.20" fill="none" stroke="#c49bd6" stroke-width="0.89" stroke-opacity="0.61"/>
<path d="M116.50,460.00 Q140.60,447.31 149.30,421.50" fill="none" stroke="#f084c0" stroke-width="0.78" stroke-opacity="0.56"/>
<path d="M116.50,460.00 Q144.57,450.69 166.90,431.30" fill="none" stroke="#f084c0" stroke-width="1.93" stroke-opacity="0.65"/>
<path d="M116.50,460.00 Q146.28,460.86 174.10,450.20" fill="none" stroke="#f084c0" stroke-width="1.04" stroke-opacity="0.66"/>
<path d="M116.50,460.00 Q140.44,472.47 167.30,469.70" fill="none" stroke="#f084c0" stroke-width="1.51" stroke-opacity="0.69"/>
<path d="M116.50,460.00 Q128.80,476.81 149.30,480.50" fill="none" stroke="#f084c0" stroke-width="1.77" stroke-opacity="0.65"/>
<path d="M116.50,460.00 Q121.69,468.63 129.80,474.60" fill="none" stroke="#f084c0" stroke-width="0.9" stroke-opacity="0.64"/>
<path d="M116.50,460.00 Q119.08,449.60 115.50,439.50" fill="none" stroke="#f084c0" stroke-width="1.53" stroke-opacity="0.63"/>
<path d="M116.50,460.00 Q126.13,443.31 128.60,424.20" fill="none" stroke="#f084c0" stroke-width="1.61" stroke-opacity="0.64"/>
<path d="M115.50,439.50 Q134.20,433.88 149.30,421.50" fill="none" stroke="#f2a73a" stroke-width="0.68" stroke-opacity="0.71"/>
<path d="M115.50,439.50 Q142.43,443.11 166.90,431.30" fill="none" stroke="#f2a73a" stroke-width="1.54" stroke-opacity="0.76"/>
<path d="M115.50,439.50 Q143.20,453.64 174.10,450.20" fill="none" stroke="#f2a73a" stroke-width="1.25" stroke-opacity="0.73"/>
<path d="M115.50,439.50 Q138.38,459.78 167.30,469.70" fill="none" stroke="#f2a73a" stroke-width="1.53" stroke-opacity="0.71"/>
<path d="M115.50,439.50 Q124.20,466.76 149.30,480.50" fill="none" stroke="#f2a73a" stroke-width="1.0" stroke-opacity="0.76"/>
<path d="M115.50,439.50 Q115.63,459.91 129.80,474.60" fill="none" stroke="#f2a73a" stroke-width="1.42" stroke-opacity="0.66"/>
<path d="M115.50,439.50 Q111.90,449.95 116.50,460.00" fill="none" stroke="#f2a73a" stroke-width="0.8" stroke-opacity="0.67"/>
<path d="M115.50,439.50 Q123.58,433.16 128.60,424.20" fill="none" stroke="#f2a73a" stroke-width="1.41" stroke-opacity="0.68"/>
<path d="M128.60,424.20 Q139.49,426.99 149.30,421.50" fill="none" stroke="#9650a6" stroke-width="1.01" stroke-opacity="0.62"/>
<path d="M128.60,424.20 Q146.33,435.41 166.90,431.30" fill="none" stroke="#9650a6" stroke-width="0.93" stroke-opacity="0.71"/>
<path d="M128.60,424.20 Q146.15,446.30 174.10,450.20" fill="none" stroke="#9650a6" stroke-width="0.91" stroke-opacity="0.71"/>
<path d="M128.60,424.20 Q141.12,452.75 167.30,469.70" fill="none" stroke="#9650a6" stroke-width="1.26" stroke-opacity="0.76"/>
<path d="M128.60,424.20 Q127.69,456.49 149.30,480.50" fill="none" stroke="#9650a6" stroke-width="0.78" stroke-opacity="0.6"/>
<path d="M128.60,424.20 Q119.12,449.64 129.80,474.60" fill="none" stroke="#9650a6" stroke-width="1.04" stroke-opacity="0.59"/>
<path d="M128.60,424.20 Q117.18,440.29 116.50,460.00" fill="none" stroke="#9650a6" stroke-width="1.19" stroke-opacity="0.66"/>
<path d="M128.60,424.20 Q119.75,429.89 115.50,439.50" fill="none" stroke="#9650a6" stroke-width="0.7" stroke-opacity="0.6"/>
<path d="M167.30,469.70 Q142.38,462.31 116.50,460.00" fill="none" stroke="#79b6e6" stroke-width="2.4" stroke-opacity="0.75"/>
<path d="M167.30,469.70 Q148.16,469.15 129.80,474.60" fill="none" stroke="#79b6e6" stroke-width="2.0" stroke-opacity="0.75"/>
<path d="M167.30,469.70 Q142.91,452.01 115.50,439.50" fill="none" stroke="#79b6e6" stroke-width="1.4" stroke-opacity="0.75"/>
<path d="M116.50,460.00 Q140.93,469.93 167.30,469.70" fill="none" stroke="#f084c0" stroke-width="1.5" stroke-opacity="0.75"/>
<path d="M149.30,421.50 Q146.94,451.00 149.30,480.50" fill="none" stroke="#4fb34f" stroke-width="1.2" stroke-opacity="0.75"/>
<path d="M149.30,421.50 Q155.41,446.68 167.30,469.70" fill="none" stroke="#4fb34f" stroke-width="1.2" stroke-opacity="0.75"/>
<path d="M116.50,460.00 Q124.61,465.97 129.80,474.60" fill="none" stroke="#f084c0" stroke-width="1.6" stroke-opacity="0.75"/>
<path d="M115.50,439.50 Q118.46,449.63 116.50,460.00" fill="none" stroke="#f2a73a" stroke-width="1.4" stroke-opacity="0.75"/>
<path d="M128.60,424.20 Q150.22,445.01 167.30,469.70" fill="none" stroke="#9650a6" stroke-width="1.0" stroke-opacity="0.75"/>
<path d="M167.30,469.70 Q150.22,445.01 128.60,424.20" fill="none" stroke="#79b6e6" stroke-width="1.1" stroke-opacity="0.75"/>
<path d="M149.30,421.50 Q137.43,447.27 129.80,474.60" fill="none" stroke="#4fb34f" stroke-width="1.0" stroke-opacity="0.75"/>
<ellipse cx="112.48" cy="461.23" rx="5.60" ry="3.60" transform="rotate(163.0 112.48 461.23)" fill="#f084c0" fill-opacity="0.85"/>
<ellipse cx="127.51" cy="477.94" rx="5.40" ry="3.40" transform="rotate(124.5 127.51 477.94)" fill="#c49bd6" fill-opacity="0.85"/>
<ellipse cx="169.89" cy="471.98" rx="4.60" ry="2.80" transform="rotate(41.3 169.89 471.98)" fill="#79b6e6" fill-opacity="0.85"/>
<ellipse cx="149.63" cy="418.52" rx="4.00" ry="1.60" transform="rotate(-83.6 149.63 418.52)" fill="none" stroke="#4fb34f" stroke-width="0.6"/>
<ellipse cx="149.59" cy="483.11" rx="3.50" ry="1.60" transform="rotate(83.6 149.59 483.11)" fill="none" stroke="#b06f45" stroke-width="0.6"/>
<ellipse cx="127.17" cy="422.00" rx="3.50" ry="1.60" transform="rotate(-123.0 127.17 422.00)" fill="none" stroke="#9650a6" stroke-width="0.6"/>
<ellipse cx="113.39" cy="438.71" rx="3.00" ry="1.50" transform="rotate(-159.3 113.39 438.71)" fill="none" stroke="#f2a73a" stroke-width="0.6"/>
<circle cx="149.30" cy="421.50" r="1.20" fill="#4fb34f"/>
<circle cx="166.90" cy="431.30" r="2.80" fill="#2f74ba"/>
<circle cx="174.10" cy="450.20" r="1.30" fill="#ee1c1c"/>
<circle cx="167.30" cy="469.70" r="1.20" fill="#79b6e6"/>
<circle cx="149.30" cy="480.50" r="1.00" fill="#b06f45"/>
<circle cx="129.80" cy="474.60" r="1.00" fill="#c49bd6"/>
<circle cx="116.50" cy="460.00" r="1.20" fill="#f084c0"/>
<circle cx="115.50" cy="439.50" r="1.00" fill="#f2a73a"/>
<circle cx="128.60" cy="424.20" r="1.40" fill="#9650a6"/>
<text x="152.50" y="417.83" font-size="6.2" text-anchor="middle" stroke="#111">CD4+Treg</text>
<text x="172.00" y="428.83" font-size="6.2" text-anchor="middle" stroke="#111">CD4</text>
<text x="177.50" y="452.63" font-size="6.2" stroke="#111">B</text>
<text x="172.00" y="471.83" font-size="6.2" text-anchor="middle" stroke="#111">pDC</text>
<text x="152.50" y="485.43" font-size="6.2" text-anchor="middle" stroke="#111">NK</text>
<text x="130.00" y="483.43" font-size="6.2" text-anchor="middle" stroke="#111">M2</text>
<text x="111.00" y="466.83" font-size="6.2" text-anchor="middle" stroke="#111">M1</text>
<text x="110.50" y="442.03" font-size="6.2" text-anchor="middle" stroke="#111">cDC2</text>
<text x="125.50" y="423.13" font-size="6.2" text-anchor="middle" stroke="#111">CD8</text>
<text x="234.40" y="403.20" font-size="6.9" text-anchor="middle" stroke="#111">TBG</text>
<path d="M237.30,422.80 Q247.38,426.04 254.90,433.50" fill="none" stroke="#4fb34f" stroke-width="0.7" stroke-opacity="0.6"/>
<path d="M254.90,433.50 Q247.38,426.04 237.30,422.80" fill="none" stroke="#2f74ba" stroke-width="0.6" stroke-opacity="0.5"/>
<path d="M254.90,433.50 Q261.29,442.28 263.00,453.00" fill="none" stroke="#2f74ba" stroke-width="0.7" stroke-opacity="0.6"/>
<path d="M263.00,453.00 Q261.29,442.28 254.90,433.50" fill="none" stroke="#ee1c1c" stroke-width="0.6" stroke-opacity="0.5"/>
<path d="M263.00,453.00 Q262.45,463.50 257.20,472.60" fill="none" stroke="#ee1c1c" stroke-width="0.7" stroke-opacity="0.6"/>
<path d="M257.20,472.60 Q262.45,463.50 263.00,453.00" fill="none" stroke="#79b6e6" stroke-width="0.6" stroke-opacity="0.5"/>
<path d="M257.20,472.60 Q248.65,480.84 237.30,484.30" fill="none" stroke="#79b6e6" stroke-width="0.7" stroke-opacity="0.6"/>
<path d="M237.30,484.30 Q248.65,480.84 257.20,472.60" fill="none" stroke="#b06f45" stroke-width="0.6" stroke-opacity="0.5"/>
<path d="M237.30,484.30 Q226.40,485.38 216.20,481.40" fill="none" stroke="#b06f45" stroke-width="0.7" stroke-opacity="0.6"/>
<path d="M216.20,481.40 Q226.40,485.38 237.30,484.30" fill="none" stroke="#c49bd6" stroke-width="0.6" stroke-opacity="0.5"/>
<path d="M216.20,481.40 Q207.49,474.18 203.00,463.80" fill="none" stroke="#c49bd6" stroke-width="0.7" stroke-opacity="0.6"/>
<path d="M203.00,463.80 Q207.49,474.18 216.20,481.40" fill="none" stroke="#f084c0" stroke-width="0.6" stroke-opacity="0.5"/>
<path d="M203.00,463.80 Q200.22,453.10 202.60,442.30" fill="none" stroke="#f084c0" stroke-width="0.7" stroke-opacity="0.6"/>
<path d="M202.60,442.30 Q200.22,453.10 203.00,463.80" fill="none" stroke="#f2a73a" stroke-width="0.6" stroke-opacity="0.5"/>
<path d="M202.60,442.30 Q206.35,432.15 214.30,424.80" fill="none" stroke="#f2a73a" stroke-width="0.7" stroke-opacity="0.6"/>
<path d="M214.30,424.80 Q206.35,432.15 202.60,442.30" fill="none" stroke="#9650a6" stroke-width="0.6" stroke-opacity="0.5"/>
<path d="M214.30,424.80 Q225.56,421.04 237.30,422.80" fill="none" stroke="#9650a6" stroke-width="0.7" stroke-opacity="0.6"/>
<path d="M237.30,422.80 Q225.56,421.04 214.30,424.80" fill="none" stroke="#4fb34f" stroke-width="0.6" stroke-opacity="0.5"/>
<path d="M237.30,422.80 Q243.96,431.67 254.90,433.50" fill="none" stroke="#4fb34f" stroke-width="0.86" stroke-opacity="0.71"/>
<path d="M237.30,422.80 Q244.11,443.04 263.00,453.00" fill="none" stroke="#4fb34f" stroke-width="1.4" stroke-opacity="0.75"/>
<path d="M237.30,422.80 Q242.27,449.69 257.20,472.60" fill="none" stroke="#4fb34f" stroke-width="0.83" stroke-opacity="0.58"/>
<path d="M237.30,422.80 Q231.15,453.55 237.30,484.30" fill="none" stroke="#4fb34f" stroke-width="1.24" stroke-opacity="0.59"/>
<path d="M237.30,422.80 Q217.96,448.94 216.20,481.40" fill="none" stroke="#4fb34f" stroke-width="1.13" stroke-opacity="0.6"/>
<path d="M237.30,422.80 Q211.95,436.44 203.00,463.80" fill="none" stroke="#4fb34f" stroke-width="0.63" stroke-opacity="0.58"/>
<path d="M237.30,422.80 Q217.02,427.35 202.60,442.30" fill="none" stroke="#4fb34f" stroke-width="1.21" stroke-opacity="0.55"/>
<path d="M237.30,422.80 Q225.50,420.35 214.30,424.80" fill="none" stroke="#4fb34f" stroke-width="1.43" stroke-opacity="0.57"/>
<path d="M254.90,433.50 Q247.17,426.39 237.30,422.80" fill="none" stroke="#2f74ba" stroke-width="1.43" stroke-opacity="0.72"/>
<path d="M254.90,433.50 Q257.00,444.06 263.00,453.00" fill="none" stroke="#2f74ba" stroke-width="1.39" stroke-opacity="0.61"/>
<path d="M254.90,433.50 Q248.23,453.51 257.20,472.60" fill="none" stroke="#2f74ba" stroke-width="1.09" stroke-opacity="0.72"/>
<path d="M254.90,433.50 Q238.48,456.26 237.30,484.30" fill="none" stroke="#2f74ba" stroke-width="1.58" stroke-opacity="0.7"/>
<path d="M254.90,433.50 Q228.37,451.64 216.20,481.40" fill="none" stroke="#2f74ba" stroke-width="1.24" stroke-opacity="0.7"/>
<path d="M254.90,433.50 Q224.40,440.86 203.00,463.80" fill="none" stroke="#2f74ba" stroke-width="1.42" stroke-opacity="0.73"/>
<path d="M254.90,433.50 Q226.99,427.44 202.60,442.30" fill="none" stroke="#2f74ba" stroke-width="1.29" stroke-opacity="0.68"/>
<path d="M254.90,433.50 Q236.34,421.03 214.30,424.80" fill="none" stroke="#2f74ba" stroke-width="1.59" stroke-opacity="0.65"/>
<path d="M263.00,453.00 Q253.17,435.33 237.30,422.80" fill="none" stroke="#ee1c1c" stroke-width="1.04" stroke-opacity="0.59"/>
<path d="M263.00,453.00 Q261.88,442.04 254.90,433.50" fill="none" stroke="#ee1c1c" stroke-width="0.78" stroke-opacity="0.63"/>
<path d="M263.00,453.00 Q257.16,461.93 257.20,472.60" fill="none" stroke="#ee1c1c" stroke-width="1.06" stroke-opacity="0.69"/>
<path d="M263.00,453.00 Q243.89,463.51 237.30,484.30" fill="none" stroke="#ee1c1c" stroke-width="1.49" stroke-opacity="0.68"/>
<path d="M263.00,453.00 Q236.76,462.52 216.20,481.40" fill="none" stroke="#ee1c1c" stroke-width="0.84" stroke-opacity="0.6"/>
<path d="M263.00,453.00 Q231.38,449.40 203.00,463.80" fill="none" stroke="#ee1c1c" stroke-width="1.3" stroke-opacity="0.58"/>
<path d="M263.00,453.00 Q234.41,438.59 202.60,442.30" fill="none" stroke="#ee1c1c" stroke-width="1.25" stroke-opacity="0.77"/>
<path d="M263.00,453.00 Q241.47,434.03 214.30,424.80" fill="none" stroke="#ee1c1c" stroke-width="0.6" stroke-opacity="0.65"/>
<path d="M257.20,472.60 Q257.21,443.72 237.30,422.80" fill="none" stroke="#79b6e6" stroke-width="1.07" stroke-opacity="0.66"/>
<path d="M257.20,472.60 Q259.96,452.82 254.90,433.50" fill="none" stroke="#79b6e6" stroke-width="1.87" stroke-opacity="0.7"/>
<path d="M257.20,472.60 Q263.04,463.67 263.00,453.00" fill="none" stroke="#79b6e6" stroke-width="1.73" stroke-opacity="0.72"/>
<path d="M257.20,472.60 Q246.08,476.46 237.30,484.30" fill="none" stroke="#79b6e6" stroke-width="1.93" stroke-opacity="0.73"/>
<path d="M257.20,472.60 Q234.94,468.80 216.20,481.40" fill="none" stroke="#79b6e6" stroke-width="1.7" stroke-opacity="0.7"/>
<path d="M257.20,472.60 Q231.86,457.36 203.00,463.80" fill="none" stroke="#79b6e6" stroke-width="1.71" stroke-opacity="0.58"/>
<path d="M257.20,472.60 Q232.93,451.99 202.60,442.30" fill="none" stroke="#79b6e6" stroke-width="1.56" stroke-opacity="0.72"/>
<path d="M257.20,472.60 Q245.31,440.12 214.30,424.80" fill="none" stroke="#79b6e6" stroke-width="1.9" stroke-opacity="0.56"/>
<path d="M237.30,484.30 Q249.60,453.55 237.30,422.80" fill="none" stroke="#b06f45" stroke-width="1.31" stroke-opacity="0.63"/>
<path d="M237.30,484.30 Q251.18,460.66 254.90,433.50" fill="none" stroke="#b06f45" stroke-width="1.29" stroke-opacity="0.59"/>
<path d="M237.30,484.30 Q253.28,471.22 263.00,453.00" fill="none" stroke="#b06f45" stroke-width="0.84" stroke-opacity="0.71"/>
<path d="M237.30,484.30 Q249.00,481.44 257.20,472.60" fill="none" stroke="#b06f45" stroke-width="1.65" stroke-opacity="0.59"/>
<path d="M237.30,484.30 Q227.33,478.63 216.20,481.40" fill="none" stroke="#b06f45" stroke-width="1.37" stroke-opacity="0.68"/>
<path d="M237.30,484.30 Q223.22,468.91 203.00,463.80" fill="none" stroke="#b06f45" stroke-width="1.42" stroke-opacity="0.77"/>
<path d="M237.30,484.30 Q224.15,459.83 202.60,442.30" fill="none" stroke="#b06f45" stroke-width="1.37" stroke-opacity="0.67"/>
<path d="M237.30,484.30 Q234.73,451.10 214.30,424.80" fill="none" stroke="#b06f45" stroke-width="1.76" stroke-opacity="0.58"/>
<path d="M216.20,481.40 Q238.47,456.32 237.30,422.80" fill="none" stroke="#c49bd6" stroke-width="1.51" stroke-opacity="0.68"/>
<path d="M216.20,481.40 Q242.74,463.25 254.90,433.50" fill="none" stroke="#c49bd6" stroke-width="0.68" stroke-opacity="0.66"/>
<path d="M216.20,481.40 Q243.86,474.22 263.00,453.00" fill="none" stroke="#c49bd6" stroke-width="1.45" stroke-opacity="0.56"/>
<path d="M216.20,481.40 Q238.46,485.20 257.20,472.60" fill="none" stroke="#c49bd6" stroke-width="0.93" stroke-opacity="0.66"/>
<path d="M216.20,481.40 Q226.17,487.07 237.30,484.30" fill="none" stroke="#c49bd6" stroke-width="1.12" stroke-opacity="0.66"/>
<path d="M216.20,481.40 Q212.24,470.62 203.00,463.80" fill="none" stroke="#c49bd6" stroke-width="0.81" stroke-opacity="0.73"/>
<path d="M216.20,481.40 Q217.22,459.13 202.60,442.30" fill="none" stroke="#c49bd6" stroke-width="1.1" stroke-opacity="0.76"/>
<path d="M216.20,481.40 Q220.91,452.91 214.30,424.80" fill="none" stroke="#c49bd6" stroke-width="0.75" stroke-opacity="0.65"/>
<path d="M203.00,463.80 Q226.30,448.44 237.30,422.80" fill="none" stroke="#f084c0" stroke-width="0.94" stroke-opacity="0.69"/>
<path d="M203.00,463.80 Q233.50,456.44 254.90,433.50" fill="none" stroke="#f084c0" stroke-width="1.51" stroke-opacity="0.69"/>
<path d="M203.00,463.80 Q234.08,464.40 263.00,453.00" fill="none" stroke="#f084c0" stroke-width="0.88" stroke-opacity="0.63"/>
<path d="M203.00,463.80 Q229.22,473.62 257.20,472.60" fill="none" stroke="#f084c0" stroke-width="1.01" stroke-opacity="0.66"/>
<path d="M203.00,463.80 Q218.10,477.48 237.30,484.30" fill="none" stroke="#f084c0" stroke-width="1.49" stroke-opacity="0.69"/>
<path d="M203.00,463.80 Q206.96,474.58 216.20,481.40" fill="none" stroke="#f084c0" stroke-width="1.38" stroke-opacity="0.62"/>
<path d="M203.00,463.80 Q206.03,452.99 202.60,442.30" fill="none" stroke="#f084c0" stroke-width="1.19" stroke-opacity="0.68"/>
<path d="M203.00,463.80 Q212.55,445.43 214.30,424.80" fill="none" stroke="#f084c0" stroke-width="0.73" stroke-opacity="0.67"/>
<path d="M202.60,442.30 Q222.88,437.75 237.30,422.80" fill="none" stroke="#f2a73a" stroke-width="0.97" stroke-opacity="0.56"/>
<path d="M202.60,442.30 Q230.07,445.75 254.90,433.50" fill="none" stroke="#f2a73a" stroke-width="1.85" stroke-opacity="0.6"/>
<path d="M202.60,442.30 Q231.20,456.71 263.00,453.00" fill="none" stroke="#f2a73a" stroke-width="1.56" stroke-opacity="0.62"/>
<path d="M202.60,442.30 Q225.35,465.64 257.20,472.60" fill="none" stroke="#f2a73a" stroke-width="0.95" stroke-opacity="0.63"/>
<path d="M202.60,442.30 Q213.65,468.50 237.30,484.30" fill="none" stroke="#f2a73a" stroke-width="1.54" stroke-opacity="0.68"/>
<path d="M202.60,442.30 Q205.49,463.21 216.20,481.40" fill="none" stroke="#f2a73a" stroke-width="0.84" stroke-opacity="0.67"/>
<path d="M202.60,442.30 Q200.65,453.09 203.00,463.80" fill="none" stroke="#f2a73a" stroke-width="2.04" stroke-opacity="0.56"/>
<path d="M202.60,442.30 Q210.20,434.72 214.30,424.80" fill="none" stroke="#f2a73a" stroke-width="1.94" stroke-opacity="0.68"/>
<path d="M214.30,424.80 Q226.20,428.40 237.30,422.80" fill="none" stroke="#9650a6" stroke-width="1.5" stroke-opacity="0.76"/>
<path d="M214.30,424.80 Q233.30,435.24 254.90,433.50" fill="none" stroke="#9650a6" stroke-width="0.75" stroke-opacity="0.66"/>
<path d="M214.30,424.80 Q235.83,443.77 263.00,453.00" fill="none" stroke="#9650a6" stroke-width="0.67" stroke-opacity="0.61"/>
<path d="M214.30,424.80 Q230.97,452.99 257.20,472.60" fill="none" stroke="#9650a6" stroke-width="0.65" stroke-opacity="0.6"/>
<path d="M214.30,424.80 Q216.88,458.00 237.30,484.30" fill="none" stroke="#9650a6" stroke-width="1.12" stroke-opacity="0.76"/>
<path d="M214.30,424.80 Q209.59,453.29 216.20,481.40" fill="none" stroke="#9650a6" stroke-width="0.8" stroke-opacity="0.64"/>
<path d="M214.30,424.80 Q204.75,443.17 203.00,463.80" fill="none" stroke="#9650a6" stroke-width="1.44" stroke-opacity="0.76"/>
<path d="M214.30,424.80 Q205.82,431.80 202.60,442.30" fill="none" stroke="#9650a6" stroke-width="1.21" stroke-opacity="0.77"/>
<path d="M237.30,484.30 Q228.18,453.63 214.30,424.80" fill="none" stroke="#b06f45" stroke-width="2.8" stroke-opacity="0.75"/>
<path d="M257.20,472.60 Q233.84,450.42 214.30,424.80" fill="none" stroke="#79b6e6" stroke-width="3.0" stroke-opacity="0.75"/>
<path d="M257.20,472.60 Q248.74,447.10 237.30,422.80" fill="none" stroke="#79b6e6" stroke-width="2.6" stroke-opacity="0.75"/>
<path d="M202.60,442.30 Q228.38,460.18 257.20,472.60" fill="none" stroke="#f2a73a" stroke-width="2.0" stroke-opacity="0.75"/>
<path d="M202.60,442.30 Q205.82,431.80 214.30,424.80" fill="none" stroke="#f2a73a" stroke-width="2.0" stroke-opacity="0.75"/>
<path d="M237.30,422.80 Q234.23,453.55 237.30,484.30" fill="none" stroke="#4fb34f" stroke-width="1.4" stroke-opacity="0.75"/>
<path d="M263.00,453.00 Q240.06,436.46 214.30,424.80" fill="none" stroke="#ee1c1c" stroke-width="1.6" stroke-opacity="0.45"/>
<path d="M214.30,424.80 Q235.64,424.28 254.90,433.50" fill="none" stroke="#9650a6" stroke-width="1.8" stroke-opacity="0.75"/>
<path d="M237.30,484.30 Q234.23,453.55 237.30,422.80" fill="none" stroke="#b06f45" stroke-width="1.3" stroke-opacity="0.75"/>
<path d="M254.90,433.50 Q250.19,453.39 257.20,472.60" fill="none" stroke="#2f74ba" stroke-width="1.3" stroke-opacity="0.75"/>
<path d="M263.00,453.00 Q258.14,462.22 257.20,472.60" fill="none" stroke="#ee1c1c" stroke-width="1.2" stroke-opacity="0.45"/>
<path d="M203.00,463.80 Q211.77,445.20 214.30,424.80" fill="none" stroke="#f084c0" stroke-width="1.0" stroke-opacity="0.75"/>
<ellipse cx="212.01" cy="421.46" rx="5.40" ry="3.40" transform="rotate(-124.5 212.01 421.46)" fill="#9650a6" fill-opacity="0.85"/>
<ellipse cx="237.75" cy="488.48" rx="5.60" ry="3.40" transform="rotate(83.9 237.75 488.48)" fill="#b06f45" fill-opacity="0.85"/>
<ellipse cx="260.56" cy="475.36" rx="5.80" ry="3.80" transform="rotate(39.5 260.56 475.36)" fill="#79b6e6" fill-opacity="0.85"/>
<ellipse cx="266.00" cy="452.95" rx="4.00" ry="1.70" transform="rotate(-1.0 266.00 452.95)" fill="none" stroke="#ee1c1c" stroke-width="0.6"/>
<ellipse cx="200.13" cy="441.42" rx="3.50" ry="1.80" transform="rotate(-160.4 200.13 441.42)" fill="none" stroke="#f2a73a" stroke-width="0.6"/>
<ellipse cx="237.60" cy="419.97" rx="3.80" ry="1.60" transform="rotate(-83.9 237.60 419.97)" fill="none" stroke="#4fb34f" stroke-width="0.6"/>
<ellipse cx="214.99" cy="483.30" rx="3.00" ry="1.40" transform="rotate(122.5 214.99 483.30)" fill="none" stroke="#c49bd6" stroke-width="0.6"/>
<ellipse cx="256.42" cy="432.05" rx="2.80" ry="1.50" transform="rotate(-43.7 256.42 432.05)" fill="#2f74ba" fill-opacity="0.85"/>
<circle cx="237.30" cy="422.80" r="1.20" fill="#4fb34f"/>
<circle cx="254.90" cy="433.50" r="2.20" fill="#2f74ba"/>
<circle cx="263.00" cy="453.00" r="1.40" fill="#ee1c1c"/>
<circle cx="257.20" cy="472.60" r="1.20" fill="#79b6e6"/>
<circle cx="237.30" cy="484.30" r="2.00" fill="#b06f45"/>
<circle cx="216.20" cy="481.40" r="1.00" fill="#c49bd6"/>
<circle cx="203.00" cy="463.80" r="1.20" fill="#f084c0"/>
<circle cx="202.60" cy="442.30" r="1.00" fill="#f2a73a"/>
<circle cx="214.30" cy="424.80" r="2.20" fill="#9650a6"/>
<text x="240.00" y="419.83" font-size="6.2" text-anchor="middle" stroke="#111">CD4+Treg</text>
<text x="259.00" y="431.43" font-size="6.2" text-anchor="middle" stroke="#111">CD4</text>
<text x="266.00" y="455.43" font-size="6.2" stroke="#111">B</text>
<text x="261.50" y="474.93" font-size="6.2" text-anchor="middle" stroke="#111">pDC</text>
<text x="240.50" y="488.93" font-size="6.2" text-anchor="middle" stroke="#111">NK</text>
<text x="216.00" y="486.93" font-size="6.2" text-anchor="middle" stroke="#111">M2</text>
<text x="198.00" y="469.43" font-size="6.2" text-anchor="middle" stroke="#111">M1</text>
<text x="197.00" y="445.43" font-size="6.2" text-anchor="middle" stroke="#111">cDC2</text>
<text x="211.00" y="425.43" font-size="6.2" text-anchor="middle" stroke="#111">CD8</text>
<text x="299.60" y="386.40" font-size="13" font-weight="bold" fill="#000" stroke="#000">l</text>
<text x="465.70" y="393.80" font-size="6.3" text-anchor="middle" stroke="#111">GO UP ( Drug resistance group )</text>
<rect x="443.20" y="397.30" width="50.20" height="90.70" fill="#ffffff" stroke="#9a9a9a" stroke-width="0.6"/>
<text x="440.00" y="404.46" font-size="6.0" text-anchor="end" fill="#ff1010" stroke="#ff1010">Negative regulation of immune system process</text>
<circle cx="483.70" cy="402.30" r="2.20" fill="#e0323a"/>
<text x="440.00" y="413.06" font-size="6.0" text-anchor="end" stroke="#111">Negative regulation of cell activation</text>
<circle cx="466.60" cy="410.90" r="1.60" fill="#a23a62"/>
<text x="440.00" y="420.86" font-size="6.0" text-anchor="end" stroke="#111">Negative regulation of T cell differentiation</text>
<circle cx="456.00" cy="418.70" r="0.90" fill="#8c3c6c"/>
<text x="440.00" y="428.96" font-size="6.0" text-anchor="end" stroke="#111">Negative regulation of leukocyte activation</text>
<circle cx="464.60" cy="426.80" r="1.50" fill="#963c66"/>
<text x="440.00" y="437.06" font-size="6.0" text-anchor="end" stroke="#111">Negative regulation of lymphocyte differentiation</text>
<circle cx="456.00" cy="434.90" r="0.90" fill="#7a3e78"/>
<text x="440.00" y="445.16" font-size="6.0" text-anchor="end" stroke="#111">Negative regulation of leukocyte differentiation</text>
<circle cx="458.50" cy="443.00" r="1.10" fill="#4e4494"/>
<text x="440.00" y="453.26" font-size="6.0" text-anchor="end" stroke="#111">Negative regulation of hemopoiesis</text>
<circle cx="458.50" cy="451.10" r="1.10" fill="#4a4696"/>
<text x="440.00" y="461.36" font-size="6.0" text-anchor="end" stroke="#111">Negative regulation of lymphocyte activation</text>
<circle cx="460.30" cy="459.20" r="1.30" fill="#3a4a9c"/>
<text x="440.00" y="469.46" font-size="6.0" text-anchor="end" stroke="#111">Negative regulation of T cell activation</text>
<circle cx="458.50" cy="467.30" r="1.10" fill="#344b9e"/>
<text x="440.00" y="477.56" font-size="6.0" text-anchor="end" stroke="#111">Negative regulation of immune response</text>
<circle cx="460.30" cy="475.40" r="1.30" fill="#2a4d9f"/>
<text x="440.00" y="485.76" font-size="6.0" text-anchor="end" stroke="#111">Negative regulation of adaptive immune response</text>
<circle cx="453.80" cy="483.60" r="0.60" fill="#2050a2"/>
<line x1="445.70" y1="488.00" x2="445.70" y2="489.40" stroke="#444" stroke-width="0.5"/>
<text x="445.70" y="497.57" font-size="6.3" text-anchor="middle" fill="#333" stroke="#333">0</text>
<line x1="460.30" y1="488.00" x2="460.30" y2="489.40" stroke="#444" stroke-width="0.5"/>
<text x="460.30" y="497.57" font-size="6.3" text-anchor="middle" fill="#333" stroke="#333">4</text>
<line x1="475.10" y1="488.00" x2="475.10" y2="489.40" stroke="#444" stroke-width="0.5"/>
<text x="475.10" y="497.57" font-size="6.3" text-anchor="middle" fill="#333" stroke="#333">8</text>
<line x1="490.40" y1="488.00" x2="490.40" y2="489.40" stroke="#444" stroke-width="0.5"/>
<text x="490.40" y="497.57" font-size="6.3" text-anchor="middle" fill="#333" stroke="#333">12</text>
<text x="469.30" y="504.60" font-size="6.2" text-anchor="middle" fill="#222" stroke="#222">Ratio</text>
<text x="500.00" y="413.90" font-size="5.2" stroke="#111">-log10</text>
<text x="499.40" y="420.20" font-size="5.2" stroke="#111">(P Value)</text>
<rect x="500.00" y="425.70" width="6.60" height="24.30" fill="url(#gd)"/>
<text x="509.60" y="428.50" font-size="5.0" stroke="#111">6</text>
<text x="509.60" y="435.20" font-size="5.0" stroke="#111">5</text>
<text x="509.60" y="442.30" font-size="5.0" stroke="#111">4</text>
<text x="509.60" y="449.80" font-size="5.0" stroke="#111">3</text>
<text x="502.50" y="459.10" font-size="5.2" stroke="#111">Count</text>
<circle cx="504.20" cy="463.70" r="0.50" fill="#111"/>
<text x="509.60" y="465.50" font-size="5.0" stroke="#111">4</text>
<circle cx="504.20" cy="470.80" r="1.20" fill="#111"/>
<text x="509.60" y="472.60" font-size="5.0" stroke="#111">8</text>
<circle cx="504.20" cy="477.90" r="1.60" fill="#111"/>
<text x="509.60" y="479.70" font-size="5.0" stroke="#111">12</text>
<circle cx="504.20" cy="484.60" r="2.00" fill="#111"/>
<text x="509.60" y="486.40" font-size="5.0" stroke="#111">16</text>
<text x="553.20" y="386.40" font-size="13" font-weight="bold" fill="#000" stroke="#000">m</text>
<text x="625.00" y="387.40" font-size="6.3" text-anchor="middle" stroke="#111">Immunosuppressive markers for</text>
<text x="625.50" y="395.10" font-size="6.3" text-anchor="middle" stroke="#111">predication of tuberculosis drug resistance</text>
<rect x="586.00" y="399.40" width="87.80" height="87.90" fill="#ffffff" stroke="#8a8a8a" stroke-width="0.6"/>
<polygon points="589.20,485.60 589.20,473.12 590.02,470.62 590.84,468.13 591.67,464.80 592.08,456.48 592.49,449.82 593.31,448.99 594.13,448.16 594.95,445.66 595.78,444.00 597.42,442.34 599.06,439.01 600.71,434.85 602.35,431.52 604.00,429.02 605.64,425.70 607.28,424.03 609.75,423.20 612.22,420.70 613.86,418.21 615.50,415.71 617.97,414.05 620.44,413.22 623.72,411.55 625.37,409.89 628.66,409.06 631.94,407.39 636.88,406.56 640.16,405.73 643.45,404.90 646.74,403.23 651.67,402.40 671.40,402.40 671.40,485.60" fill="#fff1f3"/>
<line x1="589.20" y1="485.60" x2="671.40" y2="402.40" stroke="#b0b0b0" stroke-width="0.5"/>
<polyline points="589.20,485.60 589.20,473.12 590.02,470.62 590.84,468.13 591.67,464.80 592.08,456.48 592.49,449.82 593.31,448.99 594.13,448.16 594.95,445.66 595.78,444.00 597.42,442.34 599.06,439.01 600.71,434.85 602.35,431.52 604.00,429.02 605.64,425.70 607.28,424.03 609.75,423.20 612.22,420.70 613.86,418.21 615.50,415.71 617.97,414.05 620.44,413.22 623.72,411.55 625.37,409.89 628.66,409.06 631.94,407.39 636.88,406.56 640.16,405.73 643.45,404.90 646.74,403.23 651.67,402.40 671.40,402.40" fill="none" stroke="#f5305c" stroke-width="0.8"/>
<text x="649.20" y="481.30" font-size="6.5" text-anchor="middle" fill="#ec2f62" stroke="#ec2f62">AUC: 0.839</text>
<line x1="586.00" y1="485.60" x2="584.70" y2="485.60" stroke="#444" stroke-width="0.5"/>
<text x="582.60" y="485.60" font-size="6.3" text-anchor="middle" fill="#333" stroke="#333" transform="rotate(-90 582.6 485.6)">0.0</text>
<line x1="586.00" y1="468.96" x2="584.70" y2="468.96" stroke="#444" stroke-width="0.5"/>
<text x="582.60" y="468.96" font-size="6.3" text-anchor="middle" fill="#333" stroke="#333" transform="rotate(-90 582.6 468.96000000000004)">0.2</text>
<line x1="586.00" y1="452.32" x2="584.70" y2="452.32" stroke="#444" stroke-width="0.5"/>
<text x="582.60" y="452.32" font-size="6.3" text-anchor="middle" fill="#333" stroke="#333" transform="rotate(-90 582.6 452.32)">0.4</text>
<line x1="586.00" y1="435.68" x2="584.70" y2="435.68" stroke="#444" stroke-width="0.5"/>
<text x="582.60" y="435.68" font-size="6.3" text-anchor="middle" fill="#333" stroke="#333" transform="rotate(-90 582.6 435.68)">0.6</text>
<line x1="586.00" y1="419.04" x2="584.70" y2="419.04" stroke="#444" stroke-width="0.5"/>
<text x="582.60" y="419.04" font-size="6.3" text-anchor="middle" fill="#333" stroke="#333" transform="rotate(-90 582.6 419.03999999999996)">0.8</text>
<line x1="586.00" y1="402.40" x2="584.70" y2="402.40" stroke="#444" stroke-width="0.5"/>
<text x="582.60" y="402.40" font-size="6.3" text-anchor="middle" fill="#333" stroke="#333" transform="rotate(-90 582.6 402.4)">1.0</text>
<line x1="589.20" y1="487.30" x2="589.20" y2="488.60" stroke="#444" stroke-width="0.5"/>
<text x="589.20" y="498.67" font-size="6.3" text-anchor="middle" fill="#333" stroke="#333">0.0</text>
<line x1="605.64" y1="487.30" x2="605.64" y2="488.60" stroke="#444" stroke-width="0.5"/>
<text x="605.64" y="498.67" font-size="6.3" text-anchor="middle" fill="#333" stroke="#333">0.2</text>
<line x1="622.08" y1="487.30" x2="622.08" y2="488.60" stroke="#444" stroke-width="0.5"/>
<text x="622.08" y="498.67" font-size="6.3" text-anchor="middle" fill="#333" stroke="#333">0.4</text>
<line x1="638.52" y1="487.30" x2="638.52" y2="488.60" stroke="#444" stroke-width="0.5"/>
<text x="638.52" y="498.67" font-size="6.3" text-anchor="middle" fill="#333" stroke="#333">0.6</text>
<line x1="654.96" y1="487.30" x2="654.96" y2="488.60" stroke="#444" stroke-width="0.5"/>
<text x="654.96" y="498.67" font-size="6.3" text-anchor="middle" fill="#333" stroke="#333">0.8</text>
<line x1="671.40" y1="487.30" x2="671.40" y2="488.60" stroke="#444" stroke-width="0.5"/>
<text x="671.40" y="498.67" font-size="6.3" text-anchor="middle" fill="#333" stroke="#333">1.0</text>
<text x="571.00" y="445.00" font-size="6.3" text-anchor="middle" fill="#222" stroke="#222" transform="rotate(-90 571.0 445.0)">Sensitivity</text>
<text x="630.30" y="504.87" font-size="6.3" text-anchor="middle" fill="#222" stroke="#222">1-Specificity</text>
<text x="-0.60" y="521.30" font-size="13" font-weight="bold" fill="#000" stroke="#000">n</text>
<rect x="10.45" y="526.00" width="4.68" height="4.00" fill="#c3c3c3"/>
<rect x="15.63" y="526.00" width="4.68" height="4.00" fill="#c3c3c3"/>
<rect x="20.81" y="526.00" width="4.68" height="4.00" fill="#c3c3c3"/>
<rect x="25.99" y="526.00" width="4.68" height="4.00" fill="#c3c3c3"/>
<rect x="31.17" y="526.00" width="4.68" height="4.00" fill="#c3c3c3"/>
<rect x="36.34" y="526.00" width="4.68" height="4.00" fill="#c3c3c3"/>
<rect x="41.52" y="526.00" width="4.68" height="4.00" fill="#c3c3c3"/>
<rect x="46.70" y="526.00" width="4.68" height="4.00" fill="#c3c3c3"/>
<rect x="51.88" y="526.00" width="4.68" height="4.00" fill="#c3c3c3"/>
<rect x="57.06" y="526.00" width="4.68" height="4.00" fill="#c3c3c3"/>
<rect x="62.24" y="526.00" width="4.68" height="4.00" fill="#a3202b"/>
<rect x="67.42" y="526.00" width="4.68" height="4.00" fill="#a3202b"/>
<rect x="72.60" y="526.00" width="4.68" height="4.00" fill="#a3202b"/>
<rect x="77.78" y="526.00" width="4.68" height="4.00" fill="#a3202b"/>
<rect x="82.96" y="526.00" width="4.68" height="4.00" fill="#a3202b"/>
<rect x="88.13" y="526.00" width="4.68" height="4.00" fill="#a3202b"/>
<rect x="93.31" y="526.00" width="4.68" height="4.00" fill="#a3202b"/>
<rect x="98.49" y="526.00" width="4.68" height="4.00" fill="#a3202b"/>
<rect x="103.67" y="526.00" width="4.68" height="4.00" fill="#a3202b"/>
<rect x="10.20" y="530.60" width="5.23" height="6.93" fill="#d4deee"/>
<rect x="15.38" y="530.60" width="5.23" height="6.93" fill="#a9bedf"/>
<rect x="20.56" y="530.60" width="5.23" height="6.93" fill="#e4eaf3"/>
<rect x="25.74" y="530.60" width="5.23" height="6.93" fill="#f57b73"/>
<rect x="30.92" y="530.60" width="5.23" height="6.93" fill="#a0b8dc"/>
<rect x="36.09" y="530.60" width="5.23" height="6.93" fill="#f7dddd"/>
<rect x="41.27" y="530.60" width="5.23" height="6.93" fill="#e4eaf3"/>
<rect x="46.45" y="530.60" width="5.23" height="6.93" fill="#e4eaf3"/>
<rect x="51.63" y="530.60" width="5.23" height="6.93" fill="#bbcbe5"/>
<rect x="56.81" y="530.60" width="5.23" height="6.93" fill="#ccd8eb"/>
<rect x="61.99" y="530.60" width="5.23" height="6.93" fill="#f57b73"/>
<rect x="67.17" y="530.60" width="5.23" height="6.93" fill="#f57b73"/>
<rect x="72.35" y="530.60" width="5.23" height="6.93" fill="#e4eaf3"/>
<rect x="77.53" y="530.60" width="5.23" height="6.93" fill="#e4eaf3"/>
<rect x="82.71" y="530.60" width="5.23" height="6.93" fill="#f69994"/>
<rect x="87.88" y="530.60" width="5.23" height="6.93" fill="#f8f8fa"/>
<rect x="93.06" y="530.60" width="5.23" height="6.93" fill="#f57168"/>
<rect x="98.24" y="530.60" width="5.23" height="6.93" fill="#f57168"/>
<rect x="103.42" y="530.60" width="5.23" height="6.93" fill="#e4eaf3"/>
<rect x="10.20" y="537.48" width="5.23" height="6.93" fill="#ccd8eb"/>
<rect x="15.38" y="537.48" width="5.23" height="6.93" fill="#8daad5"/>
<rect x="20.56" y="537.48" width="5.23" height="6.93" fill="#ccd8eb"/>
<rect x="25.74" y="537.48" width="5.23" height="6.93" fill="#f57b73"/>
<rect x="30.92" y="537.48" width="5.23" height="6.93" fill="#dce4f1"/>
<rect x="36.09" y="537.48" width="5.23" height="6.93" fill="#f7b7b4"/>
<rect x="41.27" y="537.48" width="5.23" height="6.93" fill="#f8e7e7"/>
<rect x="46.45" y="537.48" width="5.23" height="6.93" fill="#f8f8fa"/>
<rect x="51.63" y="537.48" width="5.23" height="6.93" fill="#b2c5e2"/>
<rect x="56.81" y="537.48" width="5.23" height="6.93" fill="#ccd8eb"/>
<rect x="61.99" y="537.48" width="5.23" height="6.93" fill="#f6a39e"/>
<rect x="67.17" y="537.48" width="5.23" height="6.93" fill="#f6a39e"/>
<rect x="72.35" y="537.48" width="5.23" height="6.93" fill="#dce4f1"/>
<rect x="77.53" y="537.48" width="5.23" height="6.93" fill="#bbcbe5"/>
<rect x="82.71" y="537.48" width="5.23" height="6.93" fill="#f6a39e"/>
<rect x="87.88" y="537.48" width="5.23" height="6.93" fill="#f7c1be"/>
<rect x="93.06" y="537.48" width="5.23" height="6.93" fill="#f69994"/>
<rect x="98.24" y="537.48" width="5.23" height="6.93" fill="#f5675d"/>
<rect x="103.42" y="537.48" width="5.23" height="6.93" fill="#f7c1be"/>
<rect x="10.20" y="544.36" width="5.23" height="6.93" fill="#d4deee"/>
<rect x="15.38" y="544.36" width="5.23" height="6.93" fill="#d4deee"/>
<rect x="20.56" y="544.36" width="5.23" height="6.93" fill="#dce4f1"/>
<rect x="25.74" y="544.36" width="5.23" height="6.93" fill="#f6ada9"/>
<rect x="30.92" y="544.36" width="5.23" height="6.93" fill="#7a9ccf"/>
<rect x="36.09" y="544.36" width="5.23" height="6.93" fill="#f8f8fa"/>
<rect x="41.27" y="544.36" width="5.23" height="6.93" fill="#f6a39e"/>
<rect x="46.45" y="544.36" width="5.23" height="6.93" fill="#f8f8fa"/>
<rect x="51.63" y="544.36" width="5.23" height="6.93" fill="#b2c5e2"/>
<rect x="56.81" y="544.36" width="5.23" height="6.93" fill="#96b1d9"/>
<rect x="61.99" y="544.36" width="5.23" height="6.93" fill="#f57b73"/>
<rect x="67.17" y="544.36" width="5.23" height="6.93" fill="#f69994"/>
<rect x="72.35" y="544.36" width="5.23" height="6.93" fill="#eceff6"/>
<rect x="77.53" y="544.36" width="5.23" height="6.93" fill="#f7d4d3"/>
<rect x="82.71" y="544.36" width="5.23" height="6.93" fill="#f6a39e"/>
<rect x="87.88" y="544.36" width="5.23" height="6.93" fill="#d4deee"/>
<rect x="93.06" y="544.36" width="5.23" height="6.93" fill="#f6857e"/>
<rect x="98.24" y="544.36" width="5.23" height="6.93" fill="#f6ada9"/>
<rect x="103.42" y="544.36" width="5.23" height="6.93" fill="#f7cac9"/>
<rect x="10.20" y="551.24" width="5.23" height="6.93" fill="#f8f8fa"/>
<rect x="15.38" y="551.24" width="5.23" height="6.93" fill="#dce4f1"/>
<rect x="20.56" y="551.24" width="5.23" height="6.93" fill="#f2f4f8"/>
<rect x="25.74" y="551.24" width="5.23" height="6.93" fill="#f7b7b4"/>
<rect x="30.92" y="551.24" width="5.23" height="6.93" fill="#a9bedf"/>
<rect x="36.09" y="551.24" width="5.23" height="6.93" fill="#f7c1be"/>
<rect x="41.27" y="551.24" width="5.23" height="6.93" fill="#f8f8fa"/>
<rect x="46.45" y="551.24" width="5.23" height="6.93" fill="#f7cac9"/>
<rect x="51.63" y="551.24" width="5.23" height="6.93" fill="#a0b8dc"/>
<rect x="56.81" y="551.24" width="5.23" height="6.93" fill="#8daad5"/>
<rect x="61.99" y="551.24" width="5.23" height="6.93" fill="#f69994"/>
<rect x="67.17" y="551.24" width="5.23" height="6.93" fill="#f6ada9"/>
<rect x="72.35" y="551.24" width="5.23" height="6.93" fill="#c3d2e8"/>
<rect x="77.53" y="551.24" width="5.23" height="6.93" fill="#e4eaf3"/>
<rect x="82.71" y="551.24" width="5.23" height="6.93" fill="#f69994"/>
<rect x="87.88" y="551.24" width="5.23" height="6.93" fill="#f7c1be"/>
<rect x="93.06" y="551.24" width="5.23" height="6.93" fill="#f6a39e"/>
<rect x="98.24" y="551.24" width="5.23" height="6.93" fill="#f6a39e"/>
<rect x="103.42" y="551.24" width="5.23" height="6.93" fill="#f7b7b4"/>
<rect x="10.20" y="558.12" width="5.23" height="6.93" fill="#eceff6"/>
<rect x="15.38" y="558.12" width="5.23" height="6.93" fill="#d4deee"/>
<rect x="20.56" y="558.12" width="5.23" height="6.93" fill="#e4eaf3"/>
<rect x="25.74" y="558.12" width="5.23" height="6.93" fill="#f6a39e"/>
<rect x="30.92" y="558.12" width="5.23" height="6.93" fill="#b2c5e2"/>
<rect x="36.09" y="558.12" width="5.23" height="6.93" fill="#f7c1be"/>
<rect x="41.27" y="558.12" width="5.23" height="6.93" fill="#f8e7e7"/>
<rect x="46.45" y="558.12" width="5.23" height="6.93" fill="#f7cac9"/>
<rect x="51.63" y="558.12" width="5.23" height="6.93" fill="#a9bedf"/>
<rect x="56.81" y="558.12" width="5.23" height="6.93" fill="#668ec8"/>
<rect x="61.99" y="558.12" width="5.23" height="6.93" fill="#f7cac9"/>
<rect x="67.17" y="558.12" width="5.23" height="6.93" fill="#f6ada9"/>
<rect x="72.35" y="558.12" width="5.23" height="6.93" fill="#dce4f1"/>
<rect x="77.53" y="558.12" width="5.23" height="6.93" fill="#e4eaf3"/>
<rect x="82.71" y="558.12" width="5.23" height="6.93" fill="#f7b7b4"/>
<rect x="87.88" y="558.12" width="5.23" height="6.93" fill="#f7cac9"/>
<rect x="93.06" y="558.12" width="5.23" height="6.93" fill="#f6ada9"/>
<rect x="98.24" y="558.12" width="5.23" height="6.93" fill="#f6a39e"/>
<rect x="103.42" y="558.12" width="5.23" height="6.93" fill="#f7c1be"/>
<rect x="10.20" y="565.00" width="5.23" height="6.93" fill="#d4deee"/>
<rect x="15.38" y="565.00" width="5.23" height="6.93" fill="#d4deee"/>
<rect x="20.56" y="565.00" width="5.23" height="6.93" fill="#bbcbe5"/>
<rect x="25.74" y="565.00" width="5.23" height="6.93" fill="#f7c1be"/>
<rect x="30.92" y="565.00" width="5.23" height="6.93" fill="#bbcbe5"/>
<rect x="36.09" y="565.00" width="5.23" height="6.93" fill="#f7c1be"/>
<rect x="41.27" y="565.00" width="5.23" height="6.93" fill="#f7b7b4"/>
<rect x="46.45" y="565.00" width="5.23" height="6.93" fill="#f6ada9"/>
<rect x="51.63" y="565.00" width="5.23" height="6.93" fill="#a0b8dc"/>
<rect x="56.81" y="565.00" width="5.23" height="6.93" fill="#a0b8dc"/>
<rect x="61.99" y="565.00" width="5.23" height="6.93" fill="#f57b73"/>
<rect x="67.17" y="565.00" width="5.23" height="6.93" fill="#f7b7b4"/>
<rect x="72.35" y="565.00" width="5.23" height="6.93" fill="#e4eaf3"/>
<rect x="77.53" y="565.00" width="5.23" height="6.93" fill="#eceff6"/>
<rect x="82.71" y="565.00" width="5.23" height="6.93" fill="#f7c1be"/>
<rect x="87.88" y="565.00" width="5.23" height="6.93" fill="#f7c1be"/>
<rect x="93.06" y="565.00" width="5.23" height="6.93" fill="#f6ada9"/>
<rect x="98.24" y="565.00" width="5.23" height="6.93" fill="#f69994"/>
<rect x="103.42" y="565.00" width="5.23" height="6.93" fill="#f7dddd"/>
<rect x="10.20" y="571.88" width="5.23" height="6.93" fill="#eceff6"/>
<rect x="15.38" y="571.88" width="5.23" height="6.93" fill="#ccd8eb"/>
<rect x="20.56" y="571.88" width="5.23" height="6.93" fill="#ccd8eb"/>
<rect x="25.74" y="571.88" width="5.23" height="6.93" fill="#f69994"/>
<rect x="30.92" y="571.88" width="5.23" height="6.93" fill="#7a9ccf"/>
<rect x="36.09" y="571.88" width="5.23" height="6.93" fill="#f7d4d3"/>
<rect x="41.27" y="571.88" width="5.23" height="6.93" fill="#f7d4d3"/>
<rect x="46.45" y="571.88" width="5.23" height="6.93" fill="#f7dddd"/>
<rect x="51.63" y="571.88" width="5.23" height="6.93" fill="#bbcbe5"/>
<rect x="56.81" y="571.88" width="5.23" height="6.93" fill="#bbcbe5"/>
<rect x="61.99" y="571.88" width="5.23" height="6.93" fill="#f6a39e"/>
<rect x="67.17" y="571.88" width="5.23" height="6.93" fill="#f6a39e"/>
<rect x="72.35" y="571.88" width="5.23" height="6.93" fill="#dce4f1"/>
<rect x="77.53" y="571.88" width="5.23" height="6.93" fill="#dce4f1"/>
<rect x="82.71" y="571.88" width="5.23" height="6.93" fill="#f6a39e"/>
<rect x="87.88" y="571.88" width="5.23" height="6.93" fill="#f7d4d3"/>
<rect x="93.06" y="571.88" width="5.23" height="6.93" fill="#f68f89"/>
<rect x="98.24" y="571.88" width="5.23" height="6.93" fill="#f68f89"/>
<rect x="103.42" y="571.88" width="5.23" height="6.93" fill="#f7c1be"/>
<rect x="10.20" y="578.76" width="5.23" height="6.93" fill="#f69994"/>
<rect x="15.38" y="578.76" width="5.23" height="6.93" fill="#f7d4d3"/>
<rect x="20.56" y="578.76" width="5.23" height="6.93" fill="#f8f8fa"/>
<rect x="25.74" y="578.76" width="5.23" height="6.93" fill="#f2f4f8"/>
<rect x="30.92" y="578.76" width="5.23" height="6.93" fill="#f5675d"/>
<rect x="36.09" y="578.76" width="5.23" height="6.93" fill="#dce4f1"/>
<rect x="41.27" y="578.76" width="5.23" height="6.93" fill="#c3d2e8"/>
<rect x="46.45" y="578.76" width="5.23" height="6.93" fill="#f7d4d3"/>
<rect x="51.63" y="578.76" width="5.23" height="6.93" fill="#f6a39e"/>
<rect x="56.81" y="578.76" width="5.23" height="6.93" fill="#f43426"/>
<rect x="61.99" y="578.76" width="5.23" height="6.93" fill="#dce4f1"/>
<rect x="67.17" y="578.76" width="5.23" height="6.93" fill="#ccd8eb"/>
<rect x="72.35" y="578.76" width="5.23" height="6.93" fill="#f7dddd"/>
<rect x="77.53" y="578.76" width="5.23" height="6.93" fill="#f7b7b4"/>
<rect x="82.71" y="578.76" width="5.23" height="6.93" fill="#bbcbe5"/>
<rect x="87.88" y="578.76" width="5.23" height="6.93" fill="#e4eaf3"/>
<rect x="93.06" y="578.76" width="5.23" height="6.93" fill="#d4deee"/>
<rect x="98.24" y="578.76" width="5.23" height="6.93" fill="#ccd8eb"/>
<rect x="103.42" y="578.76" width="5.23" height="6.93" fill="#d4deee"/>
<rect x="10.20" y="585.64" width="5.23" height="6.93" fill="#f6a39e"/>
<rect x="15.38" y="585.64" width="5.23" height="6.93" fill="#f6857e"/>
<rect x="20.56" y="585.64" width="5.23" height="6.93" fill="#f7cac9"/>
<rect x="25.74" y="585.64" width="5.23" height="6.93" fill="#ccd8eb"/>
<rect x="30.92" y="585.64" width="5.23" height="6.93" fill="#f6857e"/>
<rect x="36.09" y="585.64" width="5.23" height="6.93" fill="#dce4f1"/>
<rect x="41.27" y="585.64" width="5.23" height="6.93" fill="#ccd8eb"/>
<rect x="46.45" y="585.64" width="5.23" height="6.93" fill="#f6a39e"/>
<rect x="51.63" y="585.64" width="5.23" height="6.93" fill="#f5675d"/>
<rect x="56.81" y="585.64" width="5.23" height="6.93" fill="#f5675d"/>
<rect x="61.99" y="585.64" width="5.23" height="6.93" fill="#f2f4f8"/>
<rect x="67.17" y="585.64" width="5.23" height="6.93" fill="#dce4f1"/>
<rect x="72.35" y="585.64" width="5.23" height="6.93" fill="#dce4f1"/>
<rect x="77.53" y="585.64" width="5.23" height="6.93" fill="#f6ada9"/>
<rect x="82.71" y="585.64" width="5.23" height="6.93" fill="#ccd8eb"/>
<rect x="87.88" y="585.64" width="5.23" height="6.93" fill="#eceff6"/>
<rect x="93.06" y="585.64" width="5.23" height="6.93" fill="#c3d2e8"/>
<rect x="98.24" y="585.64" width="5.23" height="6.93" fill="#ccd8eb"/>
<rect x="103.42" y="585.64" width="5.23" height="6.93" fill="#dce4f1"/>
<rect x="10.20" y="592.52" width="5.23" height="6.93" fill="#f8e7e7"/>
<rect x="15.38" y="592.52" width="5.23" height="6.93" fill="#f55d52"/>
<rect x="20.56" y="592.52" width="5.23" height="6.93" fill="#f7c1be"/>
<rect x="25.74" y="592.52" width="5.23" height="6.93" fill="#ccd8eb"/>
<rect x="30.92" y="592.52" width="5.23" height="6.93" fill="#f69994"/>
<rect x="36.09" y="592.52" width="5.23" height="6.93" fill="#eceff6"/>
<rect x="41.27" y="592.52" width="5.23" height="6.93" fill="#bbcbe5"/>
<rect x="46.45" y="592.52" width="5.23" height="6.93" fill="#f8e7e7"/>
<rect x="51.63" y="592.52" width="5.23" height="6.93" fill="#f55d52"/>
<rect x="56.81" y="592.52" width="5.23" height="6.93" fill="#f57b73"/>
<rect x="61.99" y="592.52" width="5.23" height="6.93" fill="#d4deee"/>
<rect x="67.17" y="592.52" width="5.23" height="6.93" fill="#d4deee"/>
<rect x="72.35" y="592.52" width="5.23" height="6.93" fill="#c3d2e8"/>
<rect x="77.53" y="592.52" width="5.23" height="6.93" fill="#f6857e"/>
<rect x="82.71" y="592.52" width="5.23" height="6.93" fill="#eceff6"/>
<rect x="87.88" y="592.52" width="5.23" height="6.93" fill="#f8e7e7"/>
<rect x="93.06" y="592.52" width="5.23" height="6.93" fill="#ccd8eb"/>
<rect x="98.24" y="592.52" width="5.23" height="6.93" fill="#b2c5e2"/>
<rect x="103.42" y="592.52" width="5.23" height="6.93" fill="#eceff6"/>
<rect x="10.20" y="599.40" width="5.23" height="6.93" fill="#e4eaf3"/>
<rect x="15.38" y="599.40" width="5.23" height="6.93" fill="#f55347"/>
<rect x="20.56" y="599.40" width="5.23" height="6.93" fill="#f7cac9"/>
<rect x="25.74" y="599.40" width="5.23" height="6.93" fill="#e4eaf3"/>
<rect x="30.92" y="599.40" width="5.23" height="6.93" fill="#f4493c"/>
<rect x="36.09" y="599.40" width="5.23" height="6.93" fill="#f8f8fa"/>
<rect x="41.27" y="599.40" width="5.23" height="6.93" fill="#e4eaf3"/>
<rect x="46.45" y="599.40" width="5.23" height="6.93" fill="#f7c1be"/>
<rect x="51.63" y="599.40" width="5.23" height="6.93" fill="#f57168"/>
<rect x="56.81" y="599.40" width="5.23" height="6.93" fill="#f57b73"/>
<rect x="61.99" y="599.40" width="5.23" height="6.93" fill="#f7dddd"/>
<rect x="67.17" y="599.40" width="5.23" height="6.93" fill="#eceff6"/>
<rect x="72.35" y="599.40" width="5.23" height="6.93" fill="#f7d4d3"/>
<rect x="77.53" y="599.40" width="5.23" height="6.93" fill="#f8f8fa"/>
<rect x="82.71" y="599.40" width="5.23" height="6.93" fill="#a9bedf"/>
<rect x="87.88" y="599.40" width="5.23" height="6.93" fill="#f2f4f8"/>
<rect x="93.06" y="599.40" width="5.23" height="6.93" fill="#a0b8dc"/>
<rect x="98.24" y="599.40" width="5.23" height="6.93" fill="#ccd8eb"/>
<rect x="103.42" y="599.40" width="5.23" height="6.93" fill="#b2c5e2"/>
<rect x="10.20" y="606.28" width="5.23" height="6.93" fill="#f8e7e7"/>
<rect x="15.38" y="606.28" width="5.23" height="6.93" fill="#f57b73"/>
<rect x="20.56" y="606.28" width="5.23" height="6.93" fill="#f6ada9"/>
<rect x="25.74" y="606.28" width="5.23" height="6.93" fill="#c3d2e8"/>
<rect x="30.92" y="606.28" width="5.23" height="6.93" fill="#f6857e"/>
<rect x="36.09" y="606.28" width="5.23" height="6.93" fill="#d4deee"/>
<rect x="41.27" y="606.28" width="5.23" height="6.93" fill="#f8f0f1"/>
<rect x="46.45" y="606.28" width="5.23" height="6.93" fill="#f8f8fa"/>
<rect x="51.63" y="606.28" width="5.23" height="6.93" fill="#f57b73"/>
<rect x="56.81" y="606.28" width="5.23" height="6.93" fill="#f57168"/>
<rect x="61.99" y="606.28" width="5.23" height="6.93" fill="#b2c5e2"/>
<rect x="67.17" y="606.28" width="5.23" height="6.93" fill="#ccd8eb"/>
<rect x="72.35" y="606.28" width="5.23" height="6.93" fill="#f7cac9"/>
<rect x="77.53" y="606.28" width="5.23" height="6.93" fill="#f7c1be"/>
<rect x="82.71" y="606.28" width="5.23" height="6.93" fill="#a9bedf"/>
<rect x="87.88" y="606.28" width="5.23" height="6.93" fill="#f7c1be"/>
<rect x="93.06" y="606.28" width="5.23" height="6.93" fill="#c3d2e8"/>
<rect x="98.24" y="606.28" width="5.23" height="6.93" fill="#bbcbe5"/>
<rect x="103.42" y="606.28" width="5.23" height="6.93" fill="#f8f0f1"/>
<rect x="10.20" y="613.16" width="5.23" height="6.93" fill="#f4493c"/>
<rect x="15.38" y="613.16" width="5.23" height="6.93" fill="#d4deee"/>
<rect x="20.56" y="613.16" width="5.23" height="6.93" fill="#f6ada9"/>
<rect x="25.74" y="613.16" width="5.23" height="6.93" fill="#f8f8fa"/>
<rect x="30.92" y="613.16" width="5.23" height="6.93" fill="#f7b7b4"/>
<rect x="36.09" y="613.16" width="5.23" height="6.93" fill="#f69994"/>
<rect x="41.27" y="613.16" width="5.23" height="6.93" fill="#f7b7b4"/>
<rect x="46.45" y="613.16" width="5.23" height="6.93" fill="#eceff6"/>
<rect x="51.63" y="613.16" width="5.23" height="6.93" fill="#f7c1be"/>
<rect x="56.81" y="613.16" width="5.23" height="6.93" fill="#f57b73"/>
<rect x="61.99" y="613.16" width="5.23" height="6.93" fill="#dce4f1"/>
<rect x="67.17" y="613.16" width="5.23" height="6.93" fill="#d4deee"/>
<rect x="72.35" y="613.16" width="5.23" height="6.93" fill="#ccd8eb"/>
<rect x="77.53" y="613.16" width="5.23" height="6.93" fill="#f7cac9"/>
<rect x="82.71" y="613.16" width="5.23" height="6.93" fill="#b2c5e2"/>
<rect x="87.88" y="613.16" width="5.23" height="6.93" fill="#f7dddd"/>
<rect x="93.06" y="613.16" width="5.23" height="6.93" fill="#c3d2e8"/>
<rect x="98.24" y="613.16" width="5.23" height="6.93" fill="#ccd8eb"/>
<rect x="103.42" y="613.16" width="5.23" height="6.93" fill="#c3d2e8"/>
<rect x="10.20" y="620.04" width="5.23" height="6.93" fill="#f7cac9"/>
<rect x="15.38" y="620.04" width="5.23" height="6.93" fill="#f8f0f1"/>
<rect x="20.56" y="620.04" width="5.23" height="6.93" fill="#f7cac9"/>
<rect x="25.74" y="620.04" width="5.23" height="6.93" fill="#dce4f1"/>
<rect x="30.92" y="620.04" width="5.23" height="6.93" fill="#f6a39e"/>
<rect x="36.09" y="620.04" width="5.23" height="6.93" fill="#eceff6"/>
<rect x="41.27" y="620.04" width="5.23" height="6.93" fill="#f7c1be"/>
<rect x="46.45" y="620.04" width="5.23" height="6.93" fill="#dce4f1"/>
<rect x="51.63" y="620.04" width="5.23" height="6.93" fill="#f57b73"/>
<rect x="56.81" y="620.04" width="5.23" height="6.93" fill="#f5675d"/>
<rect x="61.99" y="620.04" width="5.23" height="6.93" fill="#c3d2e8"/>
<rect x="67.17" y="620.04" width="5.23" height="6.93" fill="#e4eaf3"/>
<rect x="72.35" y="620.04" width="5.23" height="6.93" fill="#d4deee"/>
<rect x="77.53" y="620.04" width="5.23" height="6.93" fill="#f43426"/>
<rect x="82.71" y="620.04" width="5.23" height="6.93" fill="#eceff6"/>
<rect x="87.88" y="620.04" width="5.23" height="6.93" fill="#e4eaf3"/>
<rect x="93.06" y="620.04" width="5.23" height="6.93" fill="#ccd8eb"/>
<rect x="98.24" y="620.04" width="5.23" height="6.93" fill="#f2f4f8"/>
<rect x="103.42" y="620.04" width="5.23" height="6.93" fill="#a0b8dc"/>
<line x1="10.20" y1="537.48" x2="108.60" y2="537.48" stroke="#ffffff" stroke-width="0.35" opacity="0.6"/>
<line x1="10.20" y1="544.36" x2="108.60" y2="544.36" stroke="#ffffff" stroke-width="0.35" opacity="0.6"/>
<line x1="10.20" y1="551.24" x2="108.60" y2="551.24" stroke="#ffffff" stroke-width="0.35" opacity="0.6"/>
<line x1="10.20" y1="558.12" x2="108.60" y2="558.12" stroke="#ffffff" stroke-width="0.35" opacity="0.6"/>
<line x1="10.20" y1="565.00" x2="108.60" y2="565.00" stroke="#ffffff" stroke-width="0.35" opacity="0.6"/>
<line x1="10.20" y1="571.88" x2="108.60" y2="571.88" stroke="#ffffff" stroke-width="0.35" opacity="0.6"/>
<line x1="10.20" y1="578.76" x2="108.60" y2="578.76" stroke="#ffffff" stroke-width="0.35" opacity="0.6"/>
<line x1="10.20" y1="585.64" x2="108.60" y2="585.64" stroke="#ffffff" stroke-width="0.35" opacity="0.6"/>
<line x1="10.20" y1="592.52" x2="108.60" y2="592.52" stroke="#ffffff" stroke-width="0.35" opacity="0.6"/>
<line x1="10.20" y1="599.40" x2="108.60" y2="599.40" stroke="#ffffff" stroke-width="0.35" opacity="0.6"/>
<line x1="10.20" y1="606.28" x2="108.60" y2="606.28" stroke="#ffffff" stroke-width="0.35" opacity="0.6"/>
<line x1="10.20" y1="613.16" x2="108.60" y2="613.16" stroke="#ffffff" stroke-width="0.35" opacity="0.6"/>
<line x1="10.20" y1="620.04" x2="108.60" y2="620.04" stroke="#ffffff" stroke-width="0.35" opacity="0.6"/>
<line x1="15.38" y1="530.60" x2="15.38" y2="626.92" stroke="#ffffff" stroke-width="0.35" opacity="0.6"/>
<line x1="20.56" y1="530.60" x2="20.56" y2="626.92" stroke="#ffffff" stroke-width="0.35" opacity="0.6"/>
<line x1="25.74" y1="530.60" x2="25.74" y2="626.92" stroke="#ffffff" stroke-width="0.35" opacity="0.6"/>
<line x1="30.92" y1="530.60" x2="30.92" y2="626.92" stroke="#ffffff" stroke-width="0.35" opacity="0.6"/>
<line x1="36.09" y1="530.60" x2="36.09" y2="626.92" stroke="#ffffff" stroke-width="0.35" opacity="0.6"/>
<line x1="41.27" y1="530.60" x2="41.27" y2="626.92" stroke="#ffffff" stroke-width="0.35" opacity="0.6"/>
<line x1="46.45" y1="530.60" x2="46.45" y2="626.92" stroke="#ffffff" stroke-width="0.35" opacity="0.6"/>
<line x1="51.63" y1="530.60" x2="51.63" y2="626.92" stroke="#ffffff" stroke-width="0.35" opacity="0.6"/>
<line x1="56.81" y1="530.60" x2="56.81" y2="626.92" stroke="#ffffff" stroke-width="0.35" opacity="0.6"/>
<line x1="61.99" y1="530.60" x2="61.99" y2="626.92" stroke="#ffffff" stroke-width="0.35" opacity="0.6"/>
<line x1="67.17" y1="530.60" x2="67.17" y2="626.92" stroke="#ffffff" stroke-width="0.35" opacity="0.6"/>
<line x1="72.35" y1="530.60" x2="72.35" y2="626.92" stroke="#ffffff" stroke-width="0.35" opacity="0.6"/>
<line x1="77.53" y1="530.60" x2="77.53" y2="626.92" stroke="#ffffff" stroke-width="0.35" opacity="0.6"/>
<line x1="82.71" y1="530.60" x2="82.71" y2="626.92" stroke="#ffffff" stroke-width="0.35" opacity="0.6"/>
<line x1="87.88" y1="530.60" x2="87.88" y2="626.92" stroke="#ffffff" stroke-width="0.35" opacity="0.6"/>
<line x1="93.06" y1="530.60" x2="93.06" y2="626.92" stroke="#ffffff" stroke-width="0.35" opacity="0.6"/>
<line x1="98.24" y1="530.60" x2="98.24" y2="626.92" stroke="#ffffff" stroke-width="0.35" opacity="0.6"/>
<line x1="103.42" y1="530.60" x2="103.42" y2="626.92" stroke="#ffffff" stroke-width="0.35" opacity="0.6"/>
<text x="111.00" y="536.27" font-size="6.2" stroke="#111">PTPN3</text>
<text x="111.00" y="543.15" font-size="6.2" stroke="#111">KIF4A</text>
<text x="111.00" y="550.03" font-size="6.2" stroke="#111">IDO1</text>
<text x="111.00" y="556.91" font-size="6.2" stroke="#111">APOD</text>
<text x="111.00" y="563.79" font-size="6.2" stroke="#111">IFNG</text>
<text x="111.00" y="570.67" font-size="6.2" stroke="#111">CCL1</text>
<text x="111.00" y="577.55" font-size="6.2" stroke="#111">KIF14</text>
<text x="111.00" y="584.43" font-size="6.2" stroke="#111">NRCAM</text>
<text x="111.00" y="591.31" font-size="6.2" stroke="#111">RNASE1</text>
<text x="111.00" y="598.19" font-size="6.2" stroke="#111">TNFRSF21</text>
<text x="111.00" y="605.07" font-size="6.2" stroke="#111">TCN1</text>
<text x="111.00" y="611.95" font-size="6.2" stroke="#111">CD180</text>
<text x="111.00" y="618.83" font-size="6.2" stroke="#111">ADGRE1</text>
<text x="111.00" y="625.71" font-size="6.2" stroke="#111">REG4</text>
<text x="139.40" y="529.60" font-size="6.2" stroke="#111">z-score</text>
<defs><linearGradient id="gn" x1="0" y1="0" x2="0" y2="1"><stop offset="0" stop-color="#f2291c"/><stop offset="0.5" stop-color="#fafafa"/><stop offset="1" stop-color="#3f76bd"/></linearGradient></defs>
<rect x="141.10" y="533.80" width="2.60" height="32.70" fill="url(#gn)"/>
<text x="147.20" y="537.96" font-size="6.0" stroke="#111">2</text>
<text x="147.20" y="544.86" font-size="6.0" stroke="#111">1</text>
<text x="147.20" y="552.26" font-size="6.0" stroke="#111">0</text>
<text x="147.20" y="559.66" font-size="6.0" stroke="#111">-1</text>
<text x="147.20" y="567.16" font-size="6.0" stroke="#111">-2</text>
<text x="136.80" y="573.76" font-size="6.0" stroke="#111">Group</text>
<rect x="139.40" y="576.40" width="6.60" height="4.80" fill="#c3c3c3"/>
<text x="148.90" y="580.96" font-size="6.0" stroke="#111">Cured</text>
<rect x="139.40" y="584.00" width="6.60" height="4.80" fill="#a3202b"/>
<text x="148.90" y="588.36" font-size="6.0" stroke="#111">Recurrence</text>
<text x="186.60" y="521.40" font-size="13" font-weight="bold" fill="#000" stroke="#000">o</text>
<text x="367.00" y="521.80" font-size="6.3" text-anchor="middle" stroke="#111">GO UP (Recurrence group)</text>
<rect x="337.60" y="524.60" width="68.30" height="100.80" fill="#ffffff" stroke="#9a9a9a" stroke-width="0.6"/>
<text x="333.40" y="533.16" font-size="6.0" text-anchor="end" stroke="#111">Negative regulation of immune system process</text>
<rect x="339.30" y="527.20" width="63.00" height="7.60" fill="#e44a35"/>
<text x="333.40" y="543.02" font-size="6.0" text-anchor="end" stroke="#111">Negative regulation of leukocyte activation</text>
<rect x="339.30" y="537.06" width="35.00" height="7.60" fill="#e44a35"/>
<text x="333.40" y="552.88" font-size="6.0" text-anchor="end" stroke="#111">Negative regulation of lymphocyte activation</text>
<rect x="339.30" y="546.92" width="31.50" height="7.60" fill="#e44a35"/>
<text x="333.40" y="562.74" font-size="6.0" text-anchor="end" stroke="#111">Negative regulation of T cell activation</text>
<rect x="339.30" y="556.78" width="28.00" height="7.60" fill="#e44a35"/>
<text x="333.40" y="572.60" font-size="6.0" text-anchor="end" stroke="#111">Negative regulation of immune effector process</text>
<rect x="339.30" y="566.64" width="24.50" height="7.60" fill="#e44a35"/>
<text x="333.40" y="582.46" font-size="6.0" text-anchor="end" stroke="#111">Negative regulation of leukocyte mediated immunity</text>
<rect x="339.30" y="576.50" width="21.00" height="7.60" fill="#e44a35"/>
<text x="333.40" y="592.32" font-size="6.0" text-anchor="end" stroke="#111">Negative regulation of lymphocyte mediated immunity</text>
<rect x="339.30" y="586.36" width="17.50" height="7.60" fill="#e44a35"/>
<text x="333.40" y="602.18" font-size="6.0" text-anchor="end" stroke="#111">Negative regulation of T cell mediated immunity</text>
<rect x="339.30" y="596.22" width="14.00" height="7.60" fill="#e44a35"/>
<text x="333.40" y="612.04" font-size="6.0" text-anchor="end" stroke="#111">Negative regulation of cytokine production</text>
<rect x="339.30" y="606.08" width="14.00" height="7.60" fill="#e44a35"/>
<text x="333.40" y="621.90" font-size="6.0" text-anchor="end" stroke="#111">Negative regulation of T cell cytokine production</text>
<rect x="339.30" y="615.94" width="10.50" height="7.60" fill="#e44a35"/>
<line x1="339.80" y1="625.40" x2="339.80" y2="626.80" stroke="#444" stroke-width="0.5"/>
<text x="339.80" y="634.27" font-size="6.3" text-anchor="middle" fill="#333" stroke="#333">0</text>
<line x1="356.90" y1="625.40" x2="356.90" y2="626.80" stroke="#444" stroke-width="0.5"/>
<text x="356.90" y="634.27" font-size="6.3" text-anchor="middle" fill="#333" stroke="#333">5</text>
<line x1="374.80" y1="625.40" x2="374.80" y2="626.80" stroke="#444" stroke-width="0.5"/>
<text x="374.80" y="634.27" font-size="6.3" text-anchor="middle" fill="#333" stroke="#333">10</text>
<line x1="392.00" y1="625.40" x2="392.00" y2="626.80" stroke="#444" stroke-width="0.5"/>
<text x="392.00" y="634.27" font-size="6.3" text-anchor="middle" fill="#333" stroke="#333">15</text>
<text x="371.30" y="639.60" font-size="6.4" text-anchor="middle" fill="#222" stroke="#222">Count</text>
<text x="390.00" y="615.20" font-size="5.0" stroke="#111">Type</text>
<rect x="390.40" y="617.70" width="5.30" height="6.10" fill="#e44a35"/>
<text x="397.80" y="622.31" font-size="4.2" stroke="#111">BP</text>
<text x="417.20" y="523.00" font-size="13" font-weight="bold" fill="#000" stroke="#000">p</text>
<ellipse cx="498.6" cy="570.6" rx="45.3" ry="34.6" transform="rotate(55 498.6 570.6)" fill="#f9c9cc" fill-opacity="0.55" stroke="#e5555c" stroke-width="0.6"/>
<ellipse cx="481.8" cy="574.4" rx="33.2" ry="26.6" transform="rotate(-34.7 481.8 574.4)" fill="#c5c6f2" fill-opacity="0.5" stroke="#5a5ee0" stroke-width="0.6"/>
<line x1="490.60" y1="525.00" x2="490.60" y2="618.00" stroke="#333" stroke-width="0.5" stroke-dasharray="1,1"/>
<line x1="446.00" y1="572.50" x2="540.00" y2="572.50" stroke="#333" stroke-width="0.5" stroke-dasharray="1,1"/>
<text x="443.60" y="527.47" font-size="6.3" text-anchor="end" fill="#333" stroke="#333">6</text>
<line x1="444.60" y1="525.20" x2="446.00" y2="525.20" stroke="#999" stroke-width="0.4"/>
<text x="443.60" y="551.27" font-size="6.3" text-anchor="end" fill="#333" stroke="#333">3</text>
<line x1="444.60" y1="549.00" x2="446.00" y2="549.00" stroke="#999" stroke-width="0.4"/>
<text x="443.60" y="574.77" font-size="6.3" text-anchor="end" fill="#333" stroke="#333">0</text>
<line x1="444.60" y1="572.50" x2="446.00" y2="572.50" stroke="#999" stroke-width="0.4"/>
<text x="443.60" y="598.17" font-size="6.3" text-anchor="end" fill="#333" stroke="#333">-3</text>
<line x1="444.60" y1="595.90" x2="446.00" y2="595.90" stroke="#999" stroke-width="0.4"/>
<text x="443.60" y="620.27" font-size="6.3" text-anchor="end" fill="#333" stroke="#333">-6</text>
<line x1="444.60" y1="618.00" x2="446.00" y2="618.00" stroke="#999" stroke-width="0.4"/>
<text x="463.20" y="626.17" font-size="6.3" text-anchor="middle" fill="#333" stroke="#333">-10</text>
<text x="490.60" y="626.17" font-size="6.3" text-anchor="middle" fill="#333" stroke="#333">0</text>
<text x="517.60" y="626.17" font-size="6.3" text-anchor="middle" fill="#333" stroke="#333">10</text>
<text x="490.40" y="634.07" font-size="6.3" text-anchor="middle" fill="#222" stroke="#222">Dim1 (70.1%)</text>
<text x="426.00" y="570.90" font-size="6.3" text-anchor="middle" fill="#222" stroke="#222" transform="rotate(-90 426.0 570.9)">Individuals-PCA</text>
<text x="434.50" y="571.40" font-size="6.3" text-anchor="middle" fill="#222" stroke="#222" transform="rotate(-90 434.5 571.4)">Dim2 (8.1%)</text>
<circle cx="484.50" cy="539.80" r="0.60" fill="#e83038"/>
<circle cx="477.60" cy="565.20" r="0.50" fill="#e83038"/>
<circle cx="483.50" cy="570.50" r="0.50" fill="#e83038"/>
<circle cx="497.70" cy="570.50" r="1.00" fill="#e83038"/>
<circle cx="500.30" cy="570.50" r="0.60" fill="#e83038"/>
<circle cx="497.70" cy="575.40" r="0.50" fill="#e83038"/>
<circle cx="515.60" cy="562.40" r="0.60" fill="#e83038"/>
<circle cx="509.90" cy="573.60" r="0.50" fill="#e83038"/>
<circle cx="506.00" cy="587.60" r="0.50" fill="#e83038"/>
<circle cx="493.20" cy="592.80" r="0.60" fill="#e83038"/>
<polygon points="490.6,557.2 489.8,558.7 491.4,558.7" fill="#3b40d8"/>
<polygon points="476.0,568.6 475.2,570.1 476.8,570.1" fill="#3b40d8"/>
<polygon points="471.9,570.6 471.1,572.1 472.7,572.1" fill="#3b40d8"/>
<polygon points="470.3,573.3 469.5,574.8 471.1,574.8" fill="#3b40d8"/>
<polygon points="479.6,572.7 478.8,574.2 480.4,574.2" fill="#3b40d8"/>
<polygon points="477.4,576.7 476.6,578.2 478.2,578.2" fill="#3b40d8"/>
<polygon points="490.6,570.6 489.8,572.1 491.4,572.1" fill="#3b40d8"/>
<polygon points="501.8,578.1 501.0,579.6 502.6,579.6" fill="#3b40d8"/>
<polygon points="512.5,568.6 511.7,570.1 513.3,570.1" fill="#3b40d8"/>
<polygon points="476.0,594.0 475.2,595.5 476.8,595.5" fill="#3b40d8"/>
<polygon points="481.5,573.2 480.1,575.6 482.9,575.6" fill="#2a2fcf"/>
<text x="524.60" y="618.00" font-size="6.3" stroke="#111">Group</text>
<rect x="525.80" y="622.40" width="4.40" height="4.00" fill="#ffffff" stroke="#e83038" stroke-width="0.5"/>
<circle cx="528.00" cy="624.40" r="0.80" fill="#e83038"/>
<text x="533.00" y="626.67" font-size="6.3" stroke="#111">Cured</text>
<rect x="525.80" y="629.40" width="4.40" height="4.00" fill="#ffffff" stroke="#3b40d8" stroke-width="0.5"/>
<polygon points="528,630.3 527.1,632.2 528.9,632.2" fill="#3b40d8"/>
<text x="533.00" y="633.67" font-size="6.3" stroke="#111">Recurrence</text>
<text x="554.40" y="521.60" font-size="13" font-weight="bold" fill="#000" stroke="#000">q</text>
<rect x="585.00" y="525.20" width="89.40" height="91.40" fill="#ffffff" stroke="#8a8a8a" stroke-width="0.6"/>
<line x1="588.10" y1="614.00" x2="671.20" y2="529.30" stroke="#a0a0a0" stroke-width="0.5"/>
<polyline points="588.10,566.57 596.41,566.57 596.41,557.25" fill="none" stroke="#f23a3a" stroke-width="0.95" stroke-linejoin="miter"/>
<polyline points="613.03,538.62 613.03,529.30 637.96,529.30" fill="none" stroke="#f23a3a" stroke-width="0.95" stroke-linejoin="miter"/>
<polyline points="588.10,614.00 588.10,557.25 596.41,557.25 596.41,547.93 604.72,547.93 604.72,538.62 637.96,538.62 637.96,529.30 671.20,529.30" fill="none" stroke="#3434ee" stroke-width="1.0" stroke-linejoin="miter" stroke-linecap="square"/>
<text x="647.10" y="587.29" font-size="4.7" text-anchor="middle" fill="#f0262c" stroke="#f0262c">AUC: 0.922 (0.836-1.000)</text>
<text x="647.10" y="599.49" font-size="4.7" text-anchor="middle" fill="#2a2ff0" stroke="#2a2ff0">AUC: 0.900 (0.752-1.000)</text>
<line x1="597.70" y1="606.50" x2="604.80" y2="606.50" stroke="#f0363c" stroke-width="0.7"/>
<text x="606.80" y="608.32" font-size="5.05" stroke="#111">Signature up in recurrence group</text>
<line x1="597.70" y1="613.20" x2="604.80" y2="613.20" stroke="#3a3df0" stroke-width="0.7"/>
<text x="606.80" y="615.02" font-size="5.05" stroke="#111">Signature up in cured group</text>
<line x1="585.00" y1="614.00" x2="583.70" y2="614.00" stroke="#444" stroke-width="0.5"/>
<text x="580.70" y="614.00" font-size="6.3" text-anchor="middle" fill="#333" stroke="#333" transform="rotate(-90 580.7 614.0)">0.0</text>
<line x1="585.00" y1="597.06" x2="583.70" y2="597.06" stroke="#444" stroke-width="0.5"/>
<text x="580.70" y="597.06" font-size="6.3" text-anchor="middle" fill="#333" stroke="#333" transform="rotate(-90 580.7 597.06)">0.2</text>
<line x1="585.00" y1="580.12" x2="583.70" y2="580.12" stroke="#444" stroke-width="0.5"/>
<text x="580.70" y="580.12" font-size="6.3" text-anchor="middle" fill="#333" stroke="#333" transform="rotate(-90 580.7 580.12)">0.4</text>
<line x1="585.00" y1="563.18" x2="583.70" y2="563.18" stroke="#444" stroke-width="0.5"/>
<text x="580.70" y="563.18" font-size="6.3" text-anchor="middle" fill="#333" stroke="#333" transform="rotate(-90 580.7 563.18)">0.6</text>
<line x1="585.00" y1="546.24" x2="583.70" y2="546.24" stroke="#444" stroke-width="0.5"/>
<text x="580.70" y="546.24" font-size="6.3" text-anchor="middle" fill="#333" stroke="#333" transform="rotate(-90 580.7 546.24)">0.8</text>
<line x1="585.00" y1="529.30" x2="583.70" y2="529.30" stroke="#444" stroke-width="0.5"/>
<text x="580.70" y="529.30" font-size="6.3" text-anchor="middle" fill="#333" stroke="#333" transform="rotate(-90 580.7 529.3)">1.0</text>
<line x1="588.10" y1="616.60" x2="588.10" y2="617.90" stroke="#444" stroke-width="0.5"/>
<text x="588.10" y="626.07" font-size="6.3" text-anchor="middle" fill="#333" stroke="#333">0.0</text>
<line x1="604.72" y1="616.60" x2="604.72" y2="617.90" stroke="#444" stroke-width="0.5"/>
<text x="604.72" y="626.07" font-size="6.3" text-anchor="middle" fill="#333" stroke="#333">0.2</text>
<line x1="621.34" y1="616.60" x2="621.34" y2="617.90" stroke="#444" stroke-width="0.5"/>
<text x="621.34" y="626.07" font-size="6.3" text-anchor="middle" fill="#333" stroke="#333">0.4</text>
<line x1="637.96" y1="616.60" x2="637.96" y2="617.90" stroke="#444" stroke-width="0.5"/>
<text x="637.96" y="626.07" font-size="6.3" text-anchor="middle" fill="#333" stroke="#333">0.6</text>
<line x1="654.58" y1="616.60" x2="654.58" y2="617.90" stroke="#444" stroke-width="0.5"/>
<text x="654.58" y="626.07" font-size="6.3" text-anchor="middle" fill="#333" stroke="#333">0.8</text>
<line x1="671.20" y1="616.60" x2="671.20" y2="617.90" stroke="#444" stroke-width="0.5"/>
<text x="671.20" y="626.07" font-size="6.3" text-anchor="middle" fill="#333" stroke="#333">1.0</text>
<text x="569.40" y="572.50" font-size="6.0" text-anchor="middle" fill="#222" stroke="#222" transform="rotate(-90 569.4 572.5)">Sensitivity</text>
<text x="630.60" y="634.57" font-size="6.3" text-anchor="middle" fill="#222" stroke="#222">1-Specificity</text>
</svg>
</body></html>
